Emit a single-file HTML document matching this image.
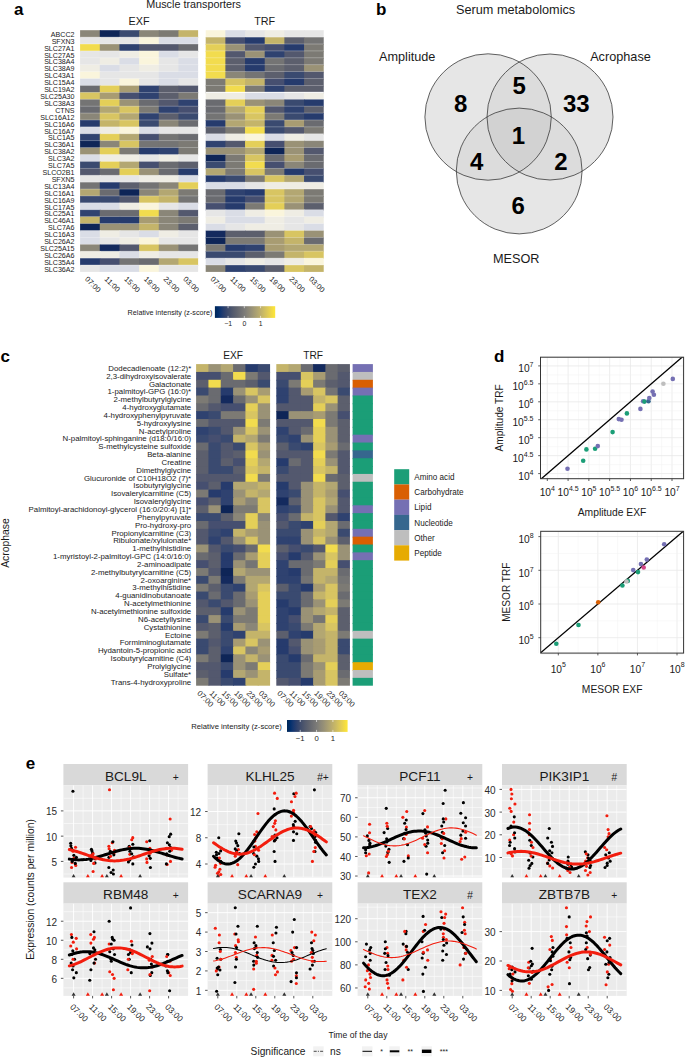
<!DOCTYPE html><html><head><meta charset="utf-8"><style>html,body{margin:0;padding:0;background:#fff;}svg{display:block;font-family:"Liberation Sans",sans-serif;}</style></head><body>
<svg width="685" height="1057" viewBox="0 0 685 1057">
<rect width="685" height="1057" fill="#fff"/>
<text x="14" y="15.4" font-size="17" font-weight="bold" fill="#000">a</text>
<text x="146.2" y="8" font-size="10.8" fill="#1a1a1a">Muscle transporters</text>
<text x="139.1" y="24.7" font-size="10.8" text-anchor="middle" fill="#1a1a1a">EXF</text>
<text x="264.7" y="24.7" font-size="10.8" text-anchor="middle" fill="#1a1a1a">TRF</text>
<rect x="80.1" y="30.2" width="20.57" height="7.81" fill="#8a8678"/>
<rect x="99.77" y="30.2" width="20.57" height="7.81" fill="#0e2557"/>
<rect x="119.44" y="30.2" width="20.57" height="7.81" fill="#3a4a70"/>
<rect x="139.11" y="30.2" width="20.57" height="7.81" fill="#8a8678"/>
<rect x="158.78" y="30.2" width="20.57" height="7.81" fill="#7c7a74"/>
<rect x="178.45" y="30.2" width="19.67" height="7.81" fill="#c4b46a"/>
<rect x="80.1" y="37.11" width="20.57" height="7.81" fill="#e6e6e6"/>
<rect x="99.77" y="37.11" width="20.57" height="7.81" fill="#e6e6e6"/>
<rect x="119.44" y="37.11" width="20.57" height="7.81" fill="#e6e6e6"/>
<rect x="139.11" y="37.11" width="20.57" height="7.81" fill="#faf5dc"/>
<rect x="158.78" y="37.11" width="20.57" height="7.81" fill="#dadde6"/>
<rect x="178.45" y="37.11" width="19.67" height="7.81" fill="#dadde6"/>
<rect x="80.1" y="44.01" width="20.57" height="7.81" fill="#f2dc4e"/>
<rect x="99.77" y="44.01" width="20.57" height="7.81" fill="#9a9276"/>
<rect x="119.44" y="44.01" width="20.57" height="7.81" fill="#2f4270"/>
<rect x="139.11" y="44.01" width="20.57" height="7.81" fill="#53586e"/>
<rect x="158.78" y="44.01" width="20.57" height="7.81" fill="#53586e"/>
<rect x="178.45" y="44.01" width="19.67" height="7.81" fill="#6a6b70"/>
<rect x="80.1" y="50.92" width="20.57" height="7.81" fill="#e6e6e6"/>
<rect x="99.77" y="50.92" width="20.57" height="7.81" fill="#e6e6e6"/>
<rect x="119.44" y="50.92" width="20.57" height="7.81" fill="#efede4"/>
<rect x="139.11" y="50.92" width="20.57" height="7.81" fill="#faf5dc"/>
<rect x="158.78" y="50.92" width="20.57" height="7.81" fill="#dadde6"/>
<rect x="178.45" y="50.92" width="19.67" height="7.81" fill="#e6e6e6"/>
<rect x="80.1" y="57.82" width="20.57" height="7.81" fill="#e6e6e6"/>
<rect x="99.77" y="57.82" width="20.57" height="7.81" fill="#efede4"/>
<rect x="119.44" y="57.82" width="20.57" height="7.81" fill="#dadde6"/>
<rect x="139.11" y="57.82" width="20.57" height="7.81" fill="#faf5dc"/>
<rect x="158.78" y="57.82" width="20.57" height="7.81" fill="#e6e6e6"/>
<rect x="178.45" y="57.82" width="19.67" height="7.81" fill="#dadde6"/>
<rect x="80.1" y="64.73" width="20.57" height="7.81" fill="#efede4"/>
<rect x="99.77" y="64.73" width="20.57" height="7.81" fill="#dadde6"/>
<rect x="119.44" y="64.73" width="20.57" height="7.81" fill="#e6e6e6"/>
<rect x="139.11" y="64.73" width="20.57" height="7.81" fill="#efede4"/>
<rect x="158.78" y="64.73" width="20.57" height="7.81" fill="#e6e6e6"/>
<rect x="178.45" y="64.73" width="19.67" height="7.81" fill="#dadde6"/>
<rect x="80.1" y="71.64" width="20.57" height="7.81" fill="#faf5dc"/>
<rect x="99.77" y="71.64" width="20.57" height="7.81" fill="#e6e6e6"/>
<rect x="119.44" y="71.64" width="20.57" height="7.81" fill="#e6e6e6"/>
<rect x="139.11" y="71.64" width="20.57" height="7.81" fill="#e6e6e6"/>
<rect x="158.78" y="71.64" width="20.57" height="7.81" fill="#dadde6"/>
<rect x="178.45" y="71.64" width="19.67" height="7.81" fill="#dadde6"/>
<rect x="80.1" y="78.54" width="20.57" height="7.81" fill="#dadde6"/>
<rect x="99.77" y="78.54" width="20.57" height="7.81" fill="#e6e6e6"/>
<rect x="119.44" y="78.54" width="20.57" height="7.81" fill="#faf5dc"/>
<rect x="139.11" y="78.54" width="20.57" height="7.81" fill="#e6e6e6"/>
<rect x="158.78" y="78.54" width="20.57" height="7.81" fill="#dadde6"/>
<rect x="178.45" y="78.54" width="19.67" height="7.81" fill="#e6e6e6"/>
<rect x="80.1" y="85.45" width="20.57" height="7.81" fill="#6a6b70"/>
<rect x="99.77" y="85.45" width="20.57" height="7.81" fill="#e4cf58"/>
<rect x="119.44" y="85.45" width="20.57" height="7.81" fill="#a89c72"/>
<rect x="139.11" y="85.45" width="20.57" height="7.81" fill="#2f4270"/>
<rect x="158.78" y="85.45" width="20.57" height="7.81" fill="#5c5f6d"/>
<rect x="178.45" y="85.45" width="19.67" height="7.81" fill="#53586e"/>
<rect x="80.1" y="92.35" width="20.57" height="7.81" fill="#d8c562"/>
<rect x="99.77" y="92.35" width="20.57" height="7.81" fill="#a89c72"/>
<rect x="119.44" y="92.35" width="20.57" height="7.81" fill="#464f70"/>
<rect x="139.11" y="92.35" width="20.57" height="7.81" fill="#2f4270"/>
<rect x="158.78" y="92.35" width="20.57" height="7.81" fill="#5c5f6d"/>
<rect x="178.45" y="92.35" width="19.67" height="7.81" fill="#7c7a74"/>
<rect x="80.1" y="99.26" width="20.57" height="7.81" fill="#747474"/>
<rect x="99.77" y="99.26" width="20.57" height="7.81" fill="#e4cf58"/>
<rect x="119.44" y="99.26" width="20.57" height="7.81" fill="#9a9276"/>
<rect x="139.11" y="99.26" width="20.57" height="7.81" fill="#6a6b70"/>
<rect x="158.78" y="99.26" width="20.57" height="7.81" fill="#53586e"/>
<rect x="178.45" y="99.26" width="19.67" height="7.81" fill="#2f4270"/>
<rect x="80.1" y="106.17" width="20.57" height="7.81" fill="#6a6b70"/>
<rect x="99.77" y="106.17" width="20.57" height="7.81" fill="#b3a772"/>
<rect x="119.44" y="106.17" width="20.57" height="7.81" fill="#d8c562"/>
<rect x="139.11" y="106.17" width="20.57" height="7.81" fill="#7c7a74"/>
<rect x="158.78" y="106.17" width="20.57" height="7.81" fill="#2f4270"/>
<rect x="178.45" y="106.17" width="19.67" height="7.81" fill="#464f70"/>
<rect x="80.1" y="113.07" width="20.57" height="7.81" fill="#8a8678"/>
<rect x="99.77" y="113.07" width="20.57" height="7.81" fill="#d8c562"/>
<rect x="119.44" y="113.07" width="20.57" height="7.81" fill="#b3a772"/>
<rect x="139.11" y="113.07" width="20.57" height="7.81" fill="#2f4270"/>
<rect x="158.78" y="113.07" width="20.57" height="7.81" fill="#5c5f6d"/>
<rect x="178.45" y="113.07" width="19.67" height="7.81" fill="#3a4a70"/>
<rect x="80.1" y="119.98" width="20.57" height="7.81" fill="#263b6d"/>
<rect x="99.77" y="119.98" width="20.57" height="7.81" fill="#c4b46a"/>
<rect x="119.44" y="119.98" width="20.57" height="7.81" fill="#d8c562"/>
<rect x="139.11" y="119.98" width="20.57" height="7.81" fill="#3a4a70"/>
<rect x="158.78" y="119.98" width="20.57" height="7.81" fill="#8a8678"/>
<rect x="178.45" y="119.98" width="19.67" height="7.81" fill="#6a6b70"/>
<rect x="80.1" y="126.88" width="20.57" height="7.81" fill="#dadde6"/>
<rect x="99.77" y="126.88" width="20.57" height="7.81" fill="#efede4"/>
<rect x="119.44" y="126.88" width="20.57" height="7.81" fill="#faf5dc"/>
<rect x="139.11" y="126.88" width="20.57" height="7.81" fill="#dadde6"/>
<rect x="158.78" y="126.88" width="20.57" height="7.81" fill="#e6e6e6"/>
<rect x="178.45" y="126.88" width="19.67" height="7.81" fill="#e6e6e6"/>
<rect x="80.1" y="133.79" width="20.57" height="7.81" fill="#2f4270"/>
<rect x="99.77" y="133.79" width="20.57" height="7.81" fill="#e4cf58"/>
<rect x="119.44" y="133.79" width="20.57" height="7.81" fill="#b3a772"/>
<rect x="139.11" y="133.79" width="20.57" height="7.81" fill="#464f70"/>
<rect x="158.78" y="133.79" width="20.57" height="7.81" fill="#747474"/>
<rect x="178.45" y="133.79" width="19.67" height="7.81" fill="#6a6b70"/>
<rect x="80.1" y="140.7" width="20.57" height="7.81" fill="#0e2557"/>
<rect x="99.77" y="140.7" width="20.57" height="7.81" fill="#8a8678"/>
<rect x="119.44" y="140.7" width="20.57" height="7.81" fill="#d8c562"/>
<rect x="139.11" y="140.7" width="20.57" height="7.81" fill="#747474"/>
<rect x="158.78" y="140.7" width="20.57" height="7.81" fill="#747474"/>
<rect x="178.45" y="140.7" width="19.67" height="7.81" fill="#7c7a74"/>
<rect x="80.1" y="147.6" width="20.57" height="7.81" fill="#9a9276"/>
<rect x="99.77" y="147.6" width="20.57" height="7.81" fill="#e4cf58"/>
<rect x="119.44" y="147.6" width="20.57" height="7.81" fill="#7c7a74"/>
<rect x="139.11" y="147.6" width="20.57" height="7.81" fill="#263b6d"/>
<rect x="158.78" y="147.6" width="20.57" height="7.81" fill="#2f4270"/>
<rect x="178.45" y="147.6" width="19.67" height="7.81" fill="#7c7a74"/>
<rect x="80.1" y="154.51" width="20.57" height="7.81" fill="#dadde6"/>
<rect x="99.77" y="154.51" width="20.57" height="7.81" fill="#efede4"/>
<rect x="119.44" y="154.51" width="20.57" height="7.81" fill="#efede4"/>
<rect x="139.11" y="154.51" width="20.57" height="7.81" fill="#e6e6e6"/>
<rect x="158.78" y="154.51" width="20.57" height="7.81" fill="#efede4"/>
<rect x="178.45" y="154.51" width="19.67" height="7.81" fill="#e6e6e6"/>
<rect x="80.1" y="161.41" width="20.57" height="7.81" fill="#3a4a70"/>
<rect x="99.77" y="161.41" width="20.57" height="7.81" fill="#e4cf58"/>
<rect x="119.44" y="161.41" width="20.57" height="7.81" fill="#b3a772"/>
<rect x="139.11" y="161.41" width="20.57" height="7.81" fill="#464f70"/>
<rect x="158.78" y="161.41" width="20.57" height="7.81" fill="#6a6b70"/>
<rect x="178.45" y="161.41" width="19.67" height="7.81" fill="#5c5f6d"/>
<rect x="80.1" y="168.32" width="20.57" height="7.81" fill="#53586e"/>
<rect x="99.77" y="168.32" width="20.57" height="7.81" fill="#6a6b70"/>
<rect x="119.44" y="168.32" width="20.57" height="7.81" fill="#e4cf58"/>
<rect x="139.11" y="168.32" width="20.57" height="7.81" fill="#9a9276"/>
<rect x="158.78" y="168.32" width="20.57" height="7.81" fill="#6a6b70"/>
<rect x="178.45" y="168.32" width="19.67" height="7.81" fill="#263b6d"/>
<rect x="80.1" y="175.23" width="20.57" height="7.81" fill="#e6e6e6"/>
<rect x="99.77" y="175.23" width="20.57" height="7.81" fill="#e6e6e6"/>
<rect x="119.44" y="175.23" width="20.57" height="7.81" fill="#e6e6e6"/>
<rect x="139.11" y="175.23" width="20.57" height="7.81" fill="#efede4"/>
<rect x="158.78" y="175.23" width="20.57" height="7.81" fill="#efede4"/>
<rect x="178.45" y="175.23" width="19.67" height="7.81" fill="#dadde6"/>
<rect x="80.1" y="182.13" width="20.57" height="7.81" fill="#747474"/>
<rect x="99.77" y="182.13" width="20.57" height="7.81" fill="#263b6d"/>
<rect x="119.44" y="182.13" width="20.57" height="7.81" fill="#5c5f6d"/>
<rect x="139.11" y="182.13" width="20.57" height="7.81" fill="#747474"/>
<rect x="158.78" y="182.13" width="20.57" height="7.81" fill="#8a8678"/>
<rect x="178.45" y="182.13" width="19.67" height="7.81" fill="#e4cf58"/>
<rect x="80.1" y="189.04" width="20.57" height="7.81" fill="#b3a772"/>
<rect x="99.77" y="189.04" width="20.57" height="7.81" fill="#6a6b70"/>
<rect x="119.44" y="189.04" width="20.57" height="7.81" fill="#0e2557"/>
<rect x="139.11" y="189.04" width="20.57" height="7.81" fill="#8a8678"/>
<rect x="158.78" y="189.04" width="20.57" height="7.81" fill="#b3a772"/>
<rect x="178.45" y="189.04" width="19.67" height="7.81" fill="#7c7a74"/>
<rect x="80.1" y="195.94" width="20.57" height="7.81" fill="#3a4a70"/>
<rect x="99.77" y="195.94" width="20.57" height="7.81" fill="#3a4a70"/>
<rect x="119.44" y="195.94" width="20.57" height="7.81" fill="#53586e"/>
<rect x="139.11" y="195.94" width="20.57" height="7.81" fill="#d8c562"/>
<rect x="158.78" y="195.94" width="20.57" height="7.81" fill="#c4b46a"/>
<rect x="178.45" y="195.94" width="19.67" height="7.81" fill="#747474"/>
<rect x="80.1" y="202.85" width="20.57" height="7.81" fill="#dadde6"/>
<rect x="99.77" y="202.85" width="20.57" height="7.81" fill="#dadde6"/>
<rect x="119.44" y="202.85" width="20.57" height="7.81" fill="#efede4"/>
<rect x="139.11" y="202.85" width="20.57" height="7.81" fill="#faf5dc"/>
<rect x="158.78" y="202.85" width="20.57" height="7.81" fill="#e6e6e6"/>
<rect x="178.45" y="202.85" width="19.67" height="7.81" fill="#dadde6"/>
<rect x="80.1" y="209.76" width="20.57" height="7.81" fill="#2f4270"/>
<rect x="99.77" y="209.76" width="20.57" height="7.81" fill="#6a6b70"/>
<rect x="119.44" y="209.76" width="20.57" height="7.81" fill="#6a6b70"/>
<rect x="139.11" y="209.76" width="20.57" height="7.81" fill="#f2dc4e"/>
<rect x="158.78" y="209.76" width="20.57" height="7.81" fill="#8a8678"/>
<rect x="178.45" y="209.76" width="19.67" height="7.81" fill="#53586e"/>
<rect x="80.1" y="216.66" width="20.57" height="7.81" fill="#c4b46a"/>
<rect x="99.77" y="216.66" width="20.57" height="7.81" fill="#263b6d"/>
<rect x="119.44" y="216.66" width="20.57" height="7.81" fill="#263b6d"/>
<rect x="139.11" y="216.66" width="20.57" height="7.81" fill="#a89c72"/>
<rect x="158.78" y="216.66" width="20.57" height="7.81" fill="#8a8678"/>
<rect x="178.45" y="216.66" width="19.67" height="7.81" fill="#7c7a74"/>
<rect x="80.1" y="223.57" width="20.57" height="7.81" fill="#0e2557"/>
<rect x="99.77" y="223.57" width="20.57" height="7.81" fill="#9a9276"/>
<rect x="119.44" y="223.57" width="20.57" height="7.81" fill="#9a9276"/>
<rect x="139.11" y="223.57" width="20.57" height="7.81" fill="#c4b46a"/>
<rect x="158.78" y="223.57" width="20.57" height="7.81" fill="#8a8678"/>
<rect x="178.45" y="223.57" width="19.67" height="7.81" fill="#5c5f6d"/>
<rect x="80.1" y="230.47" width="20.57" height="7.81" fill="#dadde6"/>
<rect x="99.77" y="230.47" width="20.57" height="7.81" fill="#efede4"/>
<rect x="119.44" y="230.47" width="20.57" height="7.81" fill="#e6e6e6"/>
<rect x="139.11" y="230.47" width="20.57" height="7.81" fill="#dadde6"/>
<rect x="158.78" y="230.47" width="20.57" height="7.81" fill="#efede4"/>
<rect x="178.45" y="230.47" width="19.67" height="7.81" fill="#e6e6e6"/>
<rect x="80.1" y="237.38" width="20.57" height="7.81" fill="#dadde6"/>
<rect x="99.77" y="237.38" width="20.57" height="7.81" fill="#e6e6e6"/>
<rect x="119.44" y="237.38" width="20.57" height="7.81" fill="#efede4"/>
<rect x="139.11" y="237.38" width="20.57" height="7.81" fill="#faf5dc"/>
<rect x="158.78" y="237.38" width="20.57" height="7.81" fill="#e6e6e6"/>
<rect x="178.45" y="237.38" width="19.67" height="7.81" fill="#e6e6e6"/>
<rect x="80.1" y="244.29" width="20.57" height="7.81" fill="#8a8678"/>
<rect x="99.77" y="244.29" width="20.57" height="7.81" fill="#142a5e"/>
<rect x="119.44" y="244.29" width="20.57" height="7.81" fill="#53586e"/>
<rect x="139.11" y="244.29" width="20.57" height="7.81" fill="#d8c562"/>
<rect x="158.78" y="244.29" width="20.57" height="7.81" fill="#9a9276"/>
<rect x="178.45" y="244.29" width="19.67" height="7.81" fill="#747474"/>
<rect x="80.1" y="251.19" width="20.57" height="7.81" fill="#efede4"/>
<rect x="99.77" y="251.19" width="20.57" height="7.81" fill="#efede4"/>
<rect x="119.44" y="251.19" width="20.57" height="7.81" fill="#dadde6"/>
<rect x="139.11" y="251.19" width="20.57" height="7.81" fill="#efede4"/>
<rect x="158.78" y="251.19" width="20.57" height="7.81" fill="#e6e6e6"/>
<rect x="178.45" y="251.19" width="19.67" height="7.81" fill="#e6e6e6"/>
<rect x="80.1" y="258.1" width="20.57" height="7.81" fill="#263b6d"/>
<rect x="99.77" y="258.1" width="20.57" height="7.81" fill="#464f70"/>
<rect x="119.44" y="258.1" width="20.57" height="7.81" fill="#747474"/>
<rect x="139.11" y="258.1" width="20.57" height="7.81" fill="#6a6b70"/>
<rect x="158.78" y="258.1" width="20.57" height="7.81" fill="#b3a772"/>
<rect x="178.45" y="258.1" width="19.67" height="7.81" fill="#d8c562"/>
<rect x="80.1" y="265" width="20.57" height="6.91" fill="#e6e6e6"/>
<rect x="99.77" y="265" width="20.57" height="6.91" fill="#dadde6"/>
<rect x="119.44" y="265" width="20.57" height="6.91" fill="#dadde6"/>
<rect x="139.11" y="265" width="20.57" height="6.91" fill="#faf5dc"/>
<rect x="158.78" y="265" width="20.57" height="6.91" fill="#e6e6e6"/>
<rect x="178.45" y="265" width="19.67" height="6.91" fill="#e6e6e6"/>
<rect x="80.1" y="36.76" width="118.02" height="0.7" fill="#fff" fill-opacity="0.4"/>
<rect x="80.1" y="43.66" width="118.02" height="0.7" fill="#fff" fill-opacity="0.4"/>
<rect x="80.1" y="50.57" width="118.02" height="0.7" fill="#fff" fill-opacity="0.4"/>
<rect x="80.1" y="57.47" width="118.02" height="0.7" fill="#fff" fill-opacity="0.4"/>
<rect x="80.1" y="64.38" width="118.02" height="0.7" fill="#fff" fill-opacity="0.4"/>
<rect x="80.1" y="71.29" width="118.02" height="0.7" fill="#fff" fill-opacity="0.4"/>
<rect x="80.1" y="78.19" width="118.02" height="0.7" fill="#fff" fill-opacity="0.4"/>
<rect x="80.1" y="85.1" width="118.02" height="0.7" fill="#fff" fill-opacity="0.4"/>
<rect x="80.1" y="92" width="118.02" height="0.7" fill="#fff" fill-opacity="0.4"/>
<rect x="80.1" y="98.91" width="118.02" height="0.7" fill="#fff" fill-opacity="0.4"/>
<rect x="80.1" y="105.82" width="118.02" height="0.7" fill="#fff" fill-opacity="0.4"/>
<rect x="80.1" y="112.72" width="118.02" height="0.7" fill="#fff" fill-opacity="0.4"/>
<rect x="80.1" y="119.63" width="118.02" height="0.7" fill="#fff" fill-opacity="0.4"/>
<rect x="80.1" y="126.53" width="118.02" height="0.7" fill="#fff" fill-opacity="0.4"/>
<rect x="80.1" y="133.44" width="118.02" height="0.7" fill="#fff" fill-opacity="0.4"/>
<rect x="80.1" y="140.35" width="118.02" height="0.7" fill="#fff" fill-opacity="0.4"/>
<rect x="80.1" y="147.25" width="118.02" height="0.7" fill="#fff" fill-opacity="0.4"/>
<rect x="80.1" y="154.16" width="118.02" height="0.7" fill="#fff" fill-opacity="0.4"/>
<rect x="80.1" y="161.06" width="118.02" height="0.7" fill="#fff" fill-opacity="0.4"/>
<rect x="80.1" y="167.97" width="118.02" height="0.7" fill="#fff" fill-opacity="0.4"/>
<rect x="80.1" y="174.88" width="118.02" height="0.7" fill="#fff" fill-opacity="0.4"/>
<rect x="80.1" y="181.78" width="118.02" height="0.7" fill="#fff" fill-opacity="0.4"/>
<rect x="80.1" y="188.69" width="118.02" height="0.7" fill="#fff" fill-opacity="0.4"/>
<rect x="80.1" y="195.59" width="118.02" height="0.7" fill="#fff" fill-opacity="0.4"/>
<rect x="80.1" y="202.5" width="118.02" height="0.7" fill="#fff" fill-opacity="0.4"/>
<rect x="80.1" y="209.41" width="118.02" height="0.7" fill="#fff" fill-opacity="0.4"/>
<rect x="80.1" y="216.31" width="118.02" height="0.7" fill="#fff" fill-opacity="0.4"/>
<rect x="80.1" y="223.22" width="118.02" height="0.7" fill="#fff" fill-opacity="0.4"/>
<rect x="80.1" y="230.12" width="118.02" height="0.7" fill="#fff" fill-opacity="0.4"/>
<rect x="80.1" y="237.03" width="118.02" height="0.7" fill="#fff" fill-opacity="0.4"/>
<rect x="80.1" y="243.94" width="118.02" height="0.7" fill="#fff" fill-opacity="0.4"/>
<rect x="80.1" y="250.84" width="118.02" height="0.7" fill="#fff" fill-opacity="0.4"/>
<rect x="80.1" y="257.75" width="118.02" height="0.7" fill="#fff" fill-opacity="0.4"/>
<rect x="80.1" y="264.65" width="118.02" height="0.7" fill="#fff" fill-opacity="0.4"/>
<rect x="205.7" y="30.2" width="20.57" height="7.81" fill="#faf5dc"/>
<rect x="225.37" y="30.2" width="20.57" height="7.81" fill="#dadde6"/>
<rect x="245.04" y="30.2" width="20.57" height="7.81" fill="#e6e6e6"/>
<rect x="264.71" y="30.2" width="20.57" height="7.81" fill="#efede4"/>
<rect x="284.38" y="30.2" width="20.57" height="7.81" fill="#e6e6e6"/>
<rect x="304.05" y="30.2" width="19.67" height="7.81" fill="#e6e6e6"/>
<rect x="205.7" y="37.11" width="20.57" height="7.81" fill="#c4b46a"/>
<rect x="225.37" y="37.11" width="20.57" height="7.81" fill="#464f70"/>
<rect x="245.04" y="37.11" width="20.57" height="7.81" fill="#263b6d"/>
<rect x="264.71" y="37.11" width="20.57" height="7.81" fill="#c4b46a"/>
<rect x="284.38" y="37.11" width="20.57" height="7.81" fill="#5c5f6d"/>
<rect x="304.05" y="37.11" width="19.67" height="7.81" fill="#747474"/>
<rect x="205.7" y="44.01" width="20.57" height="7.81" fill="#e4cf58"/>
<rect x="225.37" y="44.01" width="20.57" height="7.81" fill="#9a9276"/>
<rect x="245.04" y="44.01" width="20.57" height="7.81" fill="#53586e"/>
<rect x="264.71" y="44.01" width="20.57" height="7.81" fill="#464f70"/>
<rect x="284.38" y="44.01" width="20.57" height="7.81" fill="#263b6d"/>
<rect x="304.05" y="44.01" width="19.67" height="7.81" fill="#7c7a74"/>
<rect x="205.7" y="50.92" width="20.57" height="7.81" fill="#f2dc4e"/>
<rect x="225.37" y="50.92" width="20.57" height="7.81" fill="#53586e"/>
<rect x="245.04" y="50.92" width="20.57" height="7.81" fill="#9a9276"/>
<rect x="264.71" y="50.92" width="20.57" height="7.81" fill="#2f4270"/>
<rect x="284.38" y="50.92" width="20.57" height="7.81" fill="#53586e"/>
<rect x="304.05" y="50.92" width="19.67" height="7.81" fill="#7c7a74"/>
<rect x="205.7" y="57.82" width="20.57" height="7.81" fill="#f2dc4e"/>
<rect x="225.37" y="57.82" width="20.57" height="7.81" fill="#5c5f6d"/>
<rect x="245.04" y="57.82" width="20.57" height="7.81" fill="#263b6d"/>
<rect x="264.71" y="57.82" width="20.57" height="7.81" fill="#747474"/>
<rect x="284.38" y="57.82" width="20.57" height="7.81" fill="#5c5f6d"/>
<rect x="304.05" y="57.82" width="19.67" height="7.81" fill="#7c7a74"/>
<rect x="205.7" y="64.73" width="20.57" height="7.81" fill="#f2dc4e"/>
<rect x="225.37" y="64.73" width="20.57" height="7.81" fill="#5c5f6d"/>
<rect x="245.04" y="64.73" width="20.57" height="7.81" fill="#263b6d"/>
<rect x="264.71" y="64.73" width="20.57" height="7.81" fill="#6a6b70"/>
<rect x="284.38" y="64.73" width="20.57" height="7.81" fill="#5c5f6d"/>
<rect x="304.05" y="64.73" width="19.67" height="7.81" fill="#9a9276"/>
<rect x="205.7" y="71.64" width="20.57" height="7.81" fill="#f2dc4e"/>
<rect x="225.37" y="71.64" width="20.57" height="7.81" fill="#8a8678"/>
<rect x="245.04" y="71.64" width="20.57" height="7.81" fill="#747474"/>
<rect x="264.71" y="71.64" width="20.57" height="7.81" fill="#5c5f6d"/>
<rect x="284.38" y="71.64" width="20.57" height="7.81" fill="#3a4a70"/>
<rect x="304.05" y="71.64" width="19.67" height="7.81" fill="#53586e"/>
<rect x="205.7" y="78.54" width="20.57" height="7.81" fill="#7c7a74"/>
<rect x="225.37" y="78.54" width="20.57" height="7.81" fill="#d8c562"/>
<rect x="245.04" y="78.54" width="20.57" height="7.81" fill="#c4b46a"/>
<rect x="264.71" y="78.54" width="20.57" height="7.81" fill="#464f70"/>
<rect x="284.38" y="78.54" width="20.57" height="7.81" fill="#263b6d"/>
<rect x="304.05" y="78.54" width="19.67" height="7.81" fill="#5c5f6d"/>
<rect x="205.7" y="85.45" width="20.57" height="7.81" fill="#7c7a74"/>
<rect x="225.37" y="85.45" width="20.57" height="7.81" fill="#f2dc4e"/>
<rect x="245.04" y="85.45" width="20.57" height="7.81" fill="#7c7a74"/>
<rect x="264.71" y="85.45" width="20.57" height="7.81" fill="#2f4270"/>
<rect x="284.38" y="85.45" width="20.57" height="7.81" fill="#5c5f6d"/>
<rect x="304.05" y="85.45" width="19.67" height="7.81" fill="#5c5f6d"/>
<rect x="205.7" y="92.35" width="20.57" height="7.81" fill="#efede4"/>
<rect x="225.37" y="92.35" width="20.57" height="7.81" fill="#efede4"/>
<rect x="245.04" y="92.35" width="20.57" height="7.81" fill="#dadde6"/>
<rect x="264.71" y="92.35" width="20.57" height="7.81" fill="#dadde6"/>
<rect x="284.38" y="92.35" width="20.57" height="7.81" fill="#e6e6e6"/>
<rect x="304.05" y="92.35" width="19.67" height="7.81" fill="#efede4"/>
<rect x="205.7" y="99.26" width="20.57" height="7.81" fill="#6a6b70"/>
<rect x="225.37" y="99.26" width="20.57" height="7.81" fill="#e4cf58"/>
<rect x="245.04" y="99.26" width="20.57" height="7.81" fill="#9a9276"/>
<rect x="264.71" y="99.26" width="20.57" height="7.81" fill="#8a8678"/>
<rect x="284.38" y="99.26" width="20.57" height="7.81" fill="#3a4a70"/>
<rect x="304.05" y="99.26" width="19.67" height="7.81" fill="#263b6d"/>
<rect x="205.7" y="106.17" width="20.57" height="7.81" fill="#6a6b70"/>
<rect x="225.37" y="106.17" width="20.57" height="7.81" fill="#b3a772"/>
<rect x="245.04" y="106.17" width="20.57" height="7.81" fill="#e4cf58"/>
<rect x="264.71" y="106.17" width="20.57" height="7.81" fill="#53586e"/>
<rect x="284.38" y="106.17" width="20.57" height="7.81" fill="#2f4270"/>
<rect x="304.05" y="106.17" width="19.67" height="7.81" fill="#5c5f6d"/>
<rect x="205.7" y="113.07" width="20.57" height="7.81" fill="#747474"/>
<rect x="225.37" y="113.07" width="20.57" height="7.81" fill="#9a9276"/>
<rect x="245.04" y="113.07" width="20.57" height="7.81" fill="#d8c562"/>
<rect x="264.71" y="113.07" width="20.57" height="7.81" fill="#7c7a74"/>
<rect x="284.38" y="113.07" width="20.57" height="7.81" fill="#3a4a70"/>
<rect x="304.05" y="113.07" width="19.67" height="7.81" fill="#263b6d"/>
<rect x="205.7" y="119.98" width="20.57" height="7.81" fill="#263b6d"/>
<rect x="225.37" y="119.98" width="20.57" height="7.81" fill="#b3a772"/>
<rect x="245.04" y="119.98" width="20.57" height="7.81" fill="#c4b46a"/>
<rect x="264.71" y="119.98" width="20.57" height="7.81" fill="#3a4a70"/>
<rect x="284.38" y="119.98" width="20.57" height="7.81" fill="#a89c72"/>
<rect x="304.05" y="119.98" width="19.67" height="7.81" fill="#6a6b70"/>
<rect x="205.7" y="126.88" width="20.57" height="7.81" fill="#5c5f6d"/>
<rect x="225.37" y="126.88" width="20.57" height="7.81" fill="#7c7a74"/>
<rect x="245.04" y="126.88" width="20.57" height="7.81" fill="#f2dc4e"/>
<rect x="264.71" y="126.88" width="20.57" height="7.81" fill="#3a4a70"/>
<rect x="284.38" y="126.88" width="20.57" height="7.81" fill="#53586e"/>
<rect x="304.05" y="126.88" width="19.67" height="7.81" fill="#7c7a74"/>
<rect x="205.7" y="133.79" width="20.57" height="7.81" fill="#dadde6"/>
<rect x="225.37" y="133.79" width="20.57" height="7.81" fill="#efede4"/>
<rect x="245.04" y="133.79" width="20.57" height="7.81" fill="#faf5dc"/>
<rect x="264.71" y="133.79" width="20.57" height="7.81" fill="#dadde6"/>
<rect x="284.38" y="133.79" width="20.57" height="7.81" fill="#efede4"/>
<rect x="304.05" y="133.79" width="19.67" height="7.81" fill="#e6e6e6"/>
<rect x="205.7" y="140.7" width="20.57" height="7.81" fill="#2f4270"/>
<rect x="225.37" y="140.7" width="20.57" height="7.81" fill="#53586e"/>
<rect x="245.04" y="140.7" width="20.57" height="7.81" fill="#e4cf58"/>
<rect x="264.71" y="140.7" width="20.57" height="7.81" fill="#464f70"/>
<rect x="284.38" y="140.7" width="20.57" height="7.81" fill="#9a9276"/>
<rect x="304.05" y="140.7" width="19.67" height="7.81" fill="#8a8678"/>
<rect x="205.7" y="147.6" width="20.57" height="7.81" fill="#9a9276"/>
<rect x="225.37" y="147.6" width="20.57" height="7.81" fill="#9a9276"/>
<rect x="245.04" y="147.6" width="20.57" height="7.81" fill="#b3a772"/>
<rect x="264.71" y="147.6" width="20.57" height="7.81" fill="#0e2557"/>
<rect x="284.38" y="147.6" width="20.57" height="7.81" fill="#9a9276"/>
<rect x="304.05" y="147.6" width="19.67" height="7.81" fill="#53586e"/>
<rect x="205.7" y="154.51" width="20.57" height="7.81" fill="#0e2557"/>
<rect x="225.37" y="154.51" width="20.57" height="7.81" fill="#7c7a74"/>
<rect x="245.04" y="154.51" width="20.57" height="7.81" fill="#d8c562"/>
<rect x="264.71" y="154.51" width="20.57" height="7.81" fill="#6a6b70"/>
<rect x="284.38" y="154.51" width="20.57" height="7.81" fill="#a89c72"/>
<rect x="304.05" y="154.51" width="19.67" height="7.81" fill="#6a6b70"/>
<rect x="205.7" y="161.41" width="20.57" height="7.81" fill="#3a4a70"/>
<rect x="225.37" y="161.41" width="20.57" height="7.81" fill="#7c7a74"/>
<rect x="245.04" y="161.41" width="20.57" height="7.81" fill="#f2dc4e"/>
<rect x="264.71" y="161.41" width="20.57" height="7.81" fill="#464f70"/>
<rect x="284.38" y="161.41" width="20.57" height="7.81" fill="#8a8678"/>
<rect x="304.05" y="161.41" width="19.67" height="7.81" fill="#6a6b70"/>
<rect x="205.7" y="168.32" width="20.57" height="7.81" fill="#b3a772"/>
<rect x="225.37" y="168.32" width="20.57" height="7.81" fill="#7c7a74"/>
<rect x="245.04" y="168.32" width="20.57" height="7.81" fill="#d8c562"/>
<rect x="264.71" y="168.32" width="20.57" height="7.81" fill="#7c7a74"/>
<rect x="284.38" y="168.32" width="20.57" height="7.81" fill="#263b6d"/>
<rect x="304.05" y="168.32" width="19.67" height="7.81" fill="#464f70"/>
<rect x="205.7" y="175.23" width="20.57" height="7.81" fill="#263b6d"/>
<rect x="225.37" y="175.23" width="20.57" height="7.81" fill="#3a4a70"/>
<rect x="245.04" y="175.23" width="20.57" height="7.81" fill="#7c7a74"/>
<rect x="264.71" y="175.23" width="20.57" height="7.81" fill="#d8c562"/>
<rect x="284.38" y="175.23" width="20.57" height="7.81" fill="#b3a772"/>
<rect x="304.05" y="175.23" width="19.67" height="7.81" fill="#3a4a70"/>
<rect x="205.7" y="182.13" width="20.57" height="7.81" fill="#dadde6"/>
<rect x="225.37" y="182.13" width="20.57" height="7.81" fill="#dadde6"/>
<rect x="245.04" y="182.13" width="20.57" height="7.81" fill="#e6e6e6"/>
<rect x="264.71" y="182.13" width="20.57" height="7.81" fill="#efede4"/>
<rect x="284.38" y="182.13" width="20.57" height="7.81" fill="#efede4"/>
<rect x="304.05" y="182.13" width="19.67" height="7.81" fill="#efede4"/>
<rect x="205.7" y="189.04" width="20.57" height="7.81" fill="#6a6b70"/>
<rect x="225.37" y="189.04" width="20.57" height="7.81" fill="#2f4270"/>
<rect x="245.04" y="189.04" width="20.57" height="7.81" fill="#263b6d"/>
<rect x="264.71" y="189.04" width="20.57" height="7.81" fill="#d8c562"/>
<rect x="284.38" y="189.04" width="20.57" height="7.81" fill="#b3a772"/>
<rect x="304.05" y="189.04" width="19.67" height="7.81" fill="#7c7a74"/>
<rect x="205.7" y="195.94" width="20.57" height="7.81" fill="#6a6b70"/>
<rect x="225.37" y="195.94" width="20.57" height="7.81" fill="#263b6d"/>
<rect x="245.04" y="195.94" width="20.57" height="7.81" fill="#464f70"/>
<rect x="264.71" y="195.94" width="20.57" height="7.81" fill="#d8c562"/>
<rect x="284.38" y="195.94" width="20.57" height="7.81" fill="#b3a772"/>
<rect x="304.05" y="195.94" width="19.67" height="7.81" fill="#7c7a74"/>
<rect x="205.7" y="202.85" width="20.57" height="7.81" fill="#464f70"/>
<rect x="225.37" y="202.85" width="20.57" height="7.81" fill="#263b6d"/>
<rect x="245.04" y="202.85" width="20.57" height="7.81" fill="#7c7a74"/>
<rect x="264.71" y="202.85" width="20.57" height="7.81" fill="#e4cf58"/>
<rect x="284.38" y="202.85" width="20.57" height="7.81" fill="#9a9276"/>
<rect x="304.05" y="202.85" width="19.67" height="7.81" fill="#5c5f6d"/>
<rect x="205.7" y="209.76" width="20.57" height="7.81" fill="#e6e6e6"/>
<rect x="225.37" y="209.76" width="20.57" height="7.81" fill="#dadde6"/>
<rect x="245.04" y="209.76" width="20.57" height="7.81" fill="#efede4"/>
<rect x="264.71" y="209.76" width="20.57" height="7.81" fill="#faf5dc"/>
<rect x="284.38" y="209.76" width="20.57" height="7.81" fill="#efede4"/>
<rect x="304.05" y="209.76" width="19.67" height="7.81" fill="#dadde6"/>
<rect x="205.7" y="216.66" width="20.57" height="7.81" fill="#efede4"/>
<rect x="225.37" y="216.66" width="20.57" height="7.81" fill="#dadde6"/>
<rect x="245.04" y="216.66" width="20.57" height="7.81" fill="#dadde6"/>
<rect x="264.71" y="216.66" width="20.57" height="7.81" fill="#efede4"/>
<rect x="284.38" y="216.66" width="20.57" height="7.81" fill="#e6e6e6"/>
<rect x="304.05" y="216.66" width="19.67" height="7.81" fill="#efede4"/>
<rect x="205.7" y="223.57" width="20.57" height="7.81" fill="#dadde6"/>
<rect x="225.37" y="223.57" width="20.57" height="7.81" fill="#e6e6e6"/>
<rect x="245.04" y="223.57" width="20.57" height="7.81" fill="#efede4"/>
<rect x="264.71" y="223.57" width="20.57" height="7.81" fill="#efede4"/>
<rect x="284.38" y="223.57" width="20.57" height="7.81" fill="#e6e6e6"/>
<rect x="304.05" y="223.57" width="19.67" height="7.81" fill="#dadde6"/>
<rect x="205.7" y="230.47" width="20.57" height="7.81" fill="#142a5e"/>
<rect x="225.37" y="230.47" width="20.57" height="7.81" fill="#5c5f6d"/>
<rect x="245.04" y="230.47" width="20.57" height="7.81" fill="#5c5f6d"/>
<rect x="264.71" y="230.47" width="20.57" height="7.81" fill="#9a9276"/>
<rect x="284.38" y="230.47" width="20.57" height="7.81" fill="#d8c562"/>
<rect x="304.05" y="230.47" width="19.67" height="7.81" fill="#9a9276"/>
<rect x="205.7" y="237.38" width="20.57" height="7.81" fill="#0e2557"/>
<rect x="225.37" y="237.38" width="20.57" height="7.81" fill="#7c7a74"/>
<rect x="245.04" y="237.38" width="20.57" height="7.81" fill="#7c7a74"/>
<rect x="264.71" y="237.38" width="20.57" height="7.81" fill="#a89c72"/>
<rect x="284.38" y="237.38" width="20.57" height="7.81" fill="#c4b46a"/>
<rect x="304.05" y="237.38" width="19.67" height="7.81" fill="#6a6b70"/>
<rect x="205.7" y="244.29" width="20.57" height="7.81" fill="#7c7a74"/>
<rect x="225.37" y="244.29" width="20.57" height="7.81" fill="#263b6d"/>
<rect x="245.04" y="244.29" width="20.57" height="7.81" fill="#2f4270"/>
<rect x="264.71" y="244.29" width="20.57" height="7.81" fill="#a89c72"/>
<rect x="284.38" y="244.29" width="20.57" height="7.81" fill="#b3a772"/>
<rect x="304.05" y="244.29" width="19.67" height="7.81" fill="#b3a772"/>
<rect x="205.7" y="251.19" width="20.57" height="7.81" fill="#3a4a70"/>
<rect x="225.37" y="251.19" width="20.57" height="7.81" fill="#3a4a70"/>
<rect x="245.04" y="251.19" width="20.57" height="7.81" fill="#5c5f6d"/>
<rect x="264.71" y="251.19" width="20.57" height="7.81" fill="#7c7a74"/>
<rect x="284.38" y="251.19" width="20.57" height="7.81" fill="#c4b46a"/>
<rect x="304.05" y="251.19" width="19.67" height="7.81" fill="#d8c562"/>
<rect x="205.7" y="258.1" width="20.57" height="7.81" fill="#dadde6"/>
<rect x="225.37" y="258.1" width="20.57" height="7.81" fill="#e6e6e6"/>
<rect x="245.04" y="258.1" width="20.57" height="7.81" fill="#efede4"/>
<rect x="264.71" y="258.1" width="20.57" height="7.81" fill="#e6e6e6"/>
<rect x="284.38" y="258.1" width="20.57" height="7.81" fill="#efede4"/>
<rect x="304.05" y="258.1" width="19.67" height="7.81" fill="#faf5dc"/>
<rect x="205.7" y="265" width="20.57" height="6.91" fill="#8a8678"/>
<rect x="225.37" y="265" width="20.57" height="6.91" fill="#2f4270"/>
<rect x="245.04" y="265" width="20.57" height="6.91" fill="#3a4a70"/>
<rect x="264.71" y="265" width="20.57" height="6.91" fill="#5c5f6d"/>
<rect x="284.38" y="265" width="20.57" height="6.91" fill="#d8c562"/>
<rect x="304.05" y="265" width="19.67" height="6.91" fill="#c4b46a"/>
<rect x="205.7" y="36.76" width="118.02" height="0.7" fill="#fff" fill-opacity="0.4"/>
<rect x="205.7" y="43.66" width="118.02" height="0.7" fill="#fff" fill-opacity="0.4"/>
<rect x="205.7" y="50.57" width="118.02" height="0.7" fill="#fff" fill-opacity="0.4"/>
<rect x="205.7" y="57.47" width="118.02" height="0.7" fill="#fff" fill-opacity="0.4"/>
<rect x="205.7" y="64.38" width="118.02" height="0.7" fill="#fff" fill-opacity="0.4"/>
<rect x="205.7" y="71.29" width="118.02" height="0.7" fill="#fff" fill-opacity="0.4"/>
<rect x="205.7" y="78.19" width="118.02" height="0.7" fill="#fff" fill-opacity="0.4"/>
<rect x="205.7" y="85.1" width="118.02" height="0.7" fill="#fff" fill-opacity="0.4"/>
<rect x="205.7" y="92" width="118.02" height="0.7" fill="#fff" fill-opacity="0.4"/>
<rect x="205.7" y="98.91" width="118.02" height="0.7" fill="#fff" fill-opacity="0.4"/>
<rect x="205.7" y="105.82" width="118.02" height="0.7" fill="#fff" fill-opacity="0.4"/>
<rect x="205.7" y="112.72" width="118.02" height="0.7" fill="#fff" fill-opacity="0.4"/>
<rect x="205.7" y="119.63" width="118.02" height="0.7" fill="#fff" fill-opacity="0.4"/>
<rect x="205.7" y="126.53" width="118.02" height="0.7" fill="#fff" fill-opacity="0.4"/>
<rect x="205.7" y="133.44" width="118.02" height="0.7" fill="#fff" fill-opacity="0.4"/>
<rect x="205.7" y="140.35" width="118.02" height="0.7" fill="#fff" fill-opacity="0.4"/>
<rect x="205.7" y="147.25" width="118.02" height="0.7" fill="#fff" fill-opacity="0.4"/>
<rect x="205.7" y="154.16" width="118.02" height="0.7" fill="#fff" fill-opacity="0.4"/>
<rect x="205.7" y="161.06" width="118.02" height="0.7" fill="#fff" fill-opacity="0.4"/>
<rect x="205.7" y="167.97" width="118.02" height="0.7" fill="#fff" fill-opacity="0.4"/>
<rect x="205.7" y="174.88" width="118.02" height="0.7" fill="#fff" fill-opacity="0.4"/>
<rect x="205.7" y="181.78" width="118.02" height="0.7" fill="#fff" fill-opacity="0.4"/>
<rect x="205.7" y="188.69" width="118.02" height="0.7" fill="#fff" fill-opacity="0.4"/>
<rect x="205.7" y="195.59" width="118.02" height="0.7" fill="#fff" fill-opacity="0.4"/>
<rect x="205.7" y="202.5" width="118.02" height="0.7" fill="#fff" fill-opacity="0.4"/>
<rect x="205.7" y="209.41" width="118.02" height="0.7" fill="#fff" fill-opacity="0.4"/>
<rect x="205.7" y="216.31" width="118.02" height="0.7" fill="#fff" fill-opacity="0.4"/>
<rect x="205.7" y="223.22" width="118.02" height="0.7" fill="#fff" fill-opacity="0.4"/>
<rect x="205.7" y="230.12" width="118.02" height="0.7" fill="#fff" fill-opacity="0.4"/>
<rect x="205.7" y="237.03" width="118.02" height="0.7" fill="#fff" fill-opacity="0.4"/>
<rect x="205.7" y="243.94" width="118.02" height="0.7" fill="#fff" fill-opacity="0.4"/>
<rect x="205.7" y="250.84" width="118.02" height="0.7" fill="#fff" fill-opacity="0.4"/>
<rect x="205.7" y="257.75" width="118.02" height="0.7" fill="#fff" fill-opacity="0.4"/>
<rect x="205.7" y="264.65" width="118.02" height="0.7" fill="#fff" fill-opacity="0.4"/>
<rect x="205.7" y="91.85" width="118.02" height="1" fill="#fff"/>
<text x="74.5" y="36.85" font-size="7.1" text-anchor="end" fill="#1a1a1a">ABCC2</text>
<text x="74.5" y="43.76" font-size="7.1" text-anchor="end" fill="#1a1a1a">SFXN3</text>
<text x="74.5" y="50.67" font-size="7.1" text-anchor="end" fill="#1a1a1a">SLC27A1</text>
<text x="74.5" y="57.57" font-size="7.1" text-anchor="end" fill="#1a1a1a">SLC27A5</text>
<text x="74.5" y="64.48" font-size="7.1" text-anchor="end" fill="#1a1a1a">SLC38A4</text>
<text x="74.5" y="71.38" font-size="7.1" text-anchor="end" fill="#1a1a1a">SLC38A9</text>
<text x="74.5" y="78.29" font-size="7.1" text-anchor="end" fill="#1a1a1a">SLC43A1</text>
<text x="74.5" y="85.2" font-size="7.1" text-anchor="end" fill="#1a1a1a">SLC15A4</text>
<text x="74.5" y="92.1" font-size="7.1" text-anchor="end" fill="#1a1a1a">SLC19A2</text>
<text x="74.5" y="99.01" font-size="7.1" text-anchor="end" fill="#1a1a1a">SLC25A30</text>
<text x="74.5" y="105.91" font-size="7.1" text-anchor="end" fill="#1a1a1a">SLC38A3</text>
<text x="74.5" y="112.82" font-size="7.1" text-anchor="end" fill="#1a1a1a">CTNS</text>
<text x="74.5" y="119.73" font-size="7.1" text-anchor="end" fill="#1a1a1a">SLC16A12</text>
<text x="74.5" y="126.63" font-size="7.1" text-anchor="end" fill="#1a1a1a">SLC16A6</text>
<text x="74.5" y="133.54" font-size="7.1" text-anchor="end" fill="#1a1a1a">SLC16A7</text>
<text x="74.5" y="140.44" font-size="7.1" text-anchor="end" fill="#1a1a1a">SLC1A5</text>
<text x="74.5" y="147.35" font-size="7.1" text-anchor="end" fill="#1a1a1a">SLC36A1</text>
<text x="74.5" y="154.25" font-size="7.1" text-anchor="end" fill="#1a1a1a">SLC38A2</text>
<text x="74.5" y="161.16" font-size="7.1" text-anchor="end" fill="#1a1a1a">SLC3A2</text>
<text x="74.5" y="168.07" font-size="7.1" text-anchor="end" fill="#1a1a1a">SLC7A5</text>
<text x="74.5" y="174.97" font-size="7.1" text-anchor="end" fill="#1a1a1a">SLCO2B1</text>
<text x="74.5" y="181.88" font-size="7.1" text-anchor="end" fill="#1a1a1a">SFXN5</text>
<text x="74.5" y="188.78" font-size="7.1" text-anchor="end" fill="#1a1a1a">SLC13A4</text>
<text x="74.5" y="195.69" font-size="7.1" text-anchor="end" fill="#1a1a1a">SLC16A1</text>
<text x="74.5" y="202.6" font-size="7.1" text-anchor="end" fill="#1a1a1a">SLC16A9</text>
<text x="74.5" y="209.5" font-size="7.1" text-anchor="end" fill="#1a1a1a">SLC17A5</text>
<text x="74.5" y="216.41" font-size="7.1" text-anchor="end" fill="#1a1a1a">SLC25A1</text>
<text x="74.5" y="223.31" font-size="7.1" text-anchor="end" fill="#1a1a1a">SLC46A1</text>
<text x="74.5" y="230.22" font-size="7.1" text-anchor="end" fill="#1a1a1a">SLC7A6</text>
<text x="74.5" y="237.13" font-size="7.1" text-anchor="end" fill="#1a1a1a">SLC16A3</text>
<text x="74.5" y="244.03" font-size="7.1" text-anchor="end" fill="#1a1a1a">SLC26A2</text>
<text x="74.5" y="250.94" font-size="7.1" text-anchor="end" fill="#1a1a1a">SLC25A15</text>
<text x="74.5" y="257.84" font-size="7.1" text-anchor="end" fill="#1a1a1a">SLC26A6</text>
<text x="74.5" y="264.75" font-size="7.1" text-anchor="end" fill="#1a1a1a">SLC35A4</text>
<text x="74.5" y="271.66" font-size="7.1" text-anchor="end" fill="#1a1a1a">SLC36A2</text>
<text transform="translate(84.44,279.6) rotate(45)" font-size="7.5" fill="#1a1a1a">07:00</text>
<text transform="translate(104.1,279.6) rotate(45)" font-size="7.5" fill="#1a1a1a">11:00</text>
<text transform="translate(123.78,279.6) rotate(45)" font-size="7.5" fill="#1a1a1a">15:00</text>
<text transform="translate(143.45,279.6) rotate(45)" font-size="7.5" fill="#1a1a1a">19:00</text>
<text transform="translate(163.12,279.6) rotate(45)" font-size="7.5" fill="#1a1a1a">23:00</text>
<text transform="translate(182.78,279.6) rotate(45)" font-size="7.5" fill="#1a1a1a">03:00</text>
<text transform="translate(210.03,279.6) rotate(45)" font-size="7.5" fill="#1a1a1a">07:00</text>
<text transform="translate(229.71,279.6) rotate(45)" font-size="7.5" fill="#1a1a1a">11:00</text>
<text transform="translate(249.38,279.6) rotate(45)" font-size="7.5" fill="#1a1a1a">15:00</text>
<text transform="translate(269.04,279.6) rotate(45)" font-size="7.5" fill="#1a1a1a">19:00</text>
<text transform="translate(288.71,279.6) rotate(45)" font-size="7.5" fill="#1a1a1a">23:00</text>
<text transform="translate(308.38,279.6) rotate(45)" font-size="7.5" fill="#1a1a1a">03:00</text>
<text x="127.6" y="314.6" font-size="7.2" fill="#1a1a1a">Relative intensity (z-score)</text>
<defs><linearGradient id="cba" x1="0" x2="1" y1="0" y2="0">
<stop offset="0" stop-color="#002656"/>
<stop offset="0.05" stop-color="#002e6c"/>
<stop offset="0.1" stop-color="#163770"/>
<stop offset="0.15" stop-color="#2a3f6d"/>
<stop offset="0.2" stop-color="#3a486c"/>
<stop offset="0.25" stop-color="#46516c"/>
<stop offset="0.3" stop-color="#535a6d"/>
<stop offset="0.35" stop-color="#5e626e"/>
<stop offset="0.4" stop-color="#696b71"/>
<stop offset="0.45" stop-color="#747475"/>
<stop offset="0.5" stop-color="#7e7d78"/>
<stop offset="0.55" stop-color="#8b8778"/>
<stop offset="0.6" stop-color="#969077"/>
<stop offset="0.65" stop-color="#a39a74"/>
<stop offset="0.7" stop-color="#afa471"/>
<stop offset="0.75" stop-color="#bdae6c"/>
<stop offset="0.8" stop-color="#c9b965"/>
<stop offset="0.85" stop-color="#d7c45c"/>
<stop offset="0.9" stop-color="#e5cf52"/>
<stop offset="0.95" stop-color="#f3db42"/>
<stop offset="1" stop-color="#fee838"/>
</linearGradient></defs>
<rect x="214.9" y="306.2" width="60.3" height="11.7" fill="url(#cba)"/>
<line x1="228.07" x2="228.07" y1="306.2" y2="308.2" stroke="#fff" stroke-width="0.6"/>
<line x1="228.07" x2="228.07" y1="315.9" y2="317.9" stroke="#fff" stroke-width="0.6"/>
<text x="228.07" y="326" font-size="6.9" text-anchor="middle" fill="#1a1a1a">−1</text>
<line x1="244.32" x2="244.32" y1="306.2" y2="308.2" stroke="#fff" stroke-width="0.6"/>
<line x1="244.32" x2="244.32" y1="315.9" y2="317.9" stroke="#fff" stroke-width="0.6"/>
<text x="244.32" y="326" font-size="6.9" text-anchor="middle" fill="#1a1a1a">0</text>
<line x1="260.57" x2="260.57" y1="306.2" y2="308.2" stroke="#fff" stroke-width="0.6"/>
<line x1="260.57" x2="260.57" y1="315.9" y2="317.9" stroke="#fff" stroke-width="0.6"/>
<text x="260.57" y="326" font-size="6.9" text-anchor="middle" fill="#1a1a1a">1</text>
<text x="375.9" y="15.2" font-size="17" font-weight="bold" fill="#000">b</text>
<text x="456" y="13.5" font-size="12.7" fill="#1a1a1a">Serum metabolomics</text>
<text x="379" y="61.2" font-size="12.7" fill="#1a1a1a">Amplitude</text>
<text x="650.8" y="60.8" font-size="12.7" text-anchor="end" fill="#1a1a1a">Acrophase</text>
<text x="516.2" y="262.5" font-size="12.7" text-anchor="middle" fill="#1a1a1a">MESOR</text>
<defs><clipPath id="cA"><circle cx="488.1" cy="117" r="63.2"/></clipPath>
<clipPath id="cB"><circle cx="550" cy="117" r="63"/></clipPath>
<clipPath id="cC"><circle cx="519.2" cy="171" r="62.9"/></clipPath></defs>
<circle cx="488.1" cy="117" r="63.2" fill="#e6e6e6"/>
<circle cx="550" cy="117" r="63" fill="#e6e6e6"/>
<circle cx="519.2" cy="171" r="62.9" fill="#e6e6e6"/>
<g clip-path="url(#cA)"><circle cx="550" cy="117" r="63" fill="#dcdcdc"/><circle cx="519.2" cy="171" r="62.9" fill="#dcdcdc"/></g>
<g clip-path="url(#cB)"><circle cx="519.2" cy="171" r="62.9" fill="#dcdcdc"/></g>
<g clip-path="url(#cA)"><g clip-path="url(#cB)"><circle cx="519.2" cy="171" r="62.9" fill="#d2d2d2"/></g></g>
<circle cx="488.1" cy="117" r="63.2" fill="none" stroke="#3a3a3a" stroke-width="0.8"/>
<circle cx="550" cy="117" r="63" fill="none" stroke="#3a3a3a" stroke-width="0.8"/>
<circle cx="519.2" cy="171" r="62.9" fill="none" stroke="#3a3a3a" stroke-width="0.8"/>
<text x="460.7" y="112" font-size="24" text-anchor="middle" font-weight="bold" fill="#000">8</text>
<text x="519.1" y="94" font-size="24" text-anchor="middle" font-weight="bold" fill="#000">5</text>
<text x="576.3" y="111.7" font-size="24" text-anchor="middle" font-weight="bold" fill="#000">33</text>
<text x="518.5" y="144" font-size="24" text-anchor="middle" font-weight="bold" fill="#000">1</text>
<text x="476.8" y="169.9" font-size="24" text-anchor="middle" font-weight="bold" fill="#000">4</text>
<text x="560.9" y="169.9" font-size="24" text-anchor="middle" font-weight="bold" fill="#000">2</text>
<text x="518.2" y="213.8" font-size="24" text-anchor="middle" font-weight="bold" fill="#000">6</text>
<text x="0.4" y="361.9" font-size="17" font-weight="bold" fill="#000">c</text>
<text x="233.1" y="359" font-size="10.2" text-anchor="middle" fill="#1a1a1a">EXF</text>
<text x="313.1" y="359" font-size="10.2" text-anchor="middle" fill="#1a1a1a">TRF</text>
<rect x="196.1" y="364.1" width="13.23" height="8.74" fill="#c4b46a"/>
<rect x="208.43" y="364.1" width="13.23" height="8.74" fill="#9a9276"/>
<rect x="220.76" y="364.1" width="13.23" height="8.74" fill="#b3a772"/>
<rect x="233.09" y="364.1" width="13.23" height="8.74" fill="#6a6b70"/>
<rect x="245.42" y="364.1" width="13.23" height="8.74" fill="#263b6d"/>
<rect x="257.75" y="364.1" width="12.33" height="8.74" fill="#3a4a70"/>
<rect x="196.1" y="371.94" width="13.23" height="8.74" fill="#464f70"/>
<rect x="208.43" y="371.94" width="13.23" height="8.74" fill="#464f70"/>
<rect x="220.76" y="371.94" width="13.23" height="8.74" fill="#6a6b70"/>
<rect x="233.09" y="371.94" width="13.23" height="8.74" fill="#f2dc4e"/>
<rect x="245.42" y="371.94" width="13.23" height="8.74" fill="#7c7a74"/>
<rect x="257.75" y="371.94" width="12.33" height="8.74" fill="#53586e"/>
<rect x="196.1" y="379.79" width="13.23" height="8.74" fill="#5c5f6d"/>
<rect x="208.43" y="379.79" width="13.23" height="8.74" fill="#f2dc4e"/>
<rect x="220.76" y="379.79" width="13.23" height="8.74" fill="#6a6b70"/>
<rect x="233.09" y="379.79" width="13.23" height="8.74" fill="#6a6b70"/>
<rect x="245.42" y="379.79" width="13.23" height="8.74" fill="#5c5f6d"/>
<rect x="257.75" y="379.79" width="12.33" height="8.74" fill="#3a4a70"/>
<rect x="196.1" y="387.63" width="13.23" height="8.74" fill="#3a4a70"/>
<rect x="208.43" y="387.63" width="13.23" height="8.74" fill="#6a6b70"/>
<rect x="220.76" y="387.63" width="13.23" height="8.74" fill="#263b6d"/>
<rect x="233.09" y="387.63" width="13.23" height="8.74" fill="#9a9276"/>
<rect x="245.42" y="387.63" width="13.23" height="8.74" fill="#d8c562"/>
<rect x="257.75" y="387.63" width="12.33" height="8.74" fill="#a89c72"/>
<rect x="196.1" y="395.48" width="13.23" height="8.74" fill="#7c7a74"/>
<rect x="208.43" y="395.48" width="13.23" height="8.74" fill="#6a6b70"/>
<rect x="220.76" y="395.48" width="13.23" height="8.74" fill="#142a5e"/>
<rect x="233.09" y="395.48" width="13.23" height="8.74" fill="#6a6b70"/>
<rect x="245.42" y="395.48" width="13.23" height="8.74" fill="#9a9276"/>
<rect x="257.75" y="395.48" width="12.33" height="8.74" fill="#d8c562"/>
<rect x="196.1" y="403.32" width="13.23" height="8.74" fill="#6a6b70"/>
<rect x="208.43" y="403.32" width="13.23" height="8.74" fill="#53586e"/>
<rect x="220.76" y="403.32" width="13.23" height="8.74" fill="#464f70"/>
<rect x="233.09" y="403.32" width="13.23" height="8.74" fill="#464f70"/>
<rect x="245.42" y="403.32" width="13.23" height="8.74" fill="#e4cf58"/>
<rect x="257.75" y="403.32" width="12.33" height="8.74" fill="#9a9276"/>
<rect x="196.1" y="411.16" width="13.23" height="8.74" fill="#2f4270"/>
<rect x="208.43" y="411.16" width="13.23" height="8.74" fill="#3a4a70"/>
<rect x="220.76" y="411.16" width="13.23" height="8.74" fill="#7c7a74"/>
<rect x="233.09" y="411.16" width="13.23" height="8.74" fill="#7c7a74"/>
<rect x="245.42" y="411.16" width="13.23" height="8.74" fill="#d8c562"/>
<rect x="257.75" y="411.16" width="12.33" height="8.74" fill="#9a9276"/>
<rect x="196.1" y="419.01" width="13.23" height="8.74" fill="#6a6b70"/>
<rect x="208.43" y="419.01" width="13.23" height="8.74" fill="#53586e"/>
<rect x="220.76" y="419.01" width="13.23" height="8.74" fill="#53586e"/>
<rect x="233.09" y="419.01" width="13.23" height="8.74" fill="#53586e"/>
<rect x="245.42" y="419.01" width="13.23" height="8.74" fill="#f2dc4e"/>
<rect x="257.75" y="419.01" width="12.33" height="8.74" fill="#7c7a74"/>
<rect x="196.1" y="426.85" width="13.23" height="8.74" fill="#2f4270"/>
<rect x="208.43" y="426.85" width="13.23" height="8.74" fill="#3a4a70"/>
<rect x="220.76" y="426.85" width="13.23" height="8.74" fill="#53586e"/>
<rect x="233.09" y="426.85" width="13.23" height="8.74" fill="#9a9276"/>
<rect x="245.42" y="426.85" width="13.23" height="8.74" fill="#d8c562"/>
<rect x="257.75" y="426.85" width="12.33" height="8.74" fill="#9a9276"/>
<rect x="196.1" y="434.7" width="13.23" height="8.74" fill="#3a4a70"/>
<rect x="208.43" y="434.7" width="13.23" height="8.74" fill="#464f70"/>
<rect x="220.76" y="434.7" width="13.23" height="8.74" fill="#3a4a70"/>
<rect x="233.09" y="434.7" width="13.23" height="8.74" fill="#c4b46a"/>
<rect x="245.42" y="434.7" width="13.23" height="8.74" fill="#b3a772"/>
<rect x="257.75" y="434.7" width="12.33" height="8.74" fill="#7c7a74"/>
<rect x="196.1" y="442.54" width="13.23" height="8.74" fill="#6a6b70"/>
<rect x="208.43" y="442.54" width="13.23" height="8.74" fill="#3a4a70"/>
<rect x="220.76" y="442.54" width="13.23" height="8.74" fill="#53586e"/>
<rect x="233.09" y="442.54" width="13.23" height="8.74" fill="#3a4a70"/>
<rect x="245.42" y="442.54" width="13.23" height="8.74" fill="#d8c562"/>
<rect x="257.75" y="442.54" width="12.33" height="8.74" fill="#a89c72"/>
<rect x="196.1" y="450.38" width="13.23" height="8.74" fill="#5c5f6d"/>
<rect x="208.43" y="450.38" width="13.23" height="8.74" fill="#3a4a70"/>
<rect x="220.76" y="450.38" width="13.23" height="8.74" fill="#53586e"/>
<rect x="233.09" y="450.38" width="13.23" height="8.74" fill="#5c5f6d"/>
<rect x="245.42" y="450.38" width="13.23" height="8.74" fill="#f2dc4e"/>
<rect x="257.75" y="450.38" width="12.33" height="8.74" fill="#9a9276"/>
<rect x="196.1" y="458.23" width="13.23" height="8.74" fill="#5c5f6d"/>
<rect x="208.43" y="458.23" width="13.23" height="8.74" fill="#3a4a70"/>
<rect x="220.76" y="458.23" width="13.23" height="8.74" fill="#5c5f6d"/>
<rect x="233.09" y="458.23" width="13.23" height="8.74" fill="#464f70"/>
<rect x="245.42" y="458.23" width="13.23" height="8.74" fill="#e4cf58"/>
<rect x="257.75" y="458.23" width="12.33" height="8.74" fill="#b3a772"/>
<rect x="196.1" y="466.07" width="13.23" height="8.74" fill="#5c5f6d"/>
<rect x="208.43" y="466.07" width="13.23" height="8.74" fill="#3a4a70"/>
<rect x="220.76" y="466.07" width="13.23" height="8.74" fill="#3a4a70"/>
<rect x="233.09" y="466.07" width="13.23" height="8.74" fill="#5c5f6d"/>
<rect x="245.42" y="466.07" width="13.23" height="8.74" fill="#d8c562"/>
<rect x="257.75" y="466.07" width="12.33" height="8.74" fill="#c4b46a"/>
<rect x="196.1" y="473.92" width="13.23" height="8.74" fill="#53586e"/>
<rect x="208.43" y="473.92" width="13.23" height="8.74" fill="#53586e"/>
<rect x="220.76" y="473.92" width="13.23" height="8.74" fill="#53586e"/>
<rect x="233.09" y="473.92" width="13.23" height="8.74" fill="#53586e"/>
<rect x="245.42" y="473.92" width="13.23" height="8.74" fill="#f2dc4e"/>
<rect x="257.75" y="473.92" width="12.33" height="8.74" fill="#7c7a74"/>
<rect x="196.1" y="481.76" width="13.23" height="8.74" fill="#464f70"/>
<rect x="208.43" y="481.76" width="13.23" height="8.74" fill="#5c5f6d"/>
<rect x="220.76" y="481.76" width="13.23" height="8.74" fill="#263b6d"/>
<rect x="233.09" y="481.76" width="13.23" height="8.74" fill="#b3a772"/>
<rect x="245.42" y="481.76" width="13.23" height="8.74" fill="#b3a772"/>
<rect x="257.75" y="481.76" width="12.33" height="8.74" fill="#c4b46a"/>
<rect x="196.1" y="489.6" width="13.23" height="8.74" fill="#7c7a74"/>
<rect x="208.43" y="489.6" width="13.23" height="8.74" fill="#263b6d"/>
<rect x="220.76" y="489.6" width="13.23" height="8.74" fill="#2f4270"/>
<rect x="233.09" y="489.6" width="13.23" height="8.74" fill="#9a9276"/>
<rect x="245.42" y="489.6" width="13.23" height="8.74" fill="#c4b46a"/>
<rect x="257.75" y="489.6" width="12.33" height="8.74" fill="#b3a772"/>
<rect x="196.1" y="497.45" width="13.23" height="8.74" fill="#464f70"/>
<rect x="208.43" y="497.45" width="13.23" height="8.74" fill="#5c5f6d"/>
<rect x="220.76" y="497.45" width="13.23" height="8.74" fill="#2f4270"/>
<rect x="233.09" y="497.45" width="13.23" height="8.74" fill="#a89c72"/>
<rect x="245.42" y="497.45" width="13.23" height="8.74" fill="#8a8678"/>
<rect x="257.75" y="497.45" width="12.33" height="8.74" fill="#d8c562"/>
<rect x="196.1" y="505.29" width="13.23" height="8.74" fill="#5c5f6d"/>
<rect x="208.43" y="505.29" width="13.23" height="8.74" fill="#9a9276"/>
<rect x="220.76" y="505.29" width="13.23" height="8.74" fill="#0e2557"/>
<rect x="233.09" y="505.29" width="13.23" height="8.74" fill="#7c7a74"/>
<rect x="245.42" y="505.29" width="13.23" height="8.74" fill="#7c7a74"/>
<rect x="257.75" y="505.29" width="12.33" height="8.74" fill="#d8c562"/>
<rect x="196.1" y="513.14" width="13.23" height="8.74" fill="#3a4a70"/>
<rect x="208.43" y="513.14" width="13.23" height="8.74" fill="#3a4a70"/>
<rect x="220.76" y="513.14" width="13.23" height="8.74" fill="#5c5f6d"/>
<rect x="233.09" y="513.14" width="13.23" height="8.74" fill="#8a8678"/>
<rect x="245.42" y="513.14" width="13.23" height="8.74" fill="#e4cf58"/>
<rect x="257.75" y="513.14" width="12.33" height="8.74" fill="#8a8678"/>
<rect x="196.1" y="520.98" width="13.23" height="8.74" fill="#6a6b70"/>
<rect x="208.43" y="520.98" width="13.23" height="8.74" fill="#464f70"/>
<rect x="220.76" y="520.98" width="13.23" height="8.74" fill="#464f70"/>
<rect x="233.09" y="520.98" width="13.23" height="8.74" fill="#464f70"/>
<rect x="245.42" y="520.98" width="13.23" height="8.74" fill="#e4cf58"/>
<rect x="257.75" y="520.98" width="12.33" height="8.74" fill="#9a9276"/>
<rect x="196.1" y="528.82" width="13.23" height="8.74" fill="#53586e"/>
<rect x="208.43" y="528.82" width="13.23" height="8.74" fill="#3a4a70"/>
<rect x="220.76" y="528.82" width="13.23" height="8.74" fill="#2f4270"/>
<rect x="233.09" y="528.82" width="13.23" height="8.74" fill="#c4b46a"/>
<rect x="245.42" y="528.82" width="13.23" height="8.74" fill="#a89c72"/>
<rect x="257.75" y="528.82" width="12.33" height="8.74" fill="#9a9276"/>
<rect x="196.1" y="536.67" width="13.23" height="8.74" fill="#53586e"/>
<rect x="208.43" y="536.67" width="13.23" height="8.74" fill="#2f4270"/>
<rect x="220.76" y="536.67" width="13.23" height="8.74" fill="#53586e"/>
<rect x="233.09" y="536.67" width="13.23" height="8.74" fill="#9a9276"/>
<rect x="245.42" y="536.67" width="13.23" height="8.74" fill="#d8c562"/>
<rect x="257.75" y="536.67" width="12.33" height="8.74" fill="#9a9276"/>
<rect x="196.1" y="544.51" width="13.23" height="8.74" fill="#9a9276"/>
<rect x="208.43" y="544.51" width="13.23" height="8.74" fill="#53586e"/>
<rect x="220.76" y="544.51" width="13.23" height="8.74" fill="#3a4a70"/>
<rect x="233.09" y="544.51" width="13.23" height="8.74" fill="#464f70"/>
<rect x="245.42" y="544.51" width="13.23" height="8.74" fill="#6a6b70"/>
<rect x="257.75" y="544.51" width="12.33" height="8.74" fill="#f2dc4e"/>
<rect x="196.1" y="552.36" width="13.23" height="8.74" fill="#6a6b70"/>
<rect x="208.43" y="552.36" width="13.23" height="8.74" fill="#5c5f6d"/>
<rect x="220.76" y="552.36" width="13.23" height="8.74" fill="#263b6d"/>
<rect x="233.09" y="552.36" width="13.23" height="8.74" fill="#6a6b70"/>
<rect x="245.42" y="552.36" width="13.23" height="8.74" fill="#a89c72"/>
<rect x="257.75" y="552.36" width="12.33" height="8.74" fill="#e4cf58"/>
<rect x="196.1" y="560.2" width="13.23" height="8.74" fill="#464f70"/>
<rect x="208.43" y="560.2" width="13.23" height="8.74" fill="#5c5f6d"/>
<rect x="220.76" y="560.2" width="13.23" height="8.74" fill="#263b6d"/>
<rect x="233.09" y="560.2" width="13.23" height="8.74" fill="#9a9276"/>
<rect x="245.42" y="560.2" width="13.23" height="8.74" fill="#747474"/>
<rect x="257.75" y="560.2" width="12.33" height="8.74" fill="#e4cf58"/>
<rect x="196.1" y="568.04" width="13.23" height="8.74" fill="#7c7a74"/>
<rect x="208.43" y="568.04" width="13.23" height="8.74" fill="#53586e"/>
<rect x="220.76" y="568.04" width="13.23" height="8.74" fill="#0e2557"/>
<rect x="233.09" y="568.04" width="13.23" height="8.74" fill="#b3a772"/>
<rect x="245.42" y="568.04" width="13.23" height="8.74" fill="#9a9276"/>
<rect x="257.75" y="568.04" width="12.33" height="8.74" fill="#9a9276"/>
<rect x="196.1" y="575.89" width="13.23" height="8.74" fill="#3a4a70"/>
<rect x="208.43" y="575.89" width="13.23" height="8.74" fill="#7c7a74"/>
<rect x="220.76" y="575.89" width="13.23" height="8.74" fill="#142a5e"/>
<rect x="233.09" y="575.89" width="13.23" height="8.74" fill="#7c7a74"/>
<rect x="245.42" y="575.89" width="13.23" height="8.74" fill="#b3a772"/>
<rect x="257.75" y="575.89" width="12.33" height="8.74" fill="#b3a772"/>
<rect x="196.1" y="583.73" width="13.23" height="8.74" fill="#7c7a74"/>
<rect x="208.43" y="583.73" width="13.23" height="8.74" fill="#5c5f6d"/>
<rect x="220.76" y="583.73" width="13.23" height="8.74" fill="#3a4a70"/>
<rect x="233.09" y="583.73" width="13.23" height="8.74" fill="#2f4270"/>
<rect x="245.42" y="583.73" width="13.23" height="8.74" fill="#b3a772"/>
<rect x="257.75" y="583.73" width="12.33" height="8.74" fill="#d8c562"/>
<rect x="196.1" y="591.58" width="13.23" height="8.74" fill="#3a4a70"/>
<rect x="208.43" y="591.58" width="13.23" height="8.74" fill="#6a6b70"/>
<rect x="220.76" y="591.58" width="13.23" height="8.74" fill="#3a4a70"/>
<rect x="233.09" y="591.58" width="13.23" height="8.74" fill="#6a6b70"/>
<rect x="245.42" y="591.58" width="13.23" height="8.74" fill="#a89c72"/>
<rect x="257.75" y="591.58" width="12.33" height="8.74" fill="#e4cf58"/>
<rect x="196.1" y="599.42" width="13.23" height="8.74" fill="#53586e"/>
<rect x="208.43" y="599.42" width="13.23" height="8.74" fill="#3a4a70"/>
<rect x="220.76" y="599.42" width="13.23" height="8.74" fill="#53586e"/>
<rect x="233.09" y="599.42" width="13.23" height="8.74" fill="#6a6b70"/>
<rect x="245.42" y="599.42" width="13.23" height="8.74" fill="#9a9276"/>
<rect x="257.75" y="599.42" width="12.33" height="8.74" fill="#e4cf58"/>
<rect x="196.1" y="607.26" width="13.23" height="8.74" fill="#5c5f6d"/>
<rect x="208.43" y="607.26" width="13.23" height="8.74" fill="#5c5f6d"/>
<rect x="220.76" y="607.26" width="13.23" height="8.74" fill="#263b6d"/>
<rect x="233.09" y="607.26" width="13.23" height="8.74" fill="#9a9276"/>
<rect x="245.42" y="607.26" width="13.23" height="8.74" fill="#7c7a74"/>
<rect x="257.75" y="607.26" width="12.33" height="8.74" fill="#e4cf58"/>
<rect x="196.1" y="615.11" width="13.23" height="8.74" fill="#3a4a70"/>
<rect x="208.43" y="615.11" width="13.23" height="8.74" fill="#9a9276"/>
<rect x="220.76" y="615.11" width="13.23" height="8.74" fill="#3a4a70"/>
<rect x="233.09" y="615.11" width="13.23" height="8.74" fill="#7c7a74"/>
<rect x="245.42" y="615.11" width="13.23" height="8.74" fill="#7c7a74"/>
<rect x="257.75" y="615.11" width="12.33" height="8.74" fill="#e4cf58"/>
<rect x="196.1" y="622.95" width="13.23" height="8.74" fill="#53586e"/>
<rect x="208.43" y="622.95" width="13.23" height="8.74" fill="#5c5f6d"/>
<rect x="220.76" y="622.95" width="13.23" height="8.74" fill="#263b6d"/>
<rect x="233.09" y="622.95" width="13.23" height="8.74" fill="#a89c72"/>
<rect x="245.42" y="622.95" width="13.23" height="8.74" fill="#8a8678"/>
<rect x="257.75" y="622.95" width="12.33" height="8.74" fill="#d8c562"/>
<rect x="196.1" y="630.8" width="13.23" height="8.74" fill="#7c7a74"/>
<rect x="208.43" y="630.8" width="13.23" height="8.74" fill="#5c5f6d"/>
<rect x="220.76" y="630.8" width="13.23" height="8.74" fill="#3a4a70"/>
<rect x="233.09" y="630.8" width="13.23" height="8.74" fill="#2f4270"/>
<rect x="245.42" y="630.8" width="13.23" height="8.74" fill="#c4b46a"/>
<rect x="257.75" y="630.8" width="12.33" height="8.74" fill="#c4b46a"/>
<rect x="196.1" y="638.64" width="13.23" height="8.74" fill="#3a4a70"/>
<rect x="208.43" y="638.64" width="13.23" height="8.74" fill="#53586e"/>
<rect x="220.76" y="638.64" width="13.23" height="8.74" fill="#3a4a70"/>
<rect x="233.09" y="638.64" width="13.23" height="8.74" fill="#a89c72"/>
<rect x="245.42" y="638.64" width="13.23" height="8.74" fill="#d8c562"/>
<rect x="257.75" y="638.64" width="12.33" height="8.74" fill="#9a9276"/>
<rect x="196.1" y="646.48" width="13.23" height="8.74" fill="#3a4a70"/>
<rect x="208.43" y="646.48" width="13.23" height="8.74" fill="#5c5f6d"/>
<rect x="220.76" y="646.48" width="13.23" height="8.74" fill="#2f4270"/>
<rect x="233.09" y="646.48" width="13.23" height="8.74" fill="#d8c562"/>
<rect x="245.42" y="646.48" width="13.23" height="8.74" fill="#8a8678"/>
<rect x="257.75" y="646.48" width="12.33" height="8.74" fill="#a89c72"/>
<rect x="196.1" y="654.33" width="13.23" height="8.74" fill="#7c7a74"/>
<rect x="208.43" y="654.33" width="13.23" height="8.74" fill="#5c5f6d"/>
<rect x="220.76" y="654.33" width="13.23" height="8.74" fill="#0e2557"/>
<rect x="233.09" y="654.33" width="13.23" height="8.74" fill="#9a9276"/>
<rect x="245.42" y="654.33" width="13.23" height="8.74" fill="#c4b46a"/>
<rect x="257.75" y="654.33" width="12.33" height="8.74" fill="#9a9276"/>
<rect x="196.1" y="662.17" width="13.23" height="8.74" fill="#53586e"/>
<rect x="208.43" y="662.17" width="13.23" height="8.74" fill="#53586e"/>
<rect x="220.76" y="662.17" width="13.23" height="8.74" fill="#3a4a70"/>
<rect x="233.09" y="662.17" width="13.23" height="8.74" fill="#9a9276"/>
<rect x="245.42" y="662.17" width="13.23" height="8.74" fill="#7c7a74"/>
<rect x="257.75" y="662.17" width="12.33" height="8.74" fill="#e4cf58"/>
<rect x="196.1" y="670.02" width="13.23" height="8.74" fill="#5c5f6d"/>
<rect x="208.43" y="670.02" width="13.23" height="8.74" fill="#53586e"/>
<rect x="220.76" y="670.02" width="13.23" height="8.74" fill="#263b6d"/>
<rect x="233.09" y="670.02" width="13.23" height="8.74" fill="#b3a772"/>
<rect x="245.42" y="670.02" width="13.23" height="8.74" fill="#9a9276"/>
<rect x="257.75" y="670.02" width="12.33" height="8.74" fill="#c4b46a"/>
<rect x="196.1" y="677.86" width="13.23" height="7.84" fill="#7c7a74"/>
<rect x="208.43" y="677.86" width="13.23" height="7.84" fill="#53586e"/>
<rect x="220.76" y="677.86" width="13.23" height="7.84" fill="#3a4a70"/>
<rect x="233.09" y="677.86" width="13.23" height="7.84" fill="#2f4270"/>
<rect x="245.42" y="677.86" width="13.23" height="7.84" fill="#c4b46a"/>
<rect x="257.75" y="677.86" width="12.33" height="7.84" fill="#c4b46a"/>
<rect x="276.3" y="364.1" width="13.17" height="8.74" fill="#c4b46a"/>
<rect x="288.57" y="364.1" width="13.17" height="8.74" fill="#b3a772"/>
<rect x="300.84" y="364.1" width="13.17" height="8.74" fill="#6a6b70"/>
<rect x="313.11" y="364.1" width="13.17" height="8.74" fill="#142a5e"/>
<rect x="325.38" y="364.1" width="13.17" height="8.74" fill="#6a6b70"/>
<rect x="337.65" y="364.1" width="12.27" height="8.74" fill="#5c5f6d"/>
<rect x="276.3" y="371.94" width="13.17" height="8.74" fill="#464f70"/>
<rect x="288.57" y="371.94" width="13.17" height="8.74" fill="#464f70"/>
<rect x="300.84" y="371.94" width="13.17" height="8.74" fill="#d8c562"/>
<rect x="313.11" y="371.94" width="13.17" height="8.74" fill="#a89c72"/>
<rect x="325.38" y="371.94" width="13.17" height="8.74" fill="#6a6b70"/>
<rect x="337.65" y="371.94" width="12.27" height="8.74" fill="#53586e"/>
<rect x="276.3" y="379.79" width="13.17" height="8.74" fill="#3a4a70"/>
<rect x="288.57" y="379.79" width="13.17" height="8.74" fill="#7c7a74"/>
<rect x="300.84" y="379.79" width="13.17" height="8.74" fill="#e4cf58"/>
<rect x="313.11" y="379.79" width="13.17" height="8.74" fill="#7c7a74"/>
<rect x="325.38" y="379.79" width="13.17" height="8.74" fill="#5c5f6d"/>
<rect x="337.65" y="379.79" width="12.27" height="8.74" fill="#53586e"/>
<rect x="276.3" y="387.63" width="13.17" height="8.74" fill="#2f4270"/>
<rect x="288.57" y="387.63" width="13.17" height="8.74" fill="#53586e"/>
<rect x="300.84" y="387.63" width="13.17" height="8.74" fill="#a89c72"/>
<rect x="313.11" y="387.63" width="13.17" height="8.74" fill="#d8c562"/>
<rect x="325.38" y="387.63" width="13.17" height="8.74" fill="#747474"/>
<rect x="337.65" y="387.63" width="12.27" height="8.74" fill="#3a4a70"/>
<rect x="276.3" y="395.48" width="13.17" height="8.74" fill="#2f4270"/>
<rect x="288.57" y="395.48" width="13.17" height="8.74" fill="#53586e"/>
<rect x="300.84" y="395.48" width="13.17" height="8.74" fill="#53586e"/>
<rect x="313.11" y="395.48" width="13.17" height="8.74" fill="#c4b46a"/>
<rect x="325.38" y="395.48" width="13.17" height="8.74" fill="#d8c562"/>
<rect x="337.65" y="395.48" width="12.27" height="8.74" fill="#5c5f6d"/>
<rect x="276.3" y="403.32" width="13.17" height="8.74" fill="#53586e"/>
<rect x="288.57" y="403.32" width="13.17" height="8.74" fill="#53586e"/>
<rect x="300.84" y="403.32" width="13.17" height="8.74" fill="#53586e"/>
<rect x="313.11" y="403.32" width="13.17" height="8.74" fill="#e4cf58"/>
<rect x="325.38" y="403.32" width="13.17" height="8.74" fill="#9a9276"/>
<rect x="337.65" y="403.32" width="12.27" height="8.74" fill="#5c5f6d"/>
<rect x="276.3" y="411.16" width="13.17" height="8.74" fill="#0e2557"/>
<rect x="288.57" y="411.16" width="13.17" height="8.74" fill="#9a9276"/>
<rect x="300.84" y="411.16" width="13.17" height="8.74" fill="#9a9276"/>
<rect x="313.11" y="411.16" width="13.17" height="8.74" fill="#a89c72"/>
<rect x="325.38" y="411.16" width="13.17" height="8.74" fill="#7c7a74"/>
<rect x="337.65" y="411.16" width="12.27" height="8.74" fill="#464f70"/>
<rect x="276.3" y="419.01" width="13.17" height="8.74" fill="#53586e"/>
<rect x="288.57" y="419.01" width="13.17" height="8.74" fill="#53586e"/>
<rect x="300.84" y="419.01" width="13.17" height="8.74" fill="#53586e"/>
<rect x="313.11" y="419.01" width="13.17" height="8.74" fill="#f2dc4e"/>
<rect x="325.38" y="419.01" width="13.17" height="8.74" fill="#7c7a74"/>
<rect x="337.65" y="419.01" width="12.27" height="8.74" fill="#5c5f6d"/>
<rect x="276.3" y="426.85" width="13.17" height="8.74" fill="#2f4270"/>
<rect x="288.57" y="426.85" width="13.17" height="8.74" fill="#53586e"/>
<rect x="300.84" y="426.85" width="13.17" height="8.74" fill="#6a6b70"/>
<rect x="313.11" y="426.85" width="13.17" height="8.74" fill="#e4cf58"/>
<rect x="325.38" y="426.85" width="13.17" height="8.74" fill="#9a9276"/>
<rect x="337.65" y="426.85" width="12.27" height="8.74" fill="#5c5f6d"/>
<rect x="276.3" y="434.7" width="13.17" height="8.74" fill="#3a4a70"/>
<rect x="288.57" y="434.7" width="13.17" height="8.74" fill="#2f4270"/>
<rect x="300.84" y="434.7" width="13.17" height="8.74" fill="#9a9276"/>
<rect x="313.11" y="434.7" width="13.17" height="8.74" fill="#e4cf58"/>
<rect x="325.38" y="434.7" width="13.17" height="8.74" fill="#9a9276"/>
<rect x="337.65" y="434.7" width="12.27" height="8.74" fill="#5c5f6d"/>
<rect x="276.3" y="442.54" width="13.17" height="8.74" fill="#5c5f6d"/>
<rect x="288.57" y="442.54" width="13.17" height="8.74" fill="#3a4a70"/>
<rect x="300.84" y="442.54" width="13.17" height="8.74" fill="#2f4270"/>
<rect x="313.11" y="442.54" width="13.17" height="8.74" fill="#d8c562"/>
<rect x="325.38" y="442.54" width="13.17" height="8.74" fill="#a89c72"/>
<rect x="337.65" y="442.54" width="12.27" height="8.74" fill="#6a6b70"/>
<rect x="276.3" y="450.38" width="13.17" height="8.74" fill="#53586e"/>
<rect x="288.57" y="450.38" width="13.17" height="8.74" fill="#53586e"/>
<rect x="300.84" y="450.38" width="13.17" height="8.74" fill="#53586e"/>
<rect x="313.11" y="450.38" width="13.17" height="8.74" fill="#f2dc4e"/>
<rect x="325.38" y="450.38" width="13.17" height="8.74" fill="#7c7a74"/>
<rect x="337.65" y="450.38" width="12.27" height="8.74" fill="#53586e"/>
<rect x="276.3" y="458.23" width="13.17" height="8.74" fill="#263b6d"/>
<rect x="288.57" y="458.23" width="13.17" height="8.74" fill="#6a6b70"/>
<rect x="300.84" y="458.23" width="13.17" height="8.74" fill="#53586e"/>
<rect x="313.11" y="458.23" width="13.17" height="8.74" fill="#e4cf58"/>
<rect x="325.38" y="458.23" width="13.17" height="8.74" fill="#9a9276"/>
<rect x="337.65" y="458.23" width="12.27" height="8.74" fill="#53586e"/>
<rect x="276.3" y="466.07" width="13.17" height="8.74" fill="#3a4a70"/>
<rect x="288.57" y="466.07" width="13.17" height="8.74" fill="#53586e"/>
<rect x="300.84" y="466.07" width="13.17" height="8.74" fill="#53586e"/>
<rect x="313.11" y="466.07" width="13.17" height="8.74" fill="#d8c562"/>
<rect x="325.38" y="466.07" width="13.17" height="8.74" fill="#c4b46a"/>
<rect x="337.65" y="466.07" width="12.27" height="8.74" fill="#53586e"/>
<rect x="276.3" y="473.92" width="13.17" height="8.74" fill="#53586e"/>
<rect x="288.57" y="473.92" width="13.17" height="8.74" fill="#53586e"/>
<rect x="300.84" y="473.92" width="13.17" height="8.74" fill="#53586e"/>
<rect x="313.11" y="473.92" width="13.17" height="8.74" fill="#f2dc4e"/>
<rect x="325.38" y="473.92" width="13.17" height="8.74" fill="#6a6b70"/>
<rect x="337.65" y="473.92" width="12.27" height="8.74" fill="#5c5f6d"/>
<rect x="276.3" y="481.76" width="13.17" height="8.74" fill="#263b6d"/>
<rect x="288.57" y="481.76" width="13.17" height="8.74" fill="#53586e"/>
<rect x="300.84" y="481.76" width="13.17" height="8.74" fill="#9a9276"/>
<rect x="313.11" y="481.76" width="13.17" height="8.74" fill="#c4b46a"/>
<rect x="325.38" y="481.76" width="13.17" height="8.74" fill="#b3a772"/>
<rect x="337.65" y="481.76" width="12.27" height="8.74" fill="#5c5f6d"/>
<rect x="276.3" y="489.6" width="13.17" height="8.74" fill="#2f4270"/>
<rect x="288.57" y="489.6" width="13.17" height="8.74" fill="#3a4a70"/>
<rect x="300.84" y="489.6" width="13.17" height="8.74" fill="#9a9276"/>
<rect x="313.11" y="489.6" width="13.17" height="8.74" fill="#c4b46a"/>
<rect x="325.38" y="489.6" width="13.17" height="8.74" fill="#a89c72"/>
<rect x="337.65" y="489.6" width="12.27" height="8.74" fill="#464f70"/>
<rect x="276.3" y="497.45" width="13.17" height="8.74" fill="#142a5e"/>
<rect x="288.57" y="497.45" width="13.17" height="8.74" fill="#5c5f6d"/>
<rect x="300.84" y="497.45" width="13.17" height="8.74" fill="#9a9276"/>
<rect x="313.11" y="497.45" width="13.17" height="8.74" fill="#d8c562"/>
<rect x="325.38" y="497.45" width="13.17" height="8.74" fill="#b3a772"/>
<rect x="337.65" y="497.45" width="12.27" height="8.74" fill="#53586e"/>
<rect x="276.3" y="505.29" width="13.17" height="8.74" fill="#2f4270"/>
<rect x="288.57" y="505.29" width="13.17" height="8.74" fill="#3a4a70"/>
<rect x="300.84" y="505.29" width="13.17" height="8.74" fill="#9a9276"/>
<rect x="313.11" y="505.29" width="13.17" height="8.74" fill="#d8c562"/>
<rect x="325.38" y="505.29" width="13.17" height="8.74" fill="#9a9276"/>
<rect x="337.65" y="505.29" width="12.27" height="8.74" fill="#53586e"/>
<rect x="276.3" y="513.14" width="13.17" height="8.74" fill="#464f70"/>
<rect x="288.57" y="513.14" width="13.17" height="8.74" fill="#6a6b70"/>
<rect x="300.84" y="513.14" width="13.17" height="8.74" fill="#c4b46a"/>
<rect x="313.11" y="513.14" width="13.17" height="8.74" fill="#d8c562"/>
<rect x="325.38" y="513.14" width="13.17" height="8.74" fill="#53586e"/>
<rect x="337.65" y="513.14" width="12.27" height="8.74" fill="#2f4270"/>
<rect x="276.3" y="520.98" width="13.17" height="8.74" fill="#53586e"/>
<rect x="288.57" y="520.98" width="13.17" height="8.74" fill="#3a4a70"/>
<rect x="300.84" y="520.98" width="13.17" height="8.74" fill="#2f4270"/>
<rect x="313.11" y="520.98" width="13.17" height="8.74" fill="#e4cf58"/>
<rect x="325.38" y="520.98" width="13.17" height="8.74" fill="#b3a772"/>
<rect x="337.65" y="520.98" width="12.27" height="8.74" fill="#6a6b70"/>
<rect x="276.3" y="528.82" width="13.17" height="8.74" fill="#3a4a70"/>
<rect x="288.57" y="528.82" width="13.17" height="8.74" fill="#3a4a70"/>
<rect x="300.84" y="528.82" width="13.17" height="8.74" fill="#9a9276"/>
<rect x="313.11" y="528.82" width="13.17" height="8.74" fill="#c4b46a"/>
<rect x="325.38" y="528.82" width="13.17" height="8.74" fill="#b3a772"/>
<rect x="337.65" y="528.82" width="12.27" height="8.74" fill="#3a4a70"/>
<rect x="276.3" y="536.67" width="13.17" height="8.74" fill="#2f4270"/>
<rect x="288.57" y="536.67" width="13.17" height="8.74" fill="#2f4270"/>
<rect x="300.84" y="536.67" width="13.17" height="8.74" fill="#9a9276"/>
<rect x="313.11" y="536.67" width="13.17" height="8.74" fill="#d8c562"/>
<rect x="325.38" y="536.67" width="13.17" height="8.74" fill="#9a9276"/>
<rect x="337.65" y="536.67" width="12.27" height="8.74" fill="#5c5f6d"/>
<rect x="276.3" y="544.51" width="13.17" height="8.74" fill="#5c5f6d"/>
<rect x="288.57" y="544.51" width="13.17" height="8.74" fill="#464f70"/>
<rect x="300.84" y="544.51" width="13.17" height="8.74" fill="#3a4a70"/>
<rect x="313.11" y="544.51" width="13.17" height="8.74" fill="#53586e"/>
<rect x="325.38" y="544.51" width="13.17" height="8.74" fill="#f2dc4e"/>
<rect x="337.65" y="544.51" width="12.27" height="8.74" fill="#9a9276"/>
<rect x="276.3" y="552.36" width="13.17" height="8.74" fill="#464f70"/>
<rect x="288.57" y="552.36" width="13.17" height="8.74" fill="#263b6d"/>
<rect x="300.84" y="552.36" width="13.17" height="8.74" fill="#53586e"/>
<rect x="313.11" y="552.36" width="13.17" height="8.74" fill="#9a9276"/>
<rect x="325.38" y="552.36" width="13.17" height="8.74" fill="#d8c562"/>
<rect x="337.65" y="552.36" width="12.27" height="8.74" fill="#9a9276"/>
<rect x="276.3" y="560.2" width="13.17" height="8.74" fill="#2f4270"/>
<rect x="288.57" y="560.2" width="13.17" height="8.74" fill="#6a6b70"/>
<rect x="300.84" y="560.2" width="13.17" height="8.74" fill="#6a6b70"/>
<rect x="313.11" y="560.2" width="13.17" height="8.74" fill="#7c7a74"/>
<rect x="325.38" y="560.2" width="13.17" height="8.74" fill="#e4cf58"/>
<rect x="337.65" y="560.2" width="12.27" height="8.74" fill="#464f70"/>
<rect x="276.3" y="568.04" width="13.17" height="8.74" fill="#2f4270"/>
<rect x="288.57" y="568.04" width="13.17" height="8.74" fill="#263b6d"/>
<rect x="300.84" y="568.04" width="13.17" height="8.74" fill="#6a6b70"/>
<rect x="313.11" y="568.04" width="13.17" height="8.74" fill="#c4b46a"/>
<rect x="325.38" y="568.04" width="13.17" height="8.74" fill="#c4b46a"/>
<rect x="337.65" y="568.04" width="12.27" height="8.74" fill="#6a6b70"/>
<rect x="276.3" y="575.89" width="13.17" height="8.74" fill="#2f4270"/>
<rect x="288.57" y="575.89" width="13.17" height="8.74" fill="#2f4270"/>
<rect x="300.84" y="575.89" width="13.17" height="8.74" fill="#747474"/>
<rect x="313.11" y="575.89" width="13.17" height="8.74" fill="#c4b46a"/>
<rect x="325.38" y="575.89" width="13.17" height="8.74" fill="#b3a772"/>
<rect x="337.65" y="575.89" width="12.27" height="8.74" fill="#747474"/>
<rect x="276.3" y="583.73" width="13.17" height="8.74" fill="#5c5f6d"/>
<rect x="288.57" y="583.73" width="13.17" height="8.74" fill="#3a4a70"/>
<rect x="300.84" y="583.73" width="13.17" height="8.74" fill="#263b6d"/>
<rect x="313.11" y="583.73" width="13.17" height="8.74" fill="#a89c72"/>
<rect x="325.38" y="583.73" width="13.17" height="8.74" fill="#d8c562"/>
<rect x="337.65" y="583.73" width="12.27" height="8.74" fill="#7c7a74"/>
<rect x="276.3" y="591.58" width="13.17" height="8.74" fill="#3a4a70"/>
<rect x="288.57" y="591.58" width="13.17" height="8.74" fill="#3a4a70"/>
<rect x="300.84" y="591.58" width="13.17" height="8.74" fill="#6a6b70"/>
<rect x="313.11" y="591.58" width="13.17" height="8.74" fill="#c4b46a"/>
<rect x="325.38" y="591.58" width="13.17" height="8.74" fill="#d8c562"/>
<rect x="337.65" y="591.58" width="12.27" height="8.74" fill="#6a6b70"/>
<rect x="276.3" y="599.42" width="13.17" height="8.74" fill="#263b6d"/>
<rect x="288.57" y="599.42" width="13.17" height="8.74" fill="#3a4a70"/>
<rect x="300.84" y="599.42" width="13.17" height="8.74" fill="#6a6b70"/>
<rect x="313.11" y="599.42" width="13.17" height="8.74" fill="#9a9276"/>
<rect x="325.38" y="599.42" width="13.17" height="8.74" fill="#e4cf58"/>
<rect x="337.65" y="599.42" width="12.27" height="8.74" fill="#7c7a74"/>
<rect x="276.3" y="607.26" width="13.17" height="8.74" fill="#2f4270"/>
<rect x="288.57" y="607.26" width="13.17" height="8.74" fill="#263b6d"/>
<rect x="300.84" y="607.26" width="13.17" height="8.74" fill="#9a9276"/>
<rect x="313.11" y="607.26" width="13.17" height="8.74" fill="#b3a772"/>
<rect x="325.38" y="607.26" width="13.17" height="8.74" fill="#c4b46a"/>
<rect x="337.65" y="607.26" width="12.27" height="8.74" fill="#5c5f6d"/>
<rect x="276.3" y="615.11" width="13.17" height="8.74" fill="#2f4270"/>
<rect x="288.57" y="615.11" width="13.17" height="8.74" fill="#464f70"/>
<rect x="300.84" y="615.11" width="13.17" height="8.74" fill="#9a9276"/>
<rect x="313.11" y="615.11" width="13.17" height="8.74" fill="#747474"/>
<rect x="325.38" y="615.11" width="13.17" height="8.74" fill="#e4cf58"/>
<rect x="337.65" y="615.11" width="12.27" height="8.74" fill="#5c5f6d"/>
<rect x="276.3" y="622.95" width="13.17" height="8.74" fill="#2f4270"/>
<rect x="288.57" y="622.95" width="13.17" height="8.74" fill="#3a4a70"/>
<rect x="300.84" y="622.95" width="13.17" height="8.74" fill="#7c7a74"/>
<rect x="313.11" y="622.95" width="13.17" height="8.74" fill="#b3a772"/>
<rect x="325.38" y="622.95" width="13.17" height="8.74" fill="#d8c562"/>
<rect x="337.65" y="622.95" width="12.27" height="8.74" fill="#5c5f6d"/>
<rect x="276.3" y="630.8" width="13.17" height="8.74" fill="#5c5f6d"/>
<rect x="288.57" y="630.8" width="13.17" height="8.74" fill="#2f4270"/>
<rect x="300.84" y="630.8" width="13.17" height="8.74" fill="#263b6d"/>
<rect x="313.11" y="630.8" width="13.17" height="8.74" fill="#b3a772"/>
<rect x="325.38" y="630.8" width="13.17" height="8.74" fill="#c4b46a"/>
<rect x="337.65" y="630.8" width="12.27" height="8.74" fill="#7c7a74"/>
<rect x="276.3" y="638.64" width="13.17" height="8.74" fill="#263b6d"/>
<rect x="288.57" y="638.64" width="13.17" height="8.74" fill="#53586e"/>
<rect x="300.84" y="638.64" width="13.17" height="8.74" fill="#9a9276"/>
<rect x="313.11" y="638.64" width="13.17" height="8.74" fill="#a89c72"/>
<rect x="325.38" y="638.64" width="13.17" height="8.74" fill="#c4b46a"/>
<rect x="337.65" y="638.64" width="12.27" height="8.74" fill="#3a4a70"/>
<rect x="276.3" y="646.48" width="13.17" height="8.74" fill="#263b6d"/>
<rect x="288.57" y="646.48" width="13.17" height="8.74" fill="#464f70"/>
<rect x="300.84" y="646.48" width="13.17" height="8.74" fill="#9a9276"/>
<rect x="313.11" y="646.48" width="13.17" height="8.74" fill="#a89c72"/>
<rect x="325.38" y="646.48" width="13.17" height="8.74" fill="#c4b46a"/>
<rect x="337.65" y="646.48" width="12.27" height="8.74" fill="#3a4a70"/>
<rect x="276.3" y="654.33" width="13.17" height="8.74" fill="#3a4a70"/>
<rect x="288.57" y="654.33" width="13.17" height="8.74" fill="#263b6d"/>
<rect x="300.84" y="654.33" width="13.17" height="8.74" fill="#6a6b70"/>
<rect x="313.11" y="654.33" width="13.17" height="8.74" fill="#c4b46a"/>
<rect x="325.38" y="654.33" width="13.17" height="8.74" fill="#c4b46a"/>
<rect x="337.65" y="654.33" width="12.27" height="8.74" fill="#5c5f6d"/>
<rect x="276.3" y="662.17" width="13.17" height="8.74" fill="#3a4a70"/>
<rect x="288.57" y="662.17" width="13.17" height="8.74" fill="#3a4a70"/>
<rect x="300.84" y="662.17" width="13.17" height="8.74" fill="#7c7a74"/>
<rect x="313.11" y="662.17" width="13.17" height="8.74" fill="#9a9276"/>
<rect x="325.38" y="662.17" width="13.17" height="8.74" fill="#e4cf58"/>
<rect x="337.65" y="662.17" width="12.27" height="8.74" fill="#5c5f6d"/>
<rect x="276.3" y="670.02" width="13.17" height="8.74" fill="#3a4a70"/>
<rect x="288.57" y="670.02" width="13.17" height="8.74" fill="#3a4a70"/>
<rect x="300.84" y="670.02" width="13.17" height="8.74" fill="#7c7a74"/>
<rect x="313.11" y="670.02" width="13.17" height="8.74" fill="#a89c72"/>
<rect x="325.38" y="670.02" width="13.17" height="8.74" fill="#d8c562"/>
<rect x="337.65" y="670.02" width="12.27" height="8.74" fill="#6a6b70"/>
<rect x="276.3" y="677.86" width="13.17" height="7.84" fill="#53586e"/>
<rect x="288.57" y="677.86" width="13.17" height="7.84" fill="#464f70"/>
<rect x="300.84" y="677.86" width="13.17" height="7.84" fill="#263b6d"/>
<rect x="313.11" y="677.86" width="13.17" height="7.84" fill="#a89c72"/>
<rect x="325.38" y="677.86" width="13.17" height="7.84" fill="#d8c562"/>
<rect x="337.65" y="677.86" width="12.27" height="7.84" fill="#7c7a74"/>
<rect x="352.6" y="364.1" width="20.3" height="8.74" fill="#7570b3"/>
<rect x="352.6" y="371.94" width="20.3" height="8.74" fill="#bebebe"/>
<rect x="352.6" y="379.79" width="20.3" height="8.74" fill="#d95f02"/>
<rect x="352.6" y="387.63" width="20.3" height="8.74" fill="#7570b3"/>
<rect x="352.6" y="395.48" width="20.3" height="8.74" fill="#1b9e77"/>
<rect x="352.6" y="403.32" width="20.3" height="8.74" fill="#1b9e77"/>
<rect x="352.6" y="411.16" width="20.3" height="8.74" fill="#1b9e77"/>
<rect x="352.6" y="419.01" width="20.3" height="8.74" fill="#1b9e77"/>
<rect x="352.6" y="426.85" width="20.3" height="8.74" fill="#1b9e77"/>
<rect x="352.6" y="434.7" width="20.3" height="8.74" fill="#7570b3"/>
<rect x="352.6" y="442.54" width="20.3" height="8.74" fill="#1b9e77"/>
<rect x="352.6" y="450.38" width="20.3" height="8.74" fill="#36678e"/>
<rect x="352.6" y="458.23" width="20.3" height="8.74" fill="#1b9e77"/>
<rect x="352.6" y="466.07" width="20.3" height="8.74" fill="#1b9e77"/>
<rect x="352.6" y="473.92" width="20.3" height="8.74" fill="#bebebe"/>
<rect x="352.6" y="481.76" width="20.3" height="8.74" fill="#1b9e77"/>
<rect x="352.6" y="489.6" width="20.3" height="8.74" fill="#1b9e77"/>
<rect x="352.6" y="497.45" width="20.3" height="8.74" fill="#1b9e77"/>
<rect x="352.6" y="505.29" width="20.3" height="8.74" fill="#7570b3"/>
<rect x="352.6" y="513.14" width="20.3" height="8.74" fill="#1b9e77"/>
<rect x="352.6" y="520.98" width="20.3" height="8.74" fill="#1b9e77"/>
<rect x="352.6" y="528.82" width="20.3" height="8.74" fill="#7570b3"/>
<rect x="352.6" y="536.67" width="20.3" height="8.74" fill="#d95f02"/>
<rect x="352.6" y="544.51" width="20.3" height="8.74" fill="#1b9e77"/>
<rect x="352.6" y="552.36" width="20.3" height="8.74" fill="#7570b3"/>
<rect x="352.6" y="560.2" width="20.3" height="8.74" fill="#1b9e77"/>
<rect x="352.6" y="568.04" width="20.3" height="8.74" fill="#1b9e77"/>
<rect x="352.6" y="575.89" width="20.3" height="8.74" fill="#1b9e77"/>
<rect x="352.6" y="583.73" width="20.3" height="8.74" fill="#1b9e77"/>
<rect x="352.6" y="591.58" width="20.3" height="8.74" fill="#1b9e77"/>
<rect x="352.6" y="599.42" width="20.3" height="8.74" fill="#1b9e77"/>
<rect x="352.6" y="607.26" width="20.3" height="8.74" fill="#1b9e77"/>
<rect x="352.6" y="615.11" width="20.3" height="8.74" fill="#1b9e77"/>
<rect x="352.6" y="622.95" width="20.3" height="8.74" fill="#1b9e77"/>
<rect x="352.6" y="630.8" width="20.3" height="8.74" fill="#bebebe"/>
<rect x="352.6" y="638.64" width="20.3" height="8.74" fill="#1b9e77"/>
<rect x="352.6" y="646.48" width="20.3" height="8.74" fill="#1b9e77"/>
<rect x="352.6" y="654.33" width="20.3" height="8.74" fill="#1b9e77"/>
<rect x="352.6" y="662.17" width="20.3" height="8.74" fill="#e6ab02"/>
<rect x="352.6" y="670.02" width="20.3" height="8.74" fill="#bebebe"/>
<rect x="352.6" y="677.86" width="20.3" height="7.84" fill="#1b9e77"/>
<text x="191.2" y="370.82" font-size="7.85" text-anchor="end" fill="#1a1a1a">Dodecadienoate (12:2)*</text>
<text x="191.2" y="378.67" font-size="7.85" text-anchor="end" fill="#1a1a1a">2,3-dihydroxyisovalerate</text>
<text x="191.2" y="386.51" font-size="7.85" text-anchor="end" fill="#1a1a1a">Galactonate</text>
<text x="191.2" y="394.35" font-size="7.85" text-anchor="end" fill="#1a1a1a">1-palmitoyl-GPG (16:0)*</text>
<text x="191.2" y="402.2" font-size="7.85" text-anchor="end" fill="#1a1a1a">2-methylbutyrylglycine</text>
<text x="191.2" y="410.04" font-size="7.85" text-anchor="end" fill="#1a1a1a">4-hydroxyglutamate</text>
<text x="191.2" y="417.89" font-size="7.85" text-anchor="end" fill="#1a1a1a">4-hydroxyphenylpyruvate</text>
<text x="191.2" y="425.73" font-size="7.85" text-anchor="end" fill="#1a1a1a">5-hydroxylysine</text>
<text x="191.2" y="433.57" font-size="7.85" text-anchor="end" fill="#1a1a1a">N-acetylproline</text>
<text x="191.2" y="441.42" font-size="7.85" text-anchor="end" fill="#1a1a1a">N-palmitoyl-sphinganine (d18:0/16:0)</text>
<text x="191.2" y="449.26" font-size="7.85" text-anchor="end" fill="#1a1a1a">S-methylcysteine sulfoxide</text>
<text x="191.2" y="457.11" font-size="7.85" text-anchor="end" fill="#1a1a1a">Beta-alanine</text>
<text x="191.2" y="464.95" font-size="7.85" text-anchor="end" fill="#1a1a1a">Creatine</text>
<text x="191.2" y="472.79" font-size="7.85" text-anchor="end" fill="#1a1a1a">Dimethylglycine</text>
<text x="191.2" y="480.64" font-size="7.85" text-anchor="end" fill="#1a1a1a">Glucuronide of C10H18O2 (7)*</text>
<text x="191.2" y="488.48" font-size="7.85" text-anchor="end" fill="#1a1a1a">Isobutyrylglycine</text>
<text x="191.2" y="496.33" font-size="7.85" text-anchor="end" fill="#1a1a1a">Isovalerylcarnitine (C5)</text>
<text x="191.2" y="504.17" font-size="7.85" text-anchor="end" fill="#1a1a1a">Isovalerylglycine</text>
<text x="191.2" y="512.01" font-size="7.85" text-anchor="end" fill="#1a1a1a">Palmitoyl-arachidonoyl-glycerol (16:0/20:4) [1]*</text>
<text x="191.2" y="519.86" font-size="7.85" text-anchor="end" fill="#1a1a1a">Phenylpyruvate</text>
<text x="191.2" y="527.7" font-size="7.85" text-anchor="end" fill="#1a1a1a">Pro-hydroxy-pro</text>
<text x="191.2" y="535.55" font-size="7.85" text-anchor="end" fill="#1a1a1a">Propionylcarnitine (C3)</text>
<text x="191.2" y="543.39" font-size="7.85" text-anchor="end" fill="#1a1a1a">Ribulonate/xylulonate*</text>
<text x="191.2" y="551.23" font-size="7.85" text-anchor="end" fill="#1a1a1a">1-methylhistidine</text>
<text x="191.2" y="559.08" font-size="7.85" text-anchor="end" fill="#1a1a1a">1-myristoyl-2-palmitoyl-GPC (14:0/16:0)</text>
<text x="191.2" y="566.92" font-size="7.85" text-anchor="end" fill="#1a1a1a">2-aminoadipate</text>
<text x="191.2" y="574.77" font-size="7.85" text-anchor="end" fill="#1a1a1a">2-methylbutyrylcarnitine (C5)</text>
<text x="191.2" y="582.61" font-size="7.85" text-anchor="end" fill="#1a1a1a">2-oxoarginine*</text>
<text x="191.2" y="590.45" font-size="7.85" text-anchor="end" fill="#1a1a1a">3-methylhistidine</text>
<text x="191.2" y="598.3" font-size="7.85" text-anchor="end" fill="#1a1a1a">4-guanidinobutanoate</text>
<text x="191.2" y="606.14" font-size="7.85" text-anchor="end" fill="#1a1a1a">N-acetylmethionine</text>
<text x="191.2" y="613.99" font-size="7.85" text-anchor="end" fill="#1a1a1a">N-acetylmethionine sulfoxide</text>
<text x="191.2" y="621.83" font-size="7.85" text-anchor="end" fill="#1a1a1a">N6-acetyllysine</text>
<text x="191.2" y="629.67" font-size="7.85" text-anchor="end" fill="#1a1a1a">Cystathionine</text>
<text x="191.2" y="637.52" font-size="7.85" text-anchor="end" fill="#1a1a1a">Ectoine</text>
<text x="191.2" y="645.36" font-size="7.85" text-anchor="end" fill="#1a1a1a">Formiminoglutamate</text>
<text x="191.2" y="653.21" font-size="7.85" text-anchor="end" fill="#1a1a1a">Hydantoin-5-propionic acid</text>
<text x="191.2" y="661.05" font-size="7.85" text-anchor="end" fill="#1a1a1a">Isobutyrylcarnitine (C4)</text>
<text x="191.2" y="668.89" font-size="7.85" text-anchor="end" fill="#1a1a1a">Prolylglycine</text>
<text x="191.2" y="676.74" font-size="7.85" text-anchor="end" fill="#1a1a1a">Sulfate*</text>
<text x="191.2" y="684.58" font-size="7.85" text-anchor="end" fill="#1a1a1a">Trans-4-hydroxyproline</text>
<text transform="translate(8.7,543) rotate(-90)" font-size="10.4" text-anchor="middle" fill="#1a1a1a">Acrophase</text>
<text transform="translate(196.66,693.8) rotate(45)" font-size="7.7" fill="#1a1a1a">07:00</text>
<text transform="translate(209,693.8) rotate(45)" font-size="7.7" fill="#1a1a1a">11:00</text>
<text transform="translate(221.32,693.8) rotate(45)" font-size="7.7" fill="#1a1a1a">15:00</text>
<text transform="translate(233.66,693.8) rotate(45)" font-size="7.7" fill="#1a1a1a">19:00</text>
<text transform="translate(245.98,693.8) rotate(45)" font-size="7.7" fill="#1a1a1a">23:00</text>
<text transform="translate(258.31,693.8) rotate(45)" font-size="7.7" fill="#1a1a1a">03:00</text>
<text transform="translate(276.83,693.8) rotate(45)" font-size="7.7" fill="#1a1a1a">07:00</text>
<text transform="translate(289.1,693.8) rotate(45)" font-size="7.7" fill="#1a1a1a">11:00</text>
<text transform="translate(301.38,693.8) rotate(45)" font-size="7.7" fill="#1a1a1a">15:00</text>
<text transform="translate(313.64,693.8) rotate(45)" font-size="7.7" fill="#1a1a1a">19:00</text>
<text transform="translate(325.91,693.8) rotate(45)" font-size="7.7" fill="#1a1a1a">23:00</text>
<text transform="translate(338.18,693.8) rotate(45)" font-size="7.7" fill="#1a1a1a">03:00</text>
<text x="191.2" y="729" font-size="7.7" fill="#1a1a1a">Relative intensity (z-score)</text>
<defs><linearGradient id="cbc" x1="0" x2="1" y1="0" y2="0">
<stop offset="0" stop-color="#002656"/>
<stop offset="0.05" stop-color="#002e6c"/>
<stop offset="0.1" stop-color="#163770"/>
<stop offset="0.15" stop-color="#2a3f6d"/>
<stop offset="0.2" stop-color="#3a486c"/>
<stop offset="0.25" stop-color="#46516c"/>
<stop offset="0.3" stop-color="#535a6d"/>
<stop offset="0.35" stop-color="#5e626e"/>
<stop offset="0.4" stop-color="#696b71"/>
<stop offset="0.45" stop-color="#747475"/>
<stop offset="0.5" stop-color="#7e7d78"/>
<stop offset="0.55" stop-color="#8b8778"/>
<stop offset="0.6" stop-color="#969077"/>
<stop offset="0.65" stop-color="#a39a74"/>
<stop offset="0.7" stop-color="#afa471"/>
<stop offset="0.75" stop-color="#bdae6c"/>
<stop offset="0.8" stop-color="#c9b965"/>
<stop offset="0.85" stop-color="#d7c45c"/>
<stop offset="0.9" stop-color="#e5cf52"/>
<stop offset="0.95" stop-color="#f3db42"/>
<stop offset="1" stop-color="#fee838"/>
</linearGradient></defs>
<rect x="287" y="720" width="60.6" height="11.9" fill="url(#cbc)"/>
<line x1="300.23" x2="300.23" y1="720" y2="722" stroke="#fff" stroke-width="0.6"/>
<line x1="300.23" x2="300.23" y1="729.9" y2="731.9" stroke="#fff" stroke-width="0.6"/>
<text x="300.23" y="741" font-size="7.7" text-anchor="middle" fill="#1a1a1a">−1</text>
<line x1="316.56" x2="316.56" y1="720" y2="722" stroke="#fff" stroke-width="0.6"/>
<line x1="316.56" x2="316.56" y1="729.9" y2="731.9" stroke="#fff" stroke-width="0.6"/>
<text x="316.56" y="741" font-size="7.7" text-anchor="middle" fill="#1a1a1a">0</text>
<line x1="332.9" x2="332.9" y1="720" y2="722" stroke="#fff" stroke-width="0.6"/>
<line x1="332.9" x2="332.9" y1="729.9" y2="731.9" stroke="#fff" stroke-width="0.6"/>
<text x="332.9" y="741" font-size="7.7" text-anchor="middle" fill="#1a1a1a">1</text>
<rect x="394.2" y="469.2" width="15" height="15.3" fill="#1b9e77"/>
<text x="414.3" y="480" font-size="8.15" fill="#1a1a1a">Amino acid</text>
<rect x="394.2" y="484.42" width="15" height="15.3" fill="#d95f02"/>
<text x="414.3" y="495.22" font-size="8.15" fill="#1a1a1a">Carbohydrate</text>
<rect x="394.2" y="499.64" width="15" height="15.3" fill="#7570b3"/>
<text x="414.3" y="510.44" font-size="8.15" fill="#1a1a1a">Lipid</text>
<rect x="394.2" y="514.86" width="15" height="15.3" fill="#36678e"/>
<text x="414.3" y="525.66" font-size="8.15" fill="#1a1a1a">Nucleotide</text>
<rect x="394.2" y="530.08" width="15" height="15.3" fill="#bebebe"/>
<text x="414.3" y="540.88" font-size="8.15" fill="#1a1a1a">Other</text>
<rect x="394.2" y="545.3" width="15" height="15.3" fill="#e6ab02"/>
<text x="414.3" y="556.1" font-size="8.15" fill="#1a1a1a">Peptide</text>
<text x="494.1" y="362" font-size="17" font-weight="bold" fill="#000">d</text>
<rect x="540.5" y="357.2" width="143.1" height="121.5" fill="#fff"/>
<line x1="547.3" x2="547.3" y1="357.2" y2="478.7" stroke="#e8e8e8" stroke-width="0.8"/>
<line x1="568.08" x2="568.08" y1="357.2" y2="478.7" stroke="#e8e8e8" stroke-width="0.8"/>
<line x1="588.87" x2="588.87" y1="357.2" y2="478.7" stroke="#e8e8e8" stroke-width="0.8"/>
<line x1="609.65" x2="609.65" y1="357.2" y2="478.7" stroke="#e8e8e8" stroke-width="0.8"/>
<line x1="630.44" x2="630.44" y1="357.2" y2="478.7" stroke="#e8e8e8" stroke-width="0.8"/>
<line x1="651.22" x2="651.22" y1="357.2" y2="478.7" stroke="#e8e8e8" stroke-width="0.8"/>
<line x1="672.01" x2="672.01" y1="357.2" y2="478.7" stroke="#e8e8e8" stroke-width="0.8"/>
<line x1="557.69" x2="557.69" y1="357.2" y2="478.7" stroke="#f2f2f2" stroke-width="0.5"/>
<line x1="578.48" x2="578.48" y1="357.2" y2="478.7" stroke="#f2f2f2" stroke-width="0.5"/>
<line x1="599.26" x2="599.26" y1="357.2" y2="478.7" stroke="#f2f2f2" stroke-width="0.5"/>
<line x1="620.05" x2="620.05" y1="357.2" y2="478.7" stroke="#f2f2f2" stroke-width="0.5"/>
<line x1="640.83" x2="640.83" y1="357.2" y2="478.7" stroke="#f2f2f2" stroke-width="0.5"/>
<line x1="661.62" x2="661.62" y1="357.2" y2="478.7" stroke="#f2f2f2" stroke-width="0.5"/>
<line x1="682.4" x2="682.4" y1="357.2" y2="478.7" stroke="#f2f2f2" stroke-width="0.5"/>
<line x1="540.5" x2="683.6" y1="473.6" y2="473.6" stroke="#e8e8e8" stroke-width="0.8"/>
<line x1="540.5" x2="683.6" y1="455.65" y2="455.65" stroke="#e8e8e8" stroke-width="0.8"/>
<line x1="540.5" x2="683.6" y1="437.7" y2="437.7" stroke="#e8e8e8" stroke-width="0.8"/>
<line x1="540.5" x2="683.6" y1="419.75" y2="419.75" stroke="#e8e8e8" stroke-width="0.8"/>
<line x1="540.5" x2="683.6" y1="401.8" y2="401.8" stroke="#e8e8e8" stroke-width="0.8"/>
<line x1="540.5" x2="683.6" y1="383.85" y2="383.85" stroke="#e8e8e8" stroke-width="0.8"/>
<line x1="540.5" x2="683.6" y1="365.9" y2="365.9" stroke="#e8e8e8" stroke-width="0.8"/>
<line x1="540.5" x2="683.6" y1="464.62" y2="464.62" stroke="#f2f2f2" stroke-width="0.5"/>
<line x1="540.5" x2="683.6" y1="446.68" y2="446.68" stroke="#f2f2f2" stroke-width="0.5"/>
<line x1="540.5" x2="683.6" y1="428.73" y2="428.73" stroke="#f2f2f2" stroke-width="0.5"/>
<line x1="540.5" x2="683.6" y1="410.78" y2="410.78" stroke="#f2f2f2" stroke-width="0.5"/>
<line x1="540.5" x2="683.6" y1="392.83" y2="392.83" stroke="#f2f2f2" stroke-width="0.5"/>
<line x1="540.5" x2="683.6" y1="374.88" y2="374.88" stroke="#f2f2f2" stroke-width="0.5"/>
<line x1="540.5" x2="683.6" y1="356.93" y2="356.93" stroke="#f2f2f2" stroke-width="0.5"/>
<clipPath id="clip357"><rect x="540.5" y="357.2" width="143.1" height="121.5"/></clipPath>
<line clip-path="url(#clip357)" x1="498.93" y1="515.37" x2="725.17" y2="319.99" stroke="#000" stroke-width="1.3"/>
<circle cx="567.5" cy="468.8" r="2.3" fill="#7570b3"/>
<circle cx="583.2" cy="460.7" r="2.3" fill="#1b9e77"/>
<circle cx="586.4" cy="449.4" r="2.3" fill="#1b9e77"/>
<circle cx="595.1" cy="448.8" r="2.3" fill="#1b9e77"/>
<circle cx="597.8" cy="446.1" r="2.3" fill="#7570b3"/>
<circle cx="612.6" cy="432.1" r="2.3" fill="#1b9e77"/>
<circle cx="618.8" cy="419.1" r="2.3" fill="#7570b3"/>
<circle cx="621.5" cy="419.7" r="2.3" fill="#7570b3"/>
<circle cx="626.9" cy="413.4" r="2.3" fill="#1b9e77"/>
<circle cx="640.4" cy="408.9" r="2.3" fill="#7570b3"/>
<circle cx="643.1" cy="401.3" r="2.3" fill="#7570b3"/>
<circle cx="644.5" cy="401.6" r="2.3" fill="#1b9e77"/>
<circle cx="648.5" cy="401.3" r="2.3" fill="#36678e"/>
<circle cx="649.3" cy="398.1" r="2.3" fill="#7570b3"/>
<circle cx="652.6" cy="391.6" r="2.3" fill="#7570b3"/>
<circle cx="653.9" cy="394.8" r="2.3" fill="#7570b3"/>
<circle cx="663.4" cy="383.7" r="2.3" fill="#bebebe"/>
<circle cx="672.8" cy="378.9" r="2.3" fill="#7570b3"/>
<rect x="540.5" y="357.2" width="143.1" height="121.5" fill="none" stroke="#333" stroke-width="1"/>
<line x1="547.3" x2="547.3" y1="478.7" y2="481" stroke="#333" stroke-width="0.8"/>
<text x="547.3" y="495.8" font-size="10.2" fill="#1a1a1a" text-anchor="middle">10<tspan font-size="7" dy="-5.2">4</tspan></text>
<line x1="568.08" x2="568.08" y1="478.7" y2="481" stroke="#333" stroke-width="0.8"/>
<text x="568.08" y="495.8" font-size="10.2" fill="#1a1a1a" text-anchor="middle">10<tspan font-size="7" dy="-5.2">4.5</tspan></text>
<line x1="588.87" x2="588.87" y1="478.7" y2="481" stroke="#333" stroke-width="0.8"/>
<text x="588.87" y="495.8" font-size="10.2" fill="#1a1a1a" text-anchor="middle">10<tspan font-size="7" dy="-5.2">5</tspan></text>
<line x1="609.65" x2="609.65" y1="478.7" y2="481" stroke="#333" stroke-width="0.8"/>
<text x="609.65" y="495.8" font-size="10.2" fill="#1a1a1a" text-anchor="middle">10<tspan font-size="7" dy="-5.2">5.5</tspan></text>
<line x1="630.44" x2="630.44" y1="478.7" y2="481" stroke="#333" stroke-width="0.8"/>
<text x="630.44" y="495.8" font-size="10.2" fill="#1a1a1a" text-anchor="middle">10<tspan font-size="7" dy="-5.2">6</tspan></text>
<line x1="651.22" x2="651.22" y1="478.7" y2="481" stroke="#333" stroke-width="0.8"/>
<text x="651.22" y="495.8" font-size="10.2" fill="#1a1a1a" text-anchor="middle">10<tspan font-size="7" dy="-5.2">6.5</tspan></text>
<line x1="672.01" x2="672.01" y1="478.7" y2="481" stroke="#333" stroke-width="0.8"/>
<text x="672.01" y="495.8" font-size="10.2" fill="#1a1a1a" text-anchor="middle">10<tspan font-size="7" dy="-5.2">7</tspan></text>
<line x1="538.2" x2="540.5" y1="473.6" y2="473.6" stroke="#333" stroke-width="0.8"/>
<text x="533.5" y="480" font-size="10.2" fill="#1a1a1a" text-anchor="end">10<tspan font-size="7" dy="-5.2">4</tspan></text>
<line x1="538.2" x2="540.5" y1="455.65" y2="455.65" stroke="#333" stroke-width="0.8"/>
<text x="533.5" y="462.05" font-size="10.2" fill="#1a1a1a" text-anchor="end">10<tspan font-size="7" dy="-5.2">4.5</tspan></text>
<line x1="538.2" x2="540.5" y1="437.7" y2="437.7" stroke="#333" stroke-width="0.8"/>
<text x="533.5" y="444.1" font-size="10.2" fill="#1a1a1a" text-anchor="end">10<tspan font-size="7" dy="-5.2">5</tspan></text>
<line x1="538.2" x2="540.5" y1="419.75" y2="419.75" stroke="#333" stroke-width="0.8"/>
<text x="533.5" y="426.15" font-size="10.2" fill="#1a1a1a" text-anchor="end">10<tspan font-size="7" dy="-5.2">5.5</tspan></text>
<line x1="538.2" x2="540.5" y1="401.8" y2="401.8" stroke="#333" stroke-width="0.8"/>
<text x="533.5" y="408.2" font-size="10.2" fill="#1a1a1a" text-anchor="end">10<tspan font-size="7" dy="-5.2">6</tspan></text>
<line x1="538.2" x2="540.5" y1="383.85" y2="383.85" stroke="#333" stroke-width="0.8"/>
<text x="533.5" y="390.25" font-size="10.2" fill="#1a1a1a" text-anchor="end">10<tspan font-size="7" dy="-5.2">6.5</tspan></text>
<line x1="538.2" x2="540.5" y1="365.9" y2="365.9" stroke="#333" stroke-width="0.8"/>
<text x="533.5" y="372.3" font-size="10.2" fill="#1a1a1a" text-anchor="end">10<tspan font-size="7" dy="-5.2">7</tspan></text>
<text x="612.05" y="515.8" font-size="10.3" text-anchor="middle" fill="#1a1a1a">Amplitude EXF</text>
<text transform="translate(503.4,417.95) rotate(-90)" font-size="10.1" text-anchor="middle" fill="#1a1a1a">Amplitude TRF</text>
<rect x="540.7" y="531.3" width="142.9" height="121.8" fill="#fff"/>
<line x1="558.3" x2="558.3" y1="531.3" y2="653.1" stroke="#e8e8e8" stroke-width="0.8"/>
<line x1="597.87" x2="597.87" y1="531.3" y2="653.1" stroke="#e8e8e8" stroke-width="0.8"/>
<line x1="637.44" x2="637.44" y1="531.3" y2="653.1" stroke="#e8e8e8" stroke-width="0.8"/>
<line x1="677.01" x2="677.01" y1="531.3" y2="653.1" stroke="#e8e8e8" stroke-width="0.8"/>
<line x1="538.51" x2="538.51" y1="531.3" y2="653.1" stroke="#f2f2f2" stroke-width="0.5"/>
<line x1="578.08" x2="578.08" y1="531.3" y2="653.1" stroke="#f2f2f2" stroke-width="0.5"/>
<line x1="617.65" x2="617.65" y1="531.3" y2="653.1" stroke="#f2f2f2" stroke-width="0.5"/>
<line x1="657.22" x2="657.22" y1="531.3" y2="653.1" stroke="#f2f2f2" stroke-width="0.5"/>
<line x1="540.7" x2="683.6" y1="637.7" y2="637.7" stroke="#e8e8e8" stroke-width="0.8"/>
<line x1="540.7" x2="683.6" y1="604" y2="604" stroke="#e8e8e8" stroke-width="0.8"/>
<line x1="540.7" x2="683.6" y1="570.3" y2="570.3" stroke="#e8e8e8" stroke-width="0.8"/>
<line x1="540.7" x2="683.6" y1="536.6" y2="536.6" stroke="#e8e8e8" stroke-width="0.8"/>
<line x1="540.7" x2="683.6" y1="654.55" y2="654.55" stroke="#f2f2f2" stroke-width="0.5"/>
<line x1="540.7" x2="683.6" y1="620.85" y2="620.85" stroke="#f2f2f2" stroke-width="0.5"/>
<line x1="540.7" x2="683.6" y1="587.15" y2="587.15" stroke="#f2f2f2" stroke-width="0.5"/>
<line x1="540.7" x2="683.6" y1="553.45" y2="553.45" stroke="#f2f2f2" stroke-width="0.5"/>
<clipPath id="clip531"><rect x="540.7" y="531.3" width="142.9" height="121.8"/></clipPath>
<line clip-path="url(#clip531)" x1="501.13" y1="686.39" x2="723.17" y2="497.29" stroke="#000" stroke-width="1.3"/>
<circle cx="556.3" cy="643.8" r="2.3" fill="#1b9e77"/>
<circle cx="578.5" cy="625" r="2.3" fill="#1b9e77"/>
<circle cx="598.2" cy="602.3" r="2.3" fill="#d95f02"/>
<circle cx="622.4" cy="585.5" r="2.3" fill="#1b9e77"/>
<circle cx="627.8" cy="580.9" r="2.3" fill="#1b9e77"/>
<circle cx="626.5" cy="581.5" r="2.3" fill="#bebebe"/>
<circle cx="633.2" cy="570.1" r="2.3" fill="#7570b3"/>
<circle cx="638" cy="572.1" r="2.3" fill="#1b9e77"/>
<circle cx="640.9" cy="564.1" r="2.3" fill="#7570b3"/>
<circle cx="643.7" cy="567.5" r="2.3" fill="#d4458a"/>
<circle cx="646.8" cy="559.6" r="2.3" fill="#7570b3"/>
<circle cx="664.2" cy="544.2" r="2.3" fill="#7570b3"/>
<rect x="540.7" y="531.3" width="142.9" height="121.8" fill="none" stroke="#333" stroke-width="1"/>
<line x1="558.3" x2="558.3" y1="653.1" y2="655.4" stroke="#333" stroke-width="0.8"/>
<text x="558.3" y="672.6" font-size="10.2" fill="#1a1a1a" text-anchor="middle">10<tspan font-size="7" dy="-5.2">5</tspan></text>
<line x1="597.87" x2="597.87" y1="653.1" y2="655.4" stroke="#333" stroke-width="0.8"/>
<text x="597.87" y="672.6" font-size="10.2" fill="#1a1a1a" text-anchor="middle">10<tspan font-size="7" dy="-5.2">6</tspan></text>
<line x1="637.44" x2="637.44" y1="653.1" y2="655.4" stroke="#333" stroke-width="0.8"/>
<text x="637.44" y="672.6" font-size="10.2" fill="#1a1a1a" text-anchor="middle">10<tspan font-size="7" dy="-5.2">7</tspan></text>
<line x1="677.01" x2="677.01" y1="653.1" y2="655.4" stroke="#333" stroke-width="0.8"/>
<text x="677.01" y="672.6" font-size="10.2" fill="#1a1a1a" text-anchor="middle">10<tspan font-size="7" dy="-5.2">8</tspan></text>
<line x1="538.4" x2="540.7" y1="637.7" y2="637.7" stroke="#333" stroke-width="0.8"/>
<text x="533.7" y="644.1" font-size="10.2" fill="#1a1a1a" text-anchor="end">10<tspan font-size="7" dy="-5.2">5</tspan></text>
<line x1="538.4" x2="540.7" y1="604" y2="604" stroke="#333" stroke-width="0.8"/>
<text x="533.7" y="610.4" font-size="10.2" fill="#1a1a1a" text-anchor="end">10<tspan font-size="7" dy="-5.2">6</tspan></text>
<line x1="538.4" x2="540.7" y1="570.3" y2="570.3" stroke="#333" stroke-width="0.8"/>
<text x="533.7" y="576.7" font-size="10.2" fill="#1a1a1a" text-anchor="end">10<tspan font-size="7" dy="-5.2">7</tspan></text>
<line x1="538.4" x2="540.7" y1="536.6" y2="536.6" stroke="#333" stroke-width="0.8"/>
<text x="533.7" y="543" font-size="10.2" fill="#1a1a1a" text-anchor="end">10<tspan font-size="7" dy="-5.2">8</tspan></text>
<text x="612.15" y="692.8" font-size="10.3" text-anchor="middle" fill="#1a1a1a">MESOR EXF</text>
<text transform="translate(510,592.2) rotate(-90)" font-size="10.1" text-anchor="middle" fill="#1a1a1a">MESOR TRF</text>
<text x="25.7" y="769" font-size="17" font-weight="bold" fill="#000">e</text>
<rect x="63.4" y="764" width="124.7" height="21.3" fill="#d9d9d9"/>
<text x="125.75" y="781" font-size="13.6" text-anchor="middle" fill="#1a1a1a">BCL9L</text>
<text x="172.7" y="780.8" font-size="10.3" fill="#1a1a1a">+</text>
<rect x="63.4" y="785.3" width="124.7" height="92.3" fill="#ebebeb"/>
<clipPath id="fc0"><rect x="63.4" y="785.3" width="124.7" height="92.3"/></clipPath>
<g clip-path="url(#fc0)">
<line x1="83.1" x2="83.1" y1="785.3" y2="877.6" stroke="#fff" stroke-width="0.55"/>
<line x1="102.1" x2="102.1" y1="785.3" y2="877.6" stroke="#fff" stroke-width="0.55"/>
<line x1="121.1" x2="121.1" y1="785.3" y2="877.6" stroke="#fff" stroke-width="0.55"/>
<line x1="140.1" x2="140.1" y1="785.3" y2="877.6" stroke="#fff" stroke-width="0.55"/>
<line x1="159.1" x2="159.1" y1="785.3" y2="877.6" stroke="#fff" stroke-width="0.55"/>
<line x1="178.1" x2="178.1" y1="785.3" y2="877.6" stroke="#fff" stroke-width="0.55"/>
<line x1="63.4" x2="188.1" y1="874.02" y2="874.02" stroke="#fff" stroke-width="0.55"/>
<line x1="63.4" x2="188.1" y1="848.77" y2="848.77" stroke="#fff" stroke-width="0.55"/>
<line x1="63.4" x2="188.1" y1="823.52" y2="823.52" stroke="#fff" stroke-width="0.55"/>
<line x1="63.4" x2="188.1" y1="798.27" y2="798.27" stroke="#fff" stroke-width="0.55"/>
<line x1="73.6" x2="73.6" y1="785.3" y2="877.6" stroke="#fff" stroke-width="0.95"/>
<line x1="92.6" x2="92.6" y1="785.3" y2="877.6" stroke="#fff" stroke-width="0.95"/>
<line x1="111.6" x2="111.6" y1="785.3" y2="877.6" stroke="#fff" stroke-width="0.95"/>
<line x1="130.6" x2="130.6" y1="785.3" y2="877.6" stroke="#fff" stroke-width="0.95"/>
<line x1="149.6" x2="149.6" y1="785.3" y2="877.6" stroke="#fff" stroke-width="0.95"/>
<line x1="168.6" x2="168.6" y1="785.3" y2="877.6" stroke="#fff" stroke-width="0.95"/>
<line x1="63.4" x2="188.1" y1="861.4" y2="861.4" stroke="#fff" stroke-width="0.95"/>
<line x1="63.4" x2="188.1" y1="836.15" y2="836.15" stroke="#fff" stroke-width="0.95"/>
<line x1="63.4" x2="188.1" y1="810.9" y2="810.9" stroke="#fff" stroke-width="0.95"/>
<circle cx="73.85" cy="855.34" r="1.55" fill="#000"/>
<circle cx="73.9" cy="858.37" r="1.55" fill="#f21d0e"/>
<circle cx="72.98" cy="851.3" r="1.55" fill="#f21d0e"/>
<circle cx="75.77" cy="865.44" r="1.55" fill="#f21d0e"/>
<circle cx="71.99" cy="862.41" r="1.55" fill="#f21d0e"/>
<circle cx="71.51" cy="848.27" r="1.55" fill="#000"/>
<circle cx="76.16" cy="859.38" r="1.55" fill="#000"/>
<circle cx="72.94" cy="791.2" r="1.55" fill="#000"/>
<circle cx="70.69" cy="843.22" r="1.55" fill="#000"/>
<circle cx="75.26" cy="863.92" r="1.55" fill="#f21d0e"/>
<circle cx="71.56" cy="867.46" r="1.55" fill="#f21d0e"/>
<circle cx="76.34" cy="857.36" r="1.55" fill="#000"/>
<circle cx="70.86" cy="845.75" r="1.55" fill="#000"/>
<circle cx="75.28" cy="863.42" r="1.55" fill="#000"/>
<circle cx="75.54" cy="847.26" r="1.55" fill="#f21d0e"/>
<circle cx="72.22" cy="861.4" r="1.55" fill="#000"/>
<circle cx="90.9" cy="860.39" r="1.55" fill="#000"/>
<circle cx="95.39" cy="858.88" r="1.55" fill="#f21d0e"/>
<circle cx="92.22" cy="854.83" r="1.55" fill="#000"/>
<circle cx="93.36" cy="857.36" r="1.55" fill="#000"/>
<circle cx="91.41" cy="849.28" r="1.55" fill="#000"/>
<circle cx="92.64" cy="852.81" r="1.55" fill="#000"/>
<circle cx="91.92" cy="850.79" r="1.55" fill="#000"/>
<circle cx="91.71" cy="855.34" r="1.55" fill="#f21d0e"/>
<circle cx="93.11" cy="853.82" r="1.55" fill="#f21d0e"/>
<circle cx="93.11" cy="871.5" r="1.55" fill="#f21d0e"/>
<circle cx="95.03" cy="862.91" r="1.55" fill="#000"/>
<circle cx="93.69" cy="863.42" r="1.55" fill="#f21d0e"/>
<circle cx="108.98" cy="857.36" r="1.55" fill="#000"/>
<circle cx="113.72" cy="853.32" r="1.55" fill="#f21d0e"/>
<circle cx="114.54" cy="850.29" r="1.55" fill="#f21d0e"/>
<circle cx="109.13" cy="848.77" r="1.55" fill="#f21d0e"/>
<circle cx="113.4" cy="874.02" r="1.55" fill="#000"/>
<circle cx="111.06" cy="872.51" r="1.55" fill="#000"/>
<circle cx="109.5" cy="789.69" r="1.55" fill="#f21d0e"/>
<circle cx="110.36" cy="851.3" r="1.55" fill="#000"/>
<circle cx="113.21" cy="869.99" r="1.55" fill="#000"/>
<circle cx="113.84" cy="854.83" r="1.55" fill="#000"/>
<circle cx="108.87" cy="846.25" r="1.55" fill="#f21d0e"/>
<circle cx="112.29" cy="842.72" r="1.55" fill="#f21d0e"/>
<circle cx="108.87" cy="867.46" r="1.55" fill="#000"/>
<circle cx="112.91" cy="841.7" r="1.55" fill="#000"/>
<circle cx="110.59" cy="856.35" r="1.55" fill="#f21d0e"/>
<circle cx="129.35" cy="848.27" r="1.55" fill="#000"/>
<circle cx="129.18" cy="846.25" r="1.55" fill="#000"/>
<circle cx="131.74" cy="839.68" r="1.55" fill="#f21d0e"/>
<circle cx="133.48" cy="856.86" r="1.55" fill="#000"/>
<circle cx="129.64" cy="847.26" r="1.55" fill="#f21d0e"/>
<circle cx="129.76" cy="859.88" r="1.55" fill="#000"/>
<circle cx="128.43" cy="861.9" r="1.55" fill="#000"/>
<circle cx="132.77" cy="837.66" r="1.55" fill="#f21d0e"/>
<circle cx="129.86" cy="854.33" r="1.55" fill="#f21d0e"/>
<circle cx="132.82" cy="844.23" r="1.55" fill="#000"/>
<circle cx="129.92" cy="851.3" r="1.55" fill="#000"/>
<circle cx="132.8" cy="863.92" r="1.55" fill="#000"/>
<circle cx="131.69" cy="853.82" r="1.55" fill="#000"/>
<circle cx="149.73" cy="840.69" r="1.55" fill="#000"/>
<circle cx="149.89" cy="848.27" r="1.55" fill="#f21d0e"/>
<circle cx="146.67" cy="858.88" r="1.55" fill="#f21d0e"/>
<circle cx="149.09" cy="855.85" r="1.55" fill="#000"/>
<circle cx="150.08" cy="853.32" r="1.55" fill="#f21d0e"/>
<circle cx="146.72" cy="841.7" r="1.55" fill="#f21d0e"/>
<circle cx="150.29" cy="858.37" r="1.55" fill="#000"/>
<circle cx="150.39" cy="867.46" r="1.55" fill="#000"/>
<circle cx="146.96" cy="862.41" r="1.55" fill="#f21d0e"/>
<circle cx="150.36" cy="851.3" r="1.55" fill="#000"/>
<circle cx="169.37" cy="844.74" r="1.55" fill="#000"/>
<circle cx="167.39" cy="842.72" r="1.55" fill="#000"/>
<circle cx="169.21" cy="836.65" r="1.55" fill="#000"/>
<circle cx="166.66" cy="854.83" r="1.55" fill="#f21d0e"/>
<circle cx="166.71" cy="853.82" r="1.55" fill="#000"/>
<circle cx="170.15" cy="818.98" r="1.55" fill="#f21d0e"/>
<circle cx="170.66" cy="834.13" r="1.55" fill="#000"/>
<circle cx="167.18" cy="864.43" r="1.55" fill="#f21d0e"/>
<circle cx="170.32" cy="847.26" r="1.55" fill="#000"/>
<circle cx="166.23" cy="848.27" r="1.55" fill="#f21d0e"/>
<circle cx="170.48" cy="861.4" r="1.55" fill="#f21d0e"/>
<circle cx="171.43" cy="850.29" r="1.55" fill="#f21d0e"/>
<circle cx="169.7" cy="851.3" r="1.55" fill="#000"/>
<circle cx="166.39" cy="863.92" r="1.55" fill="#000"/>
<polyline points="69.32,859.11 71.21,859.38 73.09,859.6 74.97,859.75 76.85,859.85 78.73,859.88 80.61,859.86 82.49,859.77 84.37,859.62 86.25,859.41 88.13,859.14 90.01,858.82 91.89,858.44 93.77,858.02 95.65,857.56 97.53,857.06 99.41,856.53 101.29,855.97 103.17,855.4 105.05,854.8 106.93,854.2 108.81,853.6 110.69,853.01 112.57,852.42 114.45,851.86 116.33,851.31 118.21,850.8 120.09,850.32 121.97,849.88 123.85,849.49 125.73,849.15 127.61,848.85 129.49,848.62 131.37,848.44 133.25,848.33 135.13,848.27 137.01,848.28 138.89,848.35 140.77,848.48 142.65,848.68 144.53,848.93 146.41,849.23 148.29,849.59 150.17,849.99 152.05,850.44 153.93,850.93 155.81,851.45 157.69,852 159.57,852.57 161.46,853.16 163.34,853.76 165.22,854.36 167.1,854.96 168.98,855.55 170.86,856.12 172.74,856.67 174.62,857.2 176.5,857.69 178.38,858.14 180.26,858.55 182.14,858.91" fill="none" stroke="#000" stroke-width="3" stroke-linejoin="round" stroke-linecap="round"/>
<polyline points="69.32,849.57 71.21,850 73.09,850.47 74.97,850.99 76.85,851.55 78.73,852.14 80.61,852.75 82.49,853.38 84.37,854.03 86.25,854.69 88.13,855.34 90.01,855.98 91.89,856.61 93.77,857.22 95.65,857.8 97.53,858.34 99.41,858.85 101.29,859.31 103.17,859.71 105.05,860.07 106.93,860.36 108.81,860.59 110.69,860.76 112.57,860.86 114.45,860.89 116.33,860.86 118.21,860.76 120.09,860.59 121.97,860.36 123.85,860.07 125.73,859.71 127.61,859.31 129.49,858.85 131.37,858.34 133.25,857.8 135.13,857.22 137.01,856.61 138.89,855.98 140.77,855.34 142.65,854.69 144.53,854.03 146.41,853.38 148.29,852.75 150.17,852.14 152.05,851.55 153.93,850.99 155.81,850.47 157.69,850 159.57,849.57 161.46,849.2 163.34,848.89 165.22,848.64 167.1,848.45 168.98,848.33 170.86,848.27 172.74,848.29 174.62,848.37 176.5,848.51 178.38,848.72 180.26,849 182.14,849.33" fill="none" stroke="#f21d0e" stroke-width="3" stroke-linejoin="round" stroke-linecap="round"/>
<path d="M71.6 877.4L75.6 877.4L73.6 874Z" fill="#333"/>
<path d="M85.85 877.4L89.85 877.4L87.85 874Z" fill="#f21d0e"/>
<path d="M100.1 877.4L104.1 877.4L102.1 874Z" fill="#f21d0e"/>
<path d="M104.85 877.4L108.85 877.4L106.85 874Z" fill="#333"/>
<path d="M119.1 877.4L123.1 877.4L121.1 874Z" fill="#f21d0e"/>
<path d="M138.1 877.4L142.1 877.4L140.1 874Z" fill="#333"/>
</g>
<line x1="60.9" x2="63.4" y1="861.4" y2="861.4" stroke="#444" stroke-width="0.9"/>
<text x="57" y="865.8" font-size="10" text-anchor="end" fill="#2b2b2b">5</text>
<line x1="60.9" x2="63.4" y1="836.15" y2="836.15" stroke="#444" stroke-width="0.9"/>
<text x="57" y="840.55" font-size="10" text-anchor="end" fill="#2b2b2b">10</text>
<line x1="60.9" x2="63.4" y1="810.9" y2="810.9" stroke="#444" stroke-width="0.9"/>
<text x="57" y="815.3" font-size="10" text-anchor="end" fill="#2b2b2b">15</text>
<rect x="207.6" y="764" width="124.7" height="21.3" fill="#d9d9d9"/>
<text x="269.95" y="781" font-size="13.6" text-anchor="middle" fill="#1a1a1a">KLHL25</text>
<text x="316.9" y="780.8" font-size="10.3" fill="#1a1a1a"><tspan font-style="italic">#</tspan>+</text>
<rect x="207.6" y="785.3" width="124.7" height="92.3" fill="#ebebeb"/>
<clipPath id="fc1"><rect x="207.6" y="785.3" width="124.7" height="92.3"/></clipPath>
<g clip-path="url(#fc1)">
<line x1="227.3" x2="227.3" y1="785.3" y2="877.6" stroke="#fff" stroke-width="0.55"/>
<line x1="246.3" x2="246.3" y1="785.3" y2="877.6" stroke="#fff" stroke-width="0.55"/>
<line x1="265.3" x2="265.3" y1="785.3" y2="877.6" stroke="#fff" stroke-width="0.55"/>
<line x1="284.3" x2="284.3" y1="785.3" y2="877.6" stroke="#fff" stroke-width="0.55"/>
<line x1="303.3" x2="303.3" y1="785.3" y2="877.6" stroke="#fff" stroke-width="0.55"/>
<line x1="322.3" x2="322.3" y1="785.3" y2="877.6" stroke="#fff" stroke-width="0.55"/>
<line x1="207.6" x2="332.3" y1="877.12" y2="877.12" stroke="#fff" stroke-width="0.55"/>
<line x1="207.6" x2="332.3" y1="850.88" y2="850.88" stroke="#fff" stroke-width="0.55"/>
<line x1="207.6" x2="332.3" y1="824.64" y2="824.64" stroke="#fff" stroke-width="0.55"/>
<line x1="207.6" x2="332.3" y1="798.4" y2="798.4" stroke="#fff" stroke-width="0.55"/>
<line x1="217.8" x2="217.8" y1="785.3" y2="877.6" stroke="#fff" stroke-width="0.95"/>
<line x1="236.8" x2="236.8" y1="785.3" y2="877.6" stroke="#fff" stroke-width="0.95"/>
<line x1="255.8" x2="255.8" y1="785.3" y2="877.6" stroke="#fff" stroke-width="0.95"/>
<line x1="274.8" x2="274.8" y1="785.3" y2="877.6" stroke="#fff" stroke-width="0.95"/>
<line x1="293.8" x2="293.8" y1="785.3" y2="877.6" stroke="#fff" stroke-width="0.95"/>
<line x1="312.8" x2="312.8" y1="785.3" y2="877.6" stroke="#fff" stroke-width="0.95"/>
<line x1="207.6" x2="332.3" y1="864" y2="864" stroke="#fff" stroke-width="0.95"/>
<line x1="207.6" x2="332.3" y1="837.76" y2="837.76" stroke="#fff" stroke-width="0.95"/>
<line x1="207.6" x2="332.3" y1="811.52" y2="811.52" stroke="#fff" stroke-width="0.95"/>
<circle cx="216.3" cy="852.19" r="1.55" fill="#000"/>
<circle cx="220.52" cy="863.34" r="1.55" fill="#f21d0e"/>
<circle cx="220.78" cy="874.5" r="1.55" fill="#f21d0e"/>
<circle cx="215.07" cy="867.28" r="1.55" fill="#f21d0e"/>
<circle cx="219.96" cy="869.25" r="1.55" fill="#f21d0e"/>
<circle cx="218.42" cy="875.81" r="1.55" fill="#f21d0e"/>
<circle cx="217.09" cy="858.1" r="1.55" fill="#000"/>
<circle cx="216.5" cy="854.82" r="1.55" fill="#000"/>
<circle cx="218.85" cy="871.87" r="1.55" fill="#f21d0e"/>
<circle cx="217.54" cy="873.18" r="1.55" fill="#f21d0e"/>
<circle cx="218.92" cy="853.5" r="1.55" fill="#000"/>
<circle cx="218.77" cy="837.76" r="1.55" fill="#000"/>
<circle cx="215.6" cy="865.31" r="1.55" fill="#f21d0e"/>
<circle cx="219.41" cy="858.1" r="1.55" fill="#f21d0e"/>
<circle cx="220.69" cy="861.38" r="1.55" fill="#000"/>
<circle cx="220.62" cy="850.88" r="1.55" fill="#000"/>
<circle cx="238.43" cy="849.57" r="1.55" fill="#f21d0e"/>
<circle cx="235.24" cy="848.91" r="1.55" fill="#000"/>
<circle cx="237.8" cy="845.63" r="1.55" fill="#000"/>
<circle cx="236.5" cy="843.01" r="1.55" fill="#000"/>
<circle cx="236.62" cy="850.88" r="1.55" fill="#000"/>
<circle cx="237.72" cy="864.66" r="1.55" fill="#f21d0e"/>
<circle cx="235.75" cy="841.04" r="1.55" fill="#000"/>
<circle cx="236.81" cy="852.19" r="1.55" fill="#f21d0e"/>
<circle cx="238.85" cy="833.82" r="1.55" fill="#000"/>
<circle cx="239.62" cy="853.5" r="1.55" fill="#000"/>
<circle cx="235.23" cy="856.13" r="1.55" fill="#f21d0e"/>
<circle cx="255.45" cy="864" r="1.55" fill="#000"/>
<circle cx="258.69" cy="861.38" r="1.55" fill="#000"/>
<circle cx="253.95" cy="841.04" r="1.55" fill="#000"/>
<circle cx="254.89" cy="841.04" r="1.55" fill="#f21d0e"/>
<circle cx="258.62" cy="850.22" r="1.55" fill="#f21d0e"/>
<circle cx="255.47" cy="846.29" r="1.55" fill="#f21d0e"/>
<circle cx="256.88" cy="856.13" r="1.55" fill="#000"/>
<circle cx="253.66" cy="853.5" r="1.55" fill="#000"/>
<circle cx="255.93" cy="837.76" r="1.55" fill="#f21d0e"/>
<circle cx="257.99" cy="813.49" r="1.55" fill="#f21d0e"/>
<circle cx="254.4" cy="854.82" r="1.55" fill="#f21d0e"/>
<circle cx="254.62" cy="834.48" r="1.55" fill="#f21d0e"/>
<circle cx="256.76" cy="831.86" r="1.55" fill="#f21d0e"/>
<circle cx="258.46" cy="858.75" r="1.55" fill="#000"/>
<circle cx="253.85" cy="867.28" r="1.55" fill="#000"/>
<circle cx="253.86" cy="846.94" r="1.55" fill="#000"/>
<circle cx="274.14" cy="851.54" r="1.55" fill="#000"/>
<circle cx="277.02" cy="837.76" r="1.55" fill="#000"/>
<circle cx="275.84" cy="829.89" r="1.55" fill="#f21d0e"/>
<circle cx="273.25" cy="826.61" r="1.55" fill="#f21d0e"/>
<circle cx="274.95" cy="835.14" r="1.55" fill="#000"/>
<circle cx="277.26" cy="798.4" r="1.55" fill="#f21d0e"/>
<circle cx="274.92" cy="814.8" r="1.55" fill="#000"/>
<circle cx="275.41" cy="820.7" r="1.55" fill="#f21d0e"/>
<circle cx="272.18" cy="836.45" r="1.55" fill="#f21d0e"/>
<circle cx="274.74" cy="840.38" r="1.55" fill="#f21d0e"/>
<circle cx="274.57" cy="793.15" r="1.55" fill="#f21d0e"/>
<circle cx="274.21" cy="808.9" r="1.55" fill="#000"/>
<circle cx="274.32" cy="841.04" r="1.55" fill="#000"/>
<circle cx="275.31" cy="839.73" r="1.55" fill="#000"/>
<circle cx="275.03" cy="861.38" r="1.55" fill="#000"/>
<circle cx="274.74" cy="823.33" r="1.55" fill="#f21d0e"/>
<circle cx="291.36" cy="816.11" r="1.55" fill="#f21d0e"/>
<circle cx="291.45" cy="801.68" r="1.55" fill="#f21d0e"/>
<circle cx="293.52" cy="831.86" r="1.55" fill="#000"/>
<circle cx="296.76" cy="833.82" r="1.55" fill="#000"/>
<circle cx="293.71" cy="826.61" r="1.55" fill="#000"/>
<circle cx="293.55" cy="810.21" r="1.55" fill="#f21d0e"/>
<circle cx="293.42" cy="812.18" r="1.55" fill="#f21d0e"/>
<circle cx="293.81" cy="793.81" r="1.55" fill="#000"/>
<circle cx="293.48" cy="840.38" r="1.55" fill="#000"/>
<circle cx="295.16" cy="821.36" r="1.55" fill="#000"/>
<circle cx="296.19" cy="793.15" r="1.55" fill="#f21d0e"/>
<circle cx="294.99" cy="796.43" r="1.55" fill="#f21d0e"/>
<circle cx="293.34" cy="824.64" r="1.55" fill="#000"/>
<circle cx="315.57" cy="842.35" r="1.55" fill="#000"/>
<circle cx="312.41" cy="861.38" r="1.55" fill="#f21d0e"/>
<circle cx="314.95" cy="851.54" r="1.55" fill="#000"/>
<circle cx="314.11" cy="830.54" r="1.55" fill="#f21d0e"/>
<circle cx="315.13" cy="836.45" r="1.55" fill="#000"/>
<circle cx="310.08" cy="826.61" r="1.55" fill="#000"/>
<circle cx="315.28" cy="847.6" r="1.55" fill="#f21d0e"/>
<circle cx="314.4" cy="789.87" r="1.55" fill="#000"/>
<circle cx="315.57" cy="840.38" r="1.55" fill="#000"/>
<circle cx="315.69" cy="832.51" r="1.55" fill="#000"/>
<circle cx="311.51" cy="828.58" r="1.55" fill="#000"/>
<circle cx="313.82" cy="851.54" r="1.55" fill="#f21d0e"/>
<circle cx="310.65" cy="826.61" r="1.55" fill="#f21d0e"/>
<circle cx="313.37" cy="836.45" r="1.55" fill="#f21d0e"/>
<polyline points="213.52,856.22 215.41,858.06 217.29,859.68 219.17,861.06 221.05,862.19 222.93,863.06 224.81,863.65 226.69,863.95 228.57,863.97 230.45,863.71 232.33,863.17 234.21,862.35 236.09,861.26 237.97,859.92 239.85,858.33 241.73,856.52 243.61,854.51 245.49,852.31 247.37,849.96 249.25,847.47 251.13,844.87 253.01,842.19 254.89,839.46 256.77,836.71 258.65,833.96 260.53,831.26 262.41,828.62 264.29,826.07 266.17,823.65 268.05,821.37 269.93,819.27 271.81,817.36 273.69,815.67 275.57,814.21 277.45,813 279.33,812.05 281.21,811.37 283.09,810.98 284.97,810.87 286.85,811.04 288.73,811.49 290.61,812.23 292.49,813.23 294.37,814.5 296.25,816.01 298.13,817.75 300.01,819.7 301.89,821.84 303.77,824.15 305.66,826.6 307.54,829.17 309.42,831.82 311.3,834.54 313.18,837.29 315.06,840.04 316.94,842.76 318.82,845.42 320.7,848 322.58,850.46 324.46,852.79 326.34,854.95" fill="none" stroke="#000" stroke-width="3" stroke-linejoin="round" stroke-linecap="round"/>
<polyline points="213.52,842.75 215.41,844.09 217.29,845.39 219.17,846.65 221.05,847.85 222.93,848.97 224.81,850.01 226.69,850.95 228.57,851.79 230.45,852.51 232.33,853.11 234.21,853.57 236.09,853.91 237.97,854.1 239.85,854.16 241.73,854.07 243.61,853.85 245.49,853.49 247.37,852.99 249.25,852.37 251.13,851.62 253.01,850.76 254.89,849.8 256.77,848.74 258.65,847.6 260.53,846.39 262.41,845.12 264.29,843.81 266.17,842.47 268.05,841.11 269.93,839.75 271.81,838.41 273.69,837.09 275.57,835.82 277.45,834.6 279.33,833.46 281.21,832.39 283.09,831.42 284.97,830.54 286.85,829.79 288.73,829.15 290.61,828.64 292.49,828.26 294.37,828.02 296.25,827.92 298.13,827.96 300.01,828.14 301.89,828.46 303.77,828.92 305.66,829.5 307.54,830.21 309.42,831.04 311.3,831.97 313.18,833 315.06,834.11 316.94,835.3 318.82,836.55 320.7,837.85 322.58,839.19 324.46,840.54 326.34,841.9" fill="none" stroke="#f21d0e" stroke-width="3" stroke-linejoin="round" stroke-linecap="round"/>
<path d="M215.8 877.4L219.8 877.4L217.8 874Z" fill="#333"/>
<path d="M230.05 877.4L234.05 877.4L232.05 874Z" fill="#f21d0e"/>
<path d="M244.3 877.4L248.3 877.4L246.3 874Z" fill="#f21d0e"/>
<path d="M249.05 877.4L253.05 877.4L251.05 874Z" fill="#333"/>
<path d="M263.3 877.4L267.3 877.4L265.3 874Z" fill="#f21d0e"/>
<path d="M282.3 877.4L286.3 877.4L284.3 874Z" fill="#333"/>
</g>
<line x1="205.1" x2="207.6" y1="864" y2="864" stroke="#444" stroke-width="0.9"/>
<text x="201.2" y="868.4" font-size="10" text-anchor="end" fill="#2b2b2b">4</text>
<line x1="205.1" x2="207.6" y1="837.76" y2="837.76" stroke="#444" stroke-width="0.9"/>
<text x="201.2" y="842.16" font-size="10" text-anchor="end" fill="#2b2b2b">8</text>
<line x1="205.1" x2="207.6" y1="811.52" y2="811.52" stroke="#444" stroke-width="0.9"/>
<text x="201.2" y="815.92" font-size="10" text-anchor="end" fill="#2b2b2b">12</text>
<rect x="357.6" y="764" width="124.7" height="21.3" fill="#d9d9d9"/>
<text x="419.95" y="781" font-size="13.6" text-anchor="middle" fill="#1a1a1a">PCF11</text>
<text x="466.9" y="780.8" font-size="10.3" fill="#1a1a1a">+</text>
<rect x="357.6" y="785.3" width="124.7" height="92.3" fill="#ebebeb"/>
<clipPath id="fc2"><rect x="357.6" y="785.3" width="124.7" height="92.3"/></clipPath>
<g clip-path="url(#fc2)">
<line x1="377.3" x2="377.3" y1="785.3" y2="877.6" stroke="#fff" stroke-width="0.55"/>
<line x1="396.3" x2="396.3" y1="785.3" y2="877.6" stroke="#fff" stroke-width="0.55"/>
<line x1="415.3" x2="415.3" y1="785.3" y2="877.6" stroke="#fff" stroke-width="0.55"/>
<line x1="434.3" x2="434.3" y1="785.3" y2="877.6" stroke="#fff" stroke-width="0.55"/>
<line x1="453.3" x2="453.3" y1="785.3" y2="877.6" stroke="#fff" stroke-width="0.55"/>
<line x1="472.3" x2="472.3" y1="785.3" y2="877.6" stroke="#fff" stroke-width="0.55"/>
<line x1="357.6" x2="482.3" y1="866.25" y2="866.25" stroke="#fff" stroke-width="0.55"/>
<line x1="357.6" x2="482.3" y1="846.68" y2="846.68" stroke="#fff" stroke-width="0.55"/>
<line x1="357.6" x2="482.3" y1="827.12" y2="827.12" stroke="#fff" stroke-width="0.55"/>
<line x1="357.6" x2="482.3" y1="807.54" y2="807.54" stroke="#fff" stroke-width="0.55"/>
<line x1="357.6" x2="482.3" y1="787.98" y2="787.98" stroke="#fff" stroke-width="0.55"/>
<line x1="367.8" x2="367.8" y1="785.3" y2="877.6" stroke="#fff" stroke-width="0.95"/>
<line x1="386.8" x2="386.8" y1="785.3" y2="877.6" stroke="#fff" stroke-width="0.95"/>
<line x1="405.8" x2="405.8" y1="785.3" y2="877.6" stroke="#fff" stroke-width="0.95"/>
<line x1="424.8" x2="424.8" y1="785.3" y2="877.6" stroke="#fff" stroke-width="0.95"/>
<line x1="443.8" x2="443.8" y1="785.3" y2="877.6" stroke="#fff" stroke-width="0.95"/>
<line x1="462.8" x2="462.8" y1="785.3" y2="877.6" stroke="#fff" stroke-width="0.95"/>
<line x1="357.6" x2="482.3" y1="876.04" y2="876.04" stroke="#fff" stroke-width="0.95"/>
<line x1="357.6" x2="482.3" y1="856.47" y2="856.47" stroke="#fff" stroke-width="0.95"/>
<line x1="357.6" x2="482.3" y1="836.9" y2="836.9" stroke="#fff" stroke-width="0.95"/>
<line x1="357.6" x2="482.3" y1="817.33" y2="817.33" stroke="#fff" stroke-width="0.95"/>
<line x1="357.6" x2="482.3" y1="797.76" y2="797.76" stroke="#fff" stroke-width="0.95"/>
<circle cx="366.29" cy="855.69" r="1.55" fill="#f21d0e"/>
<circle cx="369.69" cy="845.12" r="1.55" fill="#000"/>
<circle cx="367.32" cy="835.92" r="1.55" fill="#000"/>
<circle cx="369.96" cy="843.16" r="1.55" fill="#000"/>
<circle cx="369.61" cy="824.18" r="1.55" fill="#f21d0e"/>
<circle cx="368.64" cy="872.91" r="1.55" fill="#f21d0e"/>
<circle cx="368.91" cy="840.42" r="1.55" fill="#000"/>
<circle cx="369.15" cy="853.93" r="1.55" fill="#f21d0e"/>
<circle cx="365.63" cy="849.82" r="1.55" fill="#000"/>
<circle cx="368.11" cy="847.47" r="1.55" fill="#000"/>
<circle cx="365.64" cy="852.75" r="1.55" fill="#000"/>
<circle cx="369.55" cy="832.79" r="1.55" fill="#f21d0e"/>
<circle cx="386.84" cy="823.2" r="1.55" fill="#f21d0e"/>
<circle cx="388.95" cy="849.23" r="1.55" fill="#000"/>
<circle cx="387.64" cy="828.48" r="1.55" fill="#000"/>
<circle cx="387.4" cy="854.51" r="1.55" fill="#f21d0e"/>
<circle cx="387.9" cy="852.16" r="1.55" fill="#000"/>
<circle cx="386.25" cy="808.33" r="1.55" fill="#000"/>
<circle cx="386.84" cy="841.99" r="1.55" fill="#000"/>
<circle cx="385.82" cy="846.1" r="1.55" fill="#000"/>
<circle cx="386.4" cy="856.47" r="1.55" fill="#f21d0e"/>
<circle cx="387.23" cy="826.33" r="1.55" fill="#f21d0e"/>
<circle cx="389.18" cy="862.34" r="1.55" fill="#000"/>
<circle cx="388.23" cy="851.19" r="1.55" fill="#f21d0e"/>
<circle cx="384.1" cy="832.59" r="1.55" fill="#000"/>
<circle cx="386.66" cy="838.86" r="1.55" fill="#000"/>
<circle cx="407.52" cy="844.73" r="1.55" fill="#000"/>
<circle cx="403.96" cy="861.36" r="1.55" fill="#000"/>
<circle cx="406.42" cy="827.12" r="1.55" fill="#f21d0e"/>
<circle cx="406.13" cy="834.36" r="1.55" fill="#f21d0e"/>
<circle cx="406.12" cy="829.46" r="1.55" fill="#000"/>
<circle cx="403.58" cy="838.66" r="1.55" fill="#000"/>
<circle cx="406.75" cy="811.46" r="1.55" fill="#f21d0e"/>
<circle cx="408.3" cy="855.88" r="1.55" fill="#f21d0e"/>
<circle cx="404.71" cy="823.2" r="1.55" fill="#000"/>
<circle cx="404.79" cy="833.38" r="1.55" fill="#000"/>
<circle cx="408.25" cy="858.04" r="1.55" fill="#000"/>
<circle cx="406.27" cy="820.07" r="1.55" fill="#000"/>
<circle cx="404.44" cy="838.86" r="1.55" fill="#f21d0e"/>
<circle cx="402.86" cy="817.33" r="1.55" fill="#f21d0e"/>
<circle cx="426.29" cy="835.92" r="1.55" fill="#000"/>
<circle cx="426.09" cy="846.29" r="1.55" fill="#000"/>
<circle cx="424.71" cy="810.48" r="1.55" fill="#f21d0e"/>
<circle cx="425.53" cy="832.99" r="1.55" fill="#000"/>
<circle cx="424.95" cy="829.85" r="1.55" fill="#000"/>
<circle cx="422.63" cy="838.27" r="1.55" fill="#f21d0e"/>
<circle cx="424.71" cy="844.53" r="1.55" fill="#f21d0e"/>
<circle cx="427.51" cy="826.92" r="1.55" fill="#f21d0e"/>
<circle cx="427.67" cy="840.03" r="1.55" fill="#000"/>
<circle cx="426.7" cy="874.08" r="1.55" fill="#000"/>
<circle cx="422.9" cy="813.61" r="1.55" fill="#000"/>
<circle cx="427.77" cy="843.16" r="1.55" fill="#000"/>
<circle cx="427.57" cy="852.75" r="1.55" fill="#f21d0e"/>
<circle cx="445.83" cy="818.9" r="1.55" fill="#f21d0e"/>
<circle cx="444.74" cy="845.51" r="1.55" fill="#000"/>
<circle cx="443.22" cy="818.9" r="1.55" fill="#000"/>
<circle cx="441.25" cy="837.49" r="1.55" fill="#000"/>
<circle cx="441.31" cy="843.55" r="1.55" fill="#f21d0e"/>
<circle cx="444.62" cy="850.79" r="1.55" fill="#f21d0e"/>
<circle cx="442.25" cy="838.66" r="1.55" fill="#f21d0e"/>
<circle cx="443.99" cy="858.04" r="1.55" fill="#f21d0e"/>
<circle cx="442.39" cy="832.2" r="1.55" fill="#000"/>
<circle cx="441.78" cy="825.94" r="1.55" fill="#000"/>
<circle cx="442.57" cy="852.75" r="1.55" fill="#000"/>
<circle cx="445.15" cy="790.32" r="1.55" fill="#000"/>
<circle cx="443.72" cy="822.03" r="1.55" fill="#000"/>
<circle cx="443.16" cy="803.44" r="1.55" fill="#000"/>
<circle cx="443.72" cy="833.38" r="1.55" fill="#f21d0e"/>
<circle cx="465.62" cy="817.72" r="1.55" fill="#000"/>
<circle cx="463.39" cy="802.65" r="1.55" fill="#000"/>
<circle cx="465.57" cy="825.94" r="1.55" fill="#000"/>
<circle cx="463.27" cy="822.81" r="1.55" fill="#000"/>
<circle cx="462.92" cy="831.03" r="1.55" fill="#000"/>
<circle cx="460.12" cy="841.6" r="1.55" fill="#f21d0e"/>
<circle cx="464.79" cy="857.06" r="1.55" fill="#f21d0e"/>
<circle cx="465.59" cy="832.2" r="1.55" fill="#f21d0e"/>
<circle cx="460.81" cy="813.22" r="1.55" fill="#000"/>
<circle cx="465.59" cy="838.27" r="1.55" fill="#000"/>
<circle cx="461.19" cy="838.66" r="1.55" fill="#f21d0e"/>
<circle cx="461.68" cy="859.21" r="1.55" fill="#f21d0e"/>
<circle cx="460.83" cy="835.14" r="1.55" fill="#000"/>
<circle cx="465.64" cy="846.29" r="1.55" fill="#000"/>
<polyline points="363.53,847.83 365.41,847.72 367.29,847.52 369.17,847.23 371.05,846.86 372.93,846.41 374.81,845.88 376.69,845.28 378.57,844.62 380.45,843.91 382.33,843.15 384.21,842.35 386.09,841.52 387.97,840.66 389.85,839.79 391.73,838.92 393.61,838.06 395.49,837.2 397.37,836.38 399.25,835.58 401.13,834.83 403.01,834.13 404.89,833.48 406.77,832.9 408.65,832.39 410.53,831.95 412.41,831.59 414.29,831.32 416.17,831.14 418.05,831.04 419.93,831.04 421.81,831.12 423.69,831.3 425.57,831.56 427.45,831.9 429.33,832.33 431.21,832.84 433.09,833.41 434.97,834.05 436.85,834.75 438.73,835.49 440.61,836.28 442.49,837.11 444.37,837.96 446.25,838.82 448.13,839.69 450.01,840.56 451.89,841.42 453.78,842.25 455.66,843.06 457.54,843.83 459.42,844.55 461.3,845.21 463.18,845.81 465.06,846.35 466.94,846.81 468.82,847.19 470.7,847.49 472.58,847.7 474.46,847.82 476.34,847.86" fill="none" stroke="#000" stroke-width="3" stroke-linejoin="round" stroke-linecap="round"/>
<polyline points="363.53,835.72 365.41,836.65 367.29,837.59 369.17,838.51 371.05,839.42 372.93,840.3 374.81,841.14 376.69,841.94 378.57,842.69 380.45,843.37 382.33,843.98 384.21,844.52 386.09,844.97 387.97,845.34 389.85,845.62 391.73,845.8 393.61,845.89 395.49,845.89 397.37,845.78 399.25,845.58 401.13,845.29 403.01,844.91 404.89,844.44 406.77,843.89 408.65,843.27 410.53,842.57 412.41,841.82 414.29,841.01 416.17,840.16 418.05,839.28 419.93,838.37 421.81,837.44 423.69,836.51 425.57,835.58 427.45,834.67 429.33,833.77 431.21,832.92 433.09,832.1 434.97,831.34 436.85,830.64 438.73,830 440.61,829.44 442.49,828.96 444.37,828.56 446.25,828.26 448.13,828.04 450.01,827.92 451.89,827.9 453.78,827.97 455.66,828.14 457.54,828.41 459.42,828.76 461.3,829.2 463.18,829.73 465.06,830.33 466.94,831 468.82,831.74 470.7,832.53 472.58,833.36 474.46,834.24 476.34,835.14" fill="none" stroke="#f21d0e" stroke-width="1.1" stroke-linejoin="round" stroke-linecap="round"/>
<path d="M365.8 877.4L369.8 877.4L367.8 874Z" fill="#333"/>
<path d="M380.05 877.4L384.05 877.4L382.05 874Z" fill="#f21d0e"/>
<path d="M394.3 877.4L398.3 877.4L396.3 874Z" fill="#f21d0e"/>
<path d="M399.05 877.4L403.05 877.4L401.05 874Z" fill="#333"/>
<path d="M413.3 877.4L417.3 877.4L415.3 874Z" fill="#f21d0e"/>
<path d="M432.3 877.4L436.3 877.4L434.3 874Z" fill="#333"/>
</g>
<line x1="355.1" x2="357.6" y1="876.04" y2="876.04" stroke="#444" stroke-width="0.9"/>
<text x="351.2" y="880.44" font-size="10" text-anchor="end" fill="#2b2b2b">30</text>
<line x1="355.1" x2="357.6" y1="856.47" y2="856.47" stroke="#444" stroke-width="0.9"/>
<text x="351.2" y="860.87" font-size="10" text-anchor="end" fill="#2b2b2b">40</text>
<line x1="355.1" x2="357.6" y1="836.9" y2="836.9" stroke="#444" stroke-width="0.9"/>
<text x="351.2" y="841.3" font-size="10" text-anchor="end" fill="#2b2b2b">50</text>
<line x1="355.1" x2="357.6" y1="817.33" y2="817.33" stroke="#444" stroke-width="0.9"/>
<text x="351.2" y="821.73" font-size="10" text-anchor="end" fill="#2b2b2b">60</text>
<line x1="355.1" x2="357.6" y1="797.76" y2="797.76" stroke="#444" stroke-width="0.9"/>
<text x="351.2" y="802.16" font-size="10" text-anchor="end" fill="#2b2b2b">70</text>
<rect x="502" y="764" width="124.7" height="21.3" fill="#d9d9d9"/>
<text x="564.35" y="781" font-size="13.6" text-anchor="middle" fill="#1a1a1a">PIK3IP1</text>
<text x="611.3" y="780.8" font-size="10.3" fill="#1a1a1a"><tspan font-style="italic">#</tspan></text>
<rect x="502" y="785.3" width="124.7" height="92.3" fill="#ebebeb"/>
<clipPath id="fc3"><rect x="502" y="785.3" width="124.7" height="92.3"/></clipPath>
<g clip-path="url(#fc3)">
<line x1="521.7" x2="521.7" y1="785.3" y2="877.6" stroke="#fff" stroke-width="0.55"/>
<line x1="540.7" x2="540.7" y1="785.3" y2="877.6" stroke="#fff" stroke-width="0.55"/>
<line x1="559.7" x2="559.7" y1="785.3" y2="877.6" stroke="#fff" stroke-width="0.55"/>
<line x1="578.7" x2="578.7" y1="785.3" y2="877.6" stroke="#fff" stroke-width="0.55"/>
<line x1="597.7" x2="597.7" y1="785.3" y2="877.6" stroke="#fff" stroke-width="0.55"/>
<line x1="616.7" x2="616.7" y1="785.3" y2="877.6" stroke="#fff" stroke-width="0.55"/>
<line x1="502" x2="626.7" y1="868.85" y2="868.85" stroke="#fff" stroke-width="0.55"/>
<line x1="502" x2="626.7" y1="846.15" y2="846.15" stroke="#fff" stroke-width="0.55"/>
<line x1="502" x2="626.7" y1="823.45" y2="823.45" stroke="#fff" stroke-width="0.55"/>
<line x1="502" x2="626.7" y1="800.75" y2="800.75" stroke="#fff" stroke-width="0.55"/>
<line x1="512.2" x2="512.2" y1="785.3" y2="877.6" stroke="#fff" stroke-width="0.95"/>
<line x1="531.2" x2="531.2" y1="785.3" y2="877.6" stroke="#fff" stroke-width="0.95"/>
<line x1="550.2" x2="550.2" y1="785.3" y2="877.6" stroke="#fff" stroke-width="0.95"/>
<line x1="569.2" x2="569.2" y1="785.3" y2="877.6" stroke="#fff" stroke-width="0.95"/>
<line x1="588.2" x2="588.2" y1="785.3" y2="877.6" stroke="#fff" stroke-width="0.95"/>
<line x1="607.2" x2="607.2" y1="785.3" y2="877.6" stroke="#fff" stroke-width="0.95"/>
<line x1="502" x2="626.7" y1="857.5" y2="857.5" stroke="#fff" stroke-width="0.95"/>
<line x1="502" x2="626.7" y1="834.8" y2="834.8" stroke="#fff" stroke-width="0.95"/>
<line x1="502" x2="626.7" y1="812.1" y2="812.1" stroke="#fff" stroke-width="0.95"/>
<line x1="502" x2="626.7" y1="789.4" y2="789.4" stroke="#fff" stroke-width="0.95"/>
<circle cx="514.95" cy="803.93" r="1.55" fill="#f21d0e"/>
<circle cx="513.63" cy="834.8" r="1.55" fill="#f21d0e"/>
<circle cx="511.87" cy="793.94" r="1.55" fill="#f21d0e"/>
<circle cx="511.03" cy="789.4" r="1.55" fill="#f21d0e"/>
<circle cx="514.92" cy="851.83" r="1.55" fill="#000"/>
<circle cx="509.71" cy="840.02" r="1.55" fill="#f21d0e"/>
<circle cx="513.76" cy="822.09" r="1.55" fill="#f21d0e"/>
<circle cx="514.26" cy="816.87" r="1.55" fill="#000"/>
<circle cx="510.15" cy="842.29" r="1.55" fill="#000"/>
<circle cx="511.16" cy="811.42" r="1.55" fill="#f21d0e"/>
<circle cx="511.03" cy="825.95" r="1.55" fill="#000"/>
<circle cx="512.45" cy="855.91" r="1.55" fill="#f21d0e"/>
<circle cx="511.4" cy="798.71" r="1.55" fill="#f21d0e"/>
<circle cx="514.56" cy="832.76" r="1.55" fill="#000"/>
<circle cx="514.75" cy="837.98" r="1.55" fill="#000"/>
<circle cx="511.1" cy="853.87" r="1.55" fill="#f21d0e"/>
<circle cx="514.57" cy="848.65" r="1.55" fill="#000"/>
<circle cx="509.62" cy="845.47" r="1.55" fill="#000"/>
<circle cx="509.78" cy="808.24" r="1.55" fill="#f21d0e"/>
<circle cx="530.15" cy="865.45" r="1.55" fill="#000"/>
<circle cx="529.39" cy="834.8" r="1.55" fill="#f21d0e"/>
<circle cx="531.83" cy="863.4" r="1.55" fill="#000"/>
<circle cx="532.9" cy="857.05" r="1.55" fill="#000"/>
<circle cx="531.05" cy="855.91" r="1.55" fill="#f21d0e"/>
<circle cx="529.76" cy="840.25" r="1.55" fill="#000"/>
<circle cx="531.25" cy="845.47" r="1.55" fill="#000"/>
<circle cx="529.55" cy="814.82" r="1.55" fill="#f21d0e"/>
<circle cx="532.98" cy="847.51" r="1.55" fill="#f21d0e"/>
<circle cx="528.71" cy="860.22" r="1.55" fill="#000"/>
<circle cx="529.02" cy="868.17" r="1.55" fill="#000"/>
<circle cx="530.08" cy="852.96" r="1.55" fill="#000"/>
<circle cx="531.45" cy="842.29" r="1.55" fill="#f21d0e"/>
<circle cx="529.58" cy="823.22" r="1.55" fill="#f21d0e"/>
<circle cx="529.44" cy="829.58" r="1.55" fill="#f21d0e"/>
<circle cx="549.25" cy="828.44" r="1.55" fill="#000"/>
<circle cx="552.52" cy="846.38" r="1.55" fill="#000"/>
<circle cx="552.63" cy="867.94" r="1.55" fill="#f21d0e"/>
<circle cx="547.4" cy="862.95" r="1.55" fill="#f21d0e"/>
<circle cx="552.43" cy="858.63" r="1.55" fill="#f21d0e"/>
<circle cx="551.42" cy="842.29" r="1.55" fill="#000"/>
<circle cx="549.83" cy="865.9" r="1.55" fill="#f21d0e"/>
<circle cx="551.92" cy="852.73" r="1.55" fill="#000"/>
<circle cx="547.74" cy="863.4" r="1.55" fill="#000"/>
<circle cx="547.69" cy="837.98" r="1.55" fill="#000"/>
<circle cx="549.17" cy="860" r="1.55" fill="#000"/>
<circle cx="549.66" cy="850.69" r="1.55" fill="#000"/>
<circle cx="568.02" cy="864.31" r="1.55" fill="#000"/>
<circle cx="567.96" cy="861.13" r="1.55" fill="#000"/>
<circle cx="568.22" cy="857.05" r="1.55" fill="#000"/>
<circle cx="571.64" cy="867.26" r="1.55" fill="#000"/>
<circle cx="570.99" cy="866.35" r="1.55" fill="#000"/>
<circle cx="570.05" cy="872.48" r="1.55" fill="#f21d0e"/>
<circle cx="566.3" cy="868.17" r="1.55" fill="#000"/>
<circle cx="567.77" cy="870.44" r="1.55" fill="#f21d0e"/>
<circle cx="569.46" cy="867.26" r="1.55" fill="#f21d0e"/>
<circle cx="587.58" cy="857.73" r="1.55" fill="#f21d0e"/>
<circle cx="585.32" cy="851.83" r="1.55" fill="#000"/>
<circle cx="587.98" cy="854.78" r="1.55" fill="#000"/>
<circle cx="585.61" cy="861.13" r="1.55" fill="#f21d0e"/>
<circle cx="589.91" cy="867.49" r="1.55" fill="#000"/>
<circle cx="590.27" cy="861.13" r="1.55" fill="#000"/>
<circle cx="588.38" cy="857.95" r="1.55" fill="#000"/>
<circle cx="590.6" cy="865.45" r="1.55" fill="#000"/>
<circle cx="586.48" cy="866.35" r="1.55" fill="#f21d0e"/>
<circle cx="587.87" cy="874.98" r="1.55" fill="#f21d0e"/>
<circle cx="586.25" cy="853.87" r="1.55" fill="#f21d0e"/>
<circle cx="585.49" cy="870.44" r="1.55" fill="#f21d0e"/>
<circle cx="590.15" cy="872.48" r="1.55" fill="#f21d0e"/>
<circle cx="605.04" cy="867.49" r="1.55" fill="#000"/>
<circle cx="607.22" cy="863.17" r="1.55" fill="#000"/>
<circle cx="604.67" cy="847.51" r="1.55" fill="#f21d0e"/>
<circle cx="608.99" cy="833.66" r="1.55" fill="#f21d0e"/>
<circle cx="607.18" cy="865.45" r="1.55" fill="#000"/>
<circle cx="608.42" cy="857.95" r="1.55" fill="#000"/>
<circle cx="605.73" cy="854.78" r="1.55" fill="#000"/>
<circle cx="608.12" cy="836.84" r="1.55" fill="#f21d0e"/>
<circle cx="606.92" cy="815.73" r="1.55" fill="#f21d0e"/>
<circle cx="608.09" cy="829.58" r="1.55" fill="#f21d0e"/>
<circle cx="606.66" cy="849.78" r="1.55" fill="#f21d0e"/>
<circle cx="610.14" cy="861.13" r="1.55" fill="#000"/>
<circle cx="609.28" cy="852.73" r="1.55" fill="#000"/>
<polyline points="507.93,828.48 509.81,827.8 511.69,827.35 513.57,827.11 515.45,827.11 517.33,827.32 519.21,827.76 521.09,828.42 522.97,829.29 524.85,830.36 526.73,831.62 528.61,833.05 530.49,834.65 532.37,836.39 534.25,838.26 536.13,840.23 538.01,842.29 539.89,844.41 541.77,846.57 543.65,848.74 545.53,850.91 547.41,853.05 549.29,855.13 551.17,857.14 553.05,859.05 554.93,860.84 556.81,862.5 558.69,864 560.57,865.33 562.45,866.48 564.33,867.43 566.21,868.17 568.09,868.69 569.97,869 571.85,869.07 573.73,868.93 575.61,868.56 577.49,867.97 579.37,867.17 581.25,866.16 583.13,864.96 585.01,863.58 586.89,862.03 588.77,860.33 590.65,858.5 592.53,856.56 594.41,854.52 596.29,852.42 598.18,850.27 600.06,848.1 601.94,845.93 603.82,843.78 605.7,841.68 607.58,839.64 609.46,837.7 611.34,835.87 613.22,834.17 615.1,832.61 616.98,831.23 618.86,830.02 620.74,829.01" fill="none" stroke="#000" stroke-width="3" stroke-linejoin="round" stroke-linecap="round"/>
<polyline points="507.93,852.89 509.81,852.49 511.69,852.15 513.57,851.86 515.45,851.64 517.33,851.48 519.21,851.39 521.09,851.37 522.97,851.42 524.85,851.53 526.73,851.71 528.61,851.96 530.49,852.26 532.37,852.63 534.25,853.05 536.13,853.52 538.01,854.04 539.89,854.59 541.77,855.18 543.65,855.8 545.53,856.43 547.41,857.08 549.29,857.74 551.17,858.4 553.05,859.05 554.93,859.68 556.81,860.3 558.69,860.89 560.57,861.44 562.45,861.95 564.33,862.42 566.21,862.84 568.09,863.2 569.97,863.51 571.85,863.75 573.73,863.93 575.61,864.04 577.49,864.08 579.37,864.06 581.25,863.96 583.13,863.81 585.01,863.58 586.89,863.29 588.77,862.95 590.65,862.54 592.53,862.09 594.41,861.59 596.29,861.04 598.18,860.46 600.06,859.86 601.94,859.22 603.82,858.58 605.7,857.92 607.58,857.26 609.46,856.61 611.34,855.97 613.22,855.35 615.1,854.75 616.98,854.18 618.86,853.66 620.74,853.17" fill="none" stroke="#f21d0e" stroke-width="3" stroke-linejoin="round" stroke-linecap="round"/>
<path d="M510.2 877.4L514.2 877.4L512.2 874Z" fill="#333"/>
<path d="M524.45 877.4L528.45 877.4L526.45 874Z" fill="#f21d0e"/>
<path d="M538.7 877.4L542.7 877.4L540.7 874Z" fill="#f21d0e"/>
<path d="M543.45 877.4L547.45 877.4L545.45 874Z" fill="#333"/>
<path d="M557.7 877.4L561.7 877.4L559.7 874Z" fill="#f21d0e"/>
<path d="M576.7 877.4L580.7 877.4L578.7 874Z" fill="#333"/>
</g>
<line x1="499.5" x2="502" y1="857.5" y2="857.5" stroke="#444" stroke-width="0.9"/>
<text x="495.6" y="861.9" font-size="10" text-anchor="end" fill="#2b2b2b">10</text>
<line x1="499.5" x2="502" y1="834.8" y2="834.8" stroke="#444" stroke-width="0.9"/>
<text x="495.6" y="839.2" font-size="10" text-anchor="end" fill="#2b2b2b">20</text>
<line x1="499.5" x2="502" y1="812.1" y2="812.1" stroke="#444" stroke-width="0.9"/>
<text x="495.6" y="816.5" font-size="10" text-anchor="end" fill="#2b2b2b">30</text>
<line x1="499.5" x2="502" y1="789.4" y2="789.4" stroke="#444" stroke-width="0.9"/>
<text x="495.6" y="793.8" font-size="10" text-anchor="end" fill="#2b2b2b">40</text>
<rect x="63.4" y="882.3" width="124.7" height="21.3" fill="#d9d9d9"/>
<text x="125.75" y="899.3" font-size="13.6" text-anchor="middle" fill="#1a1a1a">RBM48</text>
<text x="172.7" y="899.1" font-size="10.3" fill="#1a1a1a">+</text>
<rect x="63.4" y="903.6" width="124.7" height="92.3" fill="#ebebeb"/>
<clipPath id="fc4"><rect x="63.4" y="903.6" width="124.7" height="92.3"/></clipPath>
<g clip-path="url(#fc4)">
<line x1="83.1" x2="83.1" y1="903.6" y2="995.9" stroke="#fff" stroke-width="0.55"/>
<line x1="102.1" x2="102.1" y1="903.6" y2="995.9" stroke="#fff" stroke-width="0.55"/>
<line x1="121.1" x2="121.1" y1="903.6" y2="995.9" stroke="#fff" stroke-width="0.55"/>
<line x1="140.1" x2="140.1" y1="903.6" y2="995.9" stroke="#fff" stroke-width="0.55"/>
<line x1="159.1" x2="159.1" y1="903.6" y2="995.9" stroke="#fff" stroke-width="0.55"/>
<line x1="178.1" x2="178.1" y1="903.6" y2="995.9" stroke="#fff" stroke-width="0.55"/>
<line x1="63.4" x2="188.1" y1="987.86" y2="987.86" stroke="#fff" stroke-width="0.55"/>
<line x1="63.4" x2="188.1" y1="968.82" y2="968.82" stroke="#fff" stroke-width="0.55"/>
<line x1="63.4" x2="188.1" y1="949.78" y2="949.78" stroke="#fff" stroke-width="0.55"/>
<line x1="63.4" x2="188.1" y1="930.74" y2="930.74" stroke="#fff" stroke-width="0.55"/>
<line x1="63.4" x2="188.1" y1="911.7" y2="911.7" stroke="#fff" stroke-width="0.55"/>
<line x1="73.6" x2="73.6" y1="903.6" y2="995.9" stroke="#fff" stroke-width="0.95"/>
<line x1="92.6" x2="92.6" y1="903.6" y2="995.9" stroke="#fff" stroke-width="0.95"/>
<line x1="111.6" x2="111.6" y1="903.6" y2="995.9" stroke="#fff" stroke-width="0.95"/>
<line x1="130.6" x2="130.6" y1="903.6" y2="995.9" stroke="#fff" stroke-width="0.95"/>
<line x1="149.6" x2="149.6" y1="903.6" y2="995.9" stroke="#fff" stroke-width="0.95"/>
<line x1="168.6" x2="168.6" y1="903.6" y2="995.9" stroke="#fff" stroke-width="0.95"/>
<line x1="63.4" x2="188.1" y1="978.34" y2="978.34" stroke="#fff" stroke-width="0.95"/>
<line x1="63.4" x2="188.1" y1="959.3" y2="959.3" stroke="#fff" stroke-width="0.95"/>
<line x1="63.4" x2="188.1" y1="940.26" y2="940.26" stroke="#fff" stroke-width="0.95"/>
<line x1="63.4" x2="188.1" y1="921.22" y2="921.22" stroke="#fff" stroke-width="0.95"/>
<circle cx="74.57" cy="959.3" r="1.55" fill="#000"/>
<circle cx="71.42" cy="934.55" r="1.55" fill="#f21d0e"/>
<circle cx="73.81" cy="977.86" r="1.55" fill="#000"/>
<circle cx="73.29" cy="942.16" r="1.55" fill="#f21d0e"/>
<circle cx="73.08" cy="965.96" r="1.55" fill="#000"/>
<circle cx="76.58" cy="948.83" r="1.55" fill="#f21d0e"/>
<circle cx="71.16" cy="963.11" r="1.55" fill="#000"/>
<circle cx="70.72" cy="945.97" r="1.55" fill="#f21d0e"/>
<circle cx="76.24" cy="938.36" r="1.55" fill="#f21d0e"/>
<circle cx="73.02" cy="959.3" r="1.55" fill="#f21d0e"/>
<circle cx="71.79" cy="954.54" r="1.55" fill="#000"/>
<circle cx="72.58" cy="969.77" r="1.55" fill="#000"/>
<circle cx="72.79" cy="950.73" r="1.55" fill="#000"/>
<circle cx="76.33" cy="972.63" r="1.55" fill="#000"/>
<circle cx="71.86" cy="937.4" r="1.55" fill="#000"/>
<circle cx="94.62" cy="963.11" r="1.55" fill="#f21d0e"/>
<circle cx="95.53" cy="959.3" r="1.55" fill="#000"/>
<circle cx="89.78" cy="980.24" r="1.55" fill="#000"/>
<circle cx="94.01" cy="963.11" r="1.55" fill="#000"/>
<circle cx="94.81" cy="949.78" r="1.55" fill="#000"/>
<circle cx="93.51" cy="947.88" r="1.55" fill="#000"/>
<circle cx="90.91" cy="943.12" r="1.55" fill="#f21d0e"/>
<circle cx="94.38" cy="937.4" r="1.55" fill="#f21d0e"/>
<circle cx="93.98" cy="931.69" r="1.55" fill="#000"/>
<circle cx="90.76" cy="934.55" r="1.55" fill="#f21d0e"/>
<circle cx="93.45" cy="939.31" r="1.55" fill="#f21d0e"/>
<circle cx="90.92" cy="969.77" r="1.55" fill="#000"/>
<circle cx="89.85" cy="953.59" r="1.55" fill="#000"/>
<circle cx="109.16" cy="944.07" r="1.55" fill="#f21d0e"/>
<circle cx="109.76" cy="971.68" r="1.55" fill="#f21d0e"/>
<circle cx="114.13" cy="978.34" r="1.55" fill="#f21d0e"/>
<circle cx="112.21" cy="937.4" r="1.55" fill="#000"/>
<circle cx="112.77" cy="939.31" r="1.55" fill="#000"/>
<circle cx="109.17" cy="921.22" r="1.55" fill="#000"/>
<circle cx="111" cy="959.3" r="1.55" fill="#000"/>
<circle cx="114.06" cy="940.26" r="1.55" fill="#000"/>
<circle cx="112.5" cy="974.53" r="1.55" fill="#f21d0e"/>
<circle cx="114.55" cy="954.54" r="1.55" fill="#000"/>
<circle cx="109.78" cy="951.68" r="1.55" fill="#000"/>
<circle cx="111.33" cy="961.2" r="1.55" fill="#000"/>
<circle cx="113.4" cy="989.76" r="1.55" fill="#f21d0e"/>
<circle cx="111.27" cy="944.07" r="1.55" fill="#000"/>
<circle cx="113.33" cy="948.83" r="1.55" fill="#000"/>
<circle cx="130.45" cy="952.64" r="1.55" fill="#000"/>
<circle cx="130.59" cy="907.89" r="1.55" fill="#000"/>
<circle cx="132.33" cy="953.59" r="1.55" fill="#f21d0e"/>
<circle cx="129.27" cy="959.3" r="1.55" fill="#000"/>
<circle cx="129.83" cy="949.78" r="1.55" fill="#000"/>
<circle cx="131.28" cy="972.63" r="1.55" fill="#000"/>
<circle cx="131.42" cy="941.21" r="1.55" fill="#f21d0e"/>
<circle cx="127.83" cy="969.77" r="1.55" fill="#f21d0e"/>
<circle cx="128.27" cy="959.3" r="1.55" fill="#f21d0e"/>
<circle cx="128.43" cy="954.54" r="1.55" fill="#000"/>
<circle cx="131.95" cy="945.02" r="1.55" fill="#000"/>
<circle cx="131.76" cy="950.73" r="1.55" fill="#f21d0e"/>
<circle cx="149.28" cy="960.25" r="1.55" fill="#f21d0e"/>
<circle cx="152.56" cy="965.96" r="1.55" fill="#000"/>
<circle cx="147.39" cy="946.92" r="1.55" fill="#000"/>
<circle cx="150" cy="948.83" r="1.55" fill="#000"/>
<circle cx="150.28" cy="975.48" r="1.55" fill="#000"/>
<circle cx="152.14" cy="966.92" r="1.55" fill="#f21d0e"/>
<circle cx="151.92" cy="943.12" r="1.55" fill="#000"/>
<circle cx="151.33" cy="964.06" r="1.55" fill="#000"/>
<circle cx="152.28" cy="956.44" r="1.55" fill="#f21d0e"/>
<circle cx="151.8" cy="972.63" r="1.55" fill="#000"/>
<circle cx="150.74" cy="959.3" r="1.55" fill="#000"/>
<circle cx="149.93" cy="933.6" r="1.55" fill="#000"/>
<circle cx="149.95" cy="974.53" r="1.55" fill="#f21d0e"/>
<circle cx="149.68" cy="990.72" r="1.55" fill="#f21d0e"/>
<circle cx="167.56" cy="954.54" r="1.55" fill="#000"/>
<circle cx="167.83" cy="954.54" r="1.55" fill="#000"/>
<circle cx="168.74" cy="972.63" r="1.55" fill="#f21d0e"/>
<circle cx="167.68" cy="961.2" r="1.55" fill="#000"/>
<circle cx="166.75" cy="956.44" r="1.55" fill="#f21d0e"/>
<circle cx="167.36" cy="970.72" r="1.55" fill="#000"/>
<circle cx="167.88" cy="972.63" r="1.55" fill="#000"/>
<circle cx="170.24" cy="975.48" r="1.55" fill="#f21d0e"/>
<circle cx="165.85" cy="965.96" r="1.55" fill="#000"/>
<circle cx="169.61" cy="990.72" r="1.55" fill="#000"/>
<circle cx="170" cy="961.2" r="1.55" fill="#f21d0e"/>
<polyline points="69.32,955.02 71.21,954.37 73.09,953.77 74.97,953.25 76.85,952.79 78.73,952.4 80.61,952.1 82.49,951.87 84.37,951.74 86.25,951.68 88.13,951.72 90.01,951.84 91.89,952.05 93.77,952.34 95.65,952.71 97.53,953.15 99.41,953.67 101.29,954.25 103.17,954.89 105.05,955.59 106.93,956.32 108.81,957.1 110.69,957.9 112.57,958.73 114.45,959.56 116.33,960.4 118.21,961.23 120.09,962.05 121.97,962.84 123.85,963.6 125.73,964.32 127.61,964.98 129.49,965.6 131.37,966.15 133.25,966.63 135.13,967.04 137.01,967.37 138.89,967.62 140.77,967.78 142.65,967.86 144.53,967.85 146.41,967.76 148.29,967.58 150.17,967.31 152.05,966.97 153.93,966.55 155.81,966.05 157.69,965.49 159.57,964.87 161.46,964.19 163.34,963.47 165.22,962.7 167.1,961.9 168.98,961.09 170.86,960.25 172.74,959.41 174.62,958.58 176.5,957.76 178.38,956.96 180.26,956.19 182.14,955.46" fill="none" stroke="#000" stroke-width="3" stroke-linejoin="round" stroke-linecap="round"/>
<polyline points="69.32,965.88 71.21,965.39 73.09,964.81 74.97,964.15 76.85,963.42 78.73,962.62 80.61,961.77 82.49,960.88 84.37,959.94 86.25,958.98 88.13,958 90.01,957.01 91.89,956.03 93.77,955.06 95.65,954.12 97.53,953.21 99.41,952.35 101.29,951.54 103.17,950.8 105.05,950.12 106.93,949.53 108.81,949.01 110.69,948.59 112.57,948.27 114.45,948.04 116.33,947.91 118.21,947.88 120.09,947.95 121.97,948.13 123.85,948.4 125.73,948.78 127.61,949.24 129.49,949.79 131.37,950.43 133.25,951.13 135.13,951.91 137.01,952.74 138.89,953.63 140.77,954.55 142.65,955.51 144.53,956.48 146.41,957.47 148.29,958.45 150.17,959.43 152.05,960.38 153.93,961.3 155.81,962.17 157.69,963 159.57,963.77 161.46,964.46 163.34,965.09 165.22,965.62 167.1,966.08 168.98,966.43 170.86,966.69 172.74,966.86 174.62,966.92 176.5,966.87 178.38,966.73 180.26,966.48 182.14,966.14" fill="none" stroke="#f21d0e" stroke-width="3" stroke-linejoin="round" stroke-linecap="round"/>
<path d="M71.6 995.7L75.6 995.7L73.6 992.3Z" fill="#333"/>
<path d="M85.85 995.7L89.85 995.7L87.85 992.3Z" fill="#f21d0e"/>
<path d="M100.1 995.7L104.1 995.7L102.1 992.3Z" fill="#f21d0e"/>
<path d="M104.85 995.7L108.85 995.7L106.85 992.3Z" fill="#333"/>
<path d="M119.1 995.7L123.1 995.7L121.1 992.3Z" fill="#f21d0e"/>
<path d="M138.1 995.7L142.1 995.7L140.1 992.3Z" fill="#333"/>
</g>
<line x1="60.9" x2="63.4" y1="978.34" y2="978.34" stroke="#444" stroke-width="0.9"/>
<text x="57" y="982.74" font-size="10" text-anchor="end" fill="#2b2b2b">6</text>
<line x1="60.9" x2="63.4" y1="959.3" y2="959.3" stroke="#444" stroke-width="0.9"/>
<text x="57" y="963.7" font-size="10" text-anchor="end" fill="#2b2b2b">8</text>
<line x1="60.9" x2="63.4" y1="940.26" y2="940.26" stroke="#444" stroke-width="0.9"/>
<text x="57" y="944.66" font-size="10" text-anchor="end" fill="#2b2b2b">10</text>
<line x1="60.9" x2="63.4" y1="921.22" y2="921.22" stroke="#444" stroke-width="0.9"/>
<text x="57" y="925.62" font-size="10" text-anchor="end" fill="#2b2b2b">12</text>
<line x1="73.6" x2="73.6" y1="995.9" y2="998.4" stroke="#444" stroke-width="0.9"/>
<text transform="translate(69.5,1007.4) rotate(45)" font-size="8.5" fill="#222">07:00</text>
<line x1="92.6" x2="92.6" y1="995.9" y2="998.4" stroke="#444" stroke-width="0.9"/>
<text transform="translate(88.5,1007.4) rotate(45)" font-size="8.5" fill="#222">11:00</text>
<line x1="111.6" x2="111.6" y1="995.9" y2="998.4" stroke="#444" stroke-width="0.9"/>
<text transform="translate(107.5,1007.4) rotate(45)" font-size="8.5" fill="#222">15:00</text>
<line x1="130.6" x2="130.6" y1="995.9" y2="998.4" stroke="#444" stroke-width="0.9"/>
<text transform="translate(126.5,1007.4) rotate(45)" font-size="8.5" fill="#222">19:00</text>
<line x1="149.6" x2="149.6" y1="995.9" y2="998.4" stroke="#444" stroke-width="0.9"/>
<text transform="translate(145.5,1007.4) rotate(45)" font-size="8.5" fill="#222">23:00</text>
<line x1="168.6" x2="168.6" y1="995.9" y2="998.4" stroke="#444" stroke-width="0.9"/>
<text transform="translate(164.5,1007.4) rotate(45)" font-size="8.5" fill="#222">03:00</text>
<rect x="207.6" y="882.3" width="124.7" height="21.3" fill="#d9d9d9"/>
<text x="269.95" y="899.3" font-size="13.6" text-anchor="middle" fill="#1a1a1a">SCARNA9</text>
<text x="316.9" y="899.1" font-size="10.3" fill="#1a1a1a">+</text>
<rect x="207.6" y="903.6" width="124.7" height="92.3" fill="#ebebeb"/>
<clipPath id="fc5"><rect x="207.6" y="903.6" width="124.7" height="92.3"/></clipPath>
<g clip-path="url(#fc5)">
<line x1="227.3" x2="227.3" y1="903.6" y2="995.9" stroke="#fff" stroke-width="0.55"/>
<line x1="246.3" x2="246.3" y1="903.6" y2="995.9" stroke="#fff" stroke-width="0.55"/>
<line x1="265.3" x2="265.3" y1="903.6" y2="995.9" stroke="#fff" stroke-width="0.55"/>
<line x1="284.3" x2="284.3" y1="903.6" y2="995.9" stroke="#fff" stroke-width="0.55"/>
<line x1="303.3" x2="303.3" y1="903.6" y2="995.9" stroke="#fff" stroke-width="0.55"/>
<line x1="322.3" x2="322.3" y1="903.6" y2="995.9" stroke="#fff" stroke-width="0.55"/>
<line x1="207.6" x2="332.3" y1="980.63" y2="980.63" stroke="#fff" stroke-width="0.55"/>
<line x1="207.6" x2="332.3" y1="961.21" y2="961.21" stroke="#fff" stroke-width="0.55"/>
<line x1="207.6" x2="332.3" y1="941.79" y2="941.79" stroke="#fff" stroke-width="0.55"/>
<line x1="207.6" x2="332.3" y1="922.37" y2="922.37" stroke="#fff" stroke-width="0.55"/>
<line x1="217.8" x2="217.8" y1="903.6" y2="995.9" stroke="#fff" stroke-width="0.95"/>
<line x1="236.8" x2="236.8" y1="903.6" y2="995.9" stroke="#fff" stroke-width="0.95"/>
<line x1="255.8" x2="255.8" y1="903.6" y2="995.9" stroke="#fff" stroke-width="0.95"/>
<line x1="274.8" x2="274.8" y1="903.6" y2="995.9" stroke="#fff" stroke-width="0.95"/>
<line x1="293.8" x2="293.8" y1="903.6" y2="995.9" stroke="#fff" stroke-width="0.95"/>
<line x1="312.8" x2="312.8" y1="903.6" y2="995.9" stroke="#fff" stroke-width="0.95"/>
<line x1="207.6" x2="332.3" y1="990.34" y2="990.34" stroke="#fff" stroke-width="0.95"/>
<line x1="207.6" x2="332.3" y1="970.92" y2="970.92" stroke="#fff" stroke-width="0.95"/>
<line x1="207.6" x2="332.3" y1="951.5" y2="951.5" stroke="#fff" stroke-width="0.95"/>
<line x1="207.6" x2="332.3" y1="932.08" y2="932.08" stroke="#fff" stroke-width="0.95"/>
<line x1="207.6" x2="332.3" y1="912.66" y2="912.66" stroke="#fff" stroke-width="0.95"/>
<circle cx="219.06" cy="967.04" r="1.55" fill="#f21d0e"/>
<circle cx="218.53" cy="967.04" r="1.55" fill="#000"/>
<circle cx="216.65" cy="991.31" r="1.55" fill="#000"/>
<circle cx="220.74" cy="959.27" r="1.55" fill="#000"/>
<circle cx="219.38" cy="934.99" r="1.55" fill="#f21d0e"/>
<circle cx="217.2" cy="968.01" r="1.55" fill="#000"/>
<circle cx="220.4" cy="949.56" r="1.55" fill="#000"/>
<circle cx="215.31" cy="928.2" r="1.55" fill="#f21d0e"/>
<circle cx="217.73" cy="974.8" r="1.55" fill="#000"/>
<circle cx="217.42" cy="968.98" r="1.55" fill="#000"/>
<circle cx="216.28" cy="970.92" r="1.55" fill="#f21d0e"/>
<circle cx="217.08" cy="958.3" r="1.55" fill="#000"/>
<circle cx="219.14" cy="942.76" r="1.55" fill="#f21d0e"/>
<circle cx="220.26" cy="951.5" r="1.55" fill="#f21d0e"/>
<circle cx="219.98" cy="969.95" r="1.55" fill="#000"/>
<circle cx="220.76" cy="959.27" r="1.55" fill="#f21d0e"/>
<circle cx="238.43" cy="941.79" r="1.55" fill="#f21d0e"/>
<circle cx="235.56" cy="945.67" r="1.55" fill="#f21d0e"/>
<circle cx="234.9" cy="982.57" r="1.55" fill="#000"/>
<circle cx="236.52" cy="947.62" r="1.55" fill="#000"/>
<circle cx="236.31" cy="957.33" r="1.55" fill="#f21d0e"/>
<circle cx="235.53" cy="967.04" r="1.55" fill="#000"/>
<circle cx="235.38" cy="952.47" r="1.55" fill="#f21d0e"/>
<circle cx="236.4" cy="959.27" r="1.55" fill="#000"/>
<circle cx="237.94" cy="926.25" r="1.55" fill="#000"/>
<circle cx="234.78" cy="934.02" r="1.55" fill="#f21d0e"/>
<circle cx="236.04" cy="934.02" r="1.55" fill="#000"/>
<circle cx="235.24" cy="907.8" r="1.55" fill="#000"/>
<circle cx="238.17" cy="939.85" r="1.55" fill="#f21d0e"/>
<circle cx="254.13" cy="942.76" r="1.55" fill="#000"/>
<circle cx="253.67" cy="968.98" r="1.55" fill="#f21d0e"/>
<circle cx="255.45" cy="936.93" r="1.55" fill="#f21d0e"/>
<circle cx="256.75" cy="955.38" r="1.55" fill="#f21d0e"/>
<circle cx="253.77" cy="965.09" r="1.55" fill="#000"/>
<circle cx="256.31" cy="963.15" r="1.55" fill="#f21d0e"/>
<circle cx="256.06" cy="947.62" r="1.55" fill="#f21d0e"/>
<circle cx="257.59" cy="957.33" r="1.55" fill="#000"/>
<circle cx="253.67" cy="989.37" r="1.55" fill="#f21d0e"/>
<circle cx="253.64" cy="961.21" r="1.55" fill="#000"/>
<circle cx="255.91" cy="945.67" r="1.55" fill="#000"/>
<circle cx="257.31" cy="926.25" r="1.55" fill="#000"/>
<circle cx="256.32" cy="961.21" r="1.55" fill="#f21d0e"/>
<circle cx="257.26" cy="952.47" r="1.55" fill="#000"/>
<circle cx="254.38" cy="948.59" r="1.55" fill="#000"/>
<circle cx="274.31" cy="950.53" r="1.55" fill="#000"/>
<circle cx="271.92" cy="960.24" r="1.55" fill="#f21d0e"/>
<circle cx="273.6" cy="966.07" r="1.55" fill="#000"/>
<circle cx="273.24" cy="942.76" r="1.55" fill="#000"/>
<circle cx="272.05" cy="955.38" r="1.55" fill="#f21d0e"/>
<circle cx="274.95" cy="968.01" r="1.55" fill="#f21d0e"/>
<circle cx="277.45" cy="971.89" r="1.55" fill="#f21d0e"/>
<circle cx="272.27" cy="934.99" r="1.55" fill="#f21d0e"/>
<circle cx="275.96" cy="933.05" r="1.55" fill="#000"/>
<circle cx="275.48" cy="974.8" r="1.55" fill="#f21d0e"/>
<circle cx="273.51" cy="956.36" r="1.55" fill="#000"/>
<circle cx="275.66" cy="960.24" r="1.55" fill="#000"/>
<circle cx="276.44" cy="927.23" r="1.55" fill="#000"/>
<circle cx="294.53" cy="947.62" r="1.55" fill="#f21d0e"/>
<circle cx="296.36" cy="975.77" r="1.55" fill="#f21d0e"/>
<circle cx="290.93" cy="950.53" r="1.55" fill="#f21d0e"/>
<circle cx="294.27" cy="919.46" r="1.55" fill="#000"/>
<circle cx="296.27" cy="983.54" r="1.55" fill="#f21d0e"/>
<circle cx="292.07" cy="952.47" r="1.55" fill="#000"/>
<circle cx="292.66" cy="932.08" r="1.55" fill="#000"/>
<circle cx="296.56" cy="947.62" r="1.55" fill="#000"/>
<circle cx="296.48" cy="972.86" r="1.55" fill="#000"/>
<circle cx="291.51" cy="961.21" r="1.55" fill="#f21d0e"/>
<circle cx="291.08" cy="981.6" r="1.55" fill="#000"/>
<circle cx="293.55" cy="959.27" r="1.55" fill="#f21d0e"/>
<circle cx="296.45" cy="977.72" r="1.55" fill="#000"/>
<circle cx="293.21" cy="955.38" r="1.55" fill="#000"/>
<circle cx="313.81" cy="940.82" r="1.55" fill="#f21d0e"/>
<circle cx="310.07" cy="968.98" r="1.55" fill="#000"/>
<circle cx="315.33" cy="934.99" r="1.55" fill="#f21d0e"/>
<circle cx="312.84" cy="950.53" r="1.55" fill="#000"/>
<circle cx="311.77" cy="932.08" r="1.55" fill="#f21d0e"/>
<circle cx="312.03" cy="948.59" r="1.55" fill="#000"/>
<circle cx="311.47" cy="942.76" r="1.55" fill="#000"/>
<circle cx="314.38" cy="961.21" r="1.55" fill="#000"/>
<circle cx="312.42" cy="965.09" r="1.55" fill="#000"/>
<circle cx="312.3" cy="957.33" r="1.55" fill="#f21d0e"/>
<circle cx="312.46" cy="961.21" r="1.55" fill="#f21d0e"/>
<circle cx="313.92" cy="977.72" r="1.55" fill="#f21d0e"/>
<circle cx="313.31" cy="953.44" r="1.55" fill="#000"/>
<circle cx="311.21" cy="952.47" r="1.55" fill="#f21d0e"/>
<polyline points="213.52,948.54 215.41,948.16 217.29,947.86 219.17,947.64 221.05,947.49 222.93,947.43 224.81,947.44 226.69,947.54 228.57,947.72 230.45,947.97 232.33,948.3 234.21,948.7 236.09,949.17 237.97,949.7 239.85,950.29 241.73,950.93 243.61,951.62 245.49,952.34 247.37,953.08 249.25,953.85 251.13,954.63 253.01,955.42 254.89,956.2 256.77,956.96 258.65,957.71 260.53,958.43 262.41,959.11 264.29,959.74 266.17,960.33 268.05,960.86 269.93,961.32 271.81,961.72 273.69,962.04 275.57,962.29 277.45,962.46 279.33,962.55 281.21,962.56 283.09,962.49 284.97,962.34 286.85,962.11 288.73,961.8 290.61,961.42 292.49,960.97 294.37,960.46 296.25,959.89 298.13,959.26 300.01,958.59 301.89,957.89 303.77,957.15 305.66,956.38 307.54,955.61 309.42,954.82 311.3,954.04 313.18,953.27 315.06,952.51 316.94,951.79 318.82,951.09 320.7,950.44 322.58,949.84 324.46,949.3 326.34,948.81" fill="none" stroke="#000" stroke-width="1.05" stroke-linejoin="round" stroke-linecap="round"/>
<polyline points="213.52,960.99 215.41,960.67 217.29,960.27 219.17,959.82 221.05,959.31 222.93,958.75 224.81,958.14 226.69,957.5 228.57,956.83 230.45,956.13 232.33,955.41 234.21,954.69 236.09,953.97 237.97,953.25 239.85,952.55 241.73,951.87 243.61,951.22 245.49,950.6 247.37,950.03 249.25,949.51 251.13,949.04 253.01,948.63 254.89,948.29 256.77,948.01 258.65,947.81 260.53,947.68 262.41,947.62 264.29,947.64 266.17,947.73 268.05,947.89 269.93,948.13 271.81,948.44 273.69,948.81 275.57,949.25 277.45,949.74 279.33,950.28 281.21,950.88 283.09,951.51 284.97,952.17 286.85,952.86 288.73,953.57 290.61,954.29 292.49,955.02 294.37,955.74 296.25,956.45 298.13,957.13 300.01,957.79 301.89,958.42 303.77,959.01 305.66,959.55 307.54,960.03 309.42,960.46 311.3,960.82 313.18,961.12 315.06,961.35 316.94,961.5 318.82,961.59 320.7,961.59 322.58,961.52 324.46,961.38 326.34,961.17" fill="none" stroke="#f21d0e" stroke-width="1.05" stroke-linejoin="round" stroke-linecap="round"/>
<path d="M215.8 995.7L219.8 995.7L217.8 992.3Z" fill="#333"/>
<path d="M230.05 995.7L234.05 995.7L232.05 992.3Z" fill="#f21d0e"/>
<path d="M244.3 995.7L248.3 995.7L246.3 992.3Z" fill="#f21d0e"/>
<path d="M249.05 995.7L253.05 995.7L251.05 992.3Z" fill="#333"/>
<path d="M263.3 995.7L267.3 995.7L265.3 992.3Z" fill="#f21d0e"/>
<path d="M282.3 995.7L286.3 995.7L284.3 992.3Z" fill="#333"/>
</g>
<line x1="205.1" x2="207.6" y1="990.34" y2="990.34" stroke="#444" stroke-width="0.9"/>
<text x="201.2" y="994.74" font-size="10" text-anchor="end" fill="#2b2b2b">1</text>
<line x1="205.1" x2="207.6" y1="970.92" y2="970.92" stroke="#444" stroke-width="0.9"/>
<text x="201.2" y="975.32" font-size="10" text-anchor="end" fill="#2b2b2b">2</text>
<line x1="205.1" x2="207.6" y1="951.5" y2="951.5" stroke="#444" stroke-width="0.9"/>
<text x="201.2" y="955.9" font-size="10" text-anchor="end" fill="#2b2b2b">3</text>
<line x1="205.1" x2="207.6" y1="932.08" y2="932.08" stroke="#444" stroke-width="0.9"/>
<text x="201.2" y="936.48" font-size="10" text-anchor="end" fill="#2b2b2b">4</text>
<line x1="205.1" x2="207.6" y1="912.66" y2="912.66" stroke="#444" stroke-width="0.9"/>
<text x="201.2" y="917.06" font-size="10" text-anchor="end" fill="#2b2b2b">5</text>
<line x1="217.8" x2="217.8" y1="995.9" y2="998.4" stroke="#444" stroke-width="0.9"/>
<text transform="translate(213.7,1007.4) rotate(45)" font-size="8.5" fill="#222">07:00</text>
<line x1="236.8" x2="236.8" y1="995.9" y2="998.4" stroke="#444" stroke-width="0.9"/>
<text transform="translate(232.7,1007.4) rotate(45)" font-size="8.5" fill="#222">11:00</text>
<line x1="255.8" x2="255.8" y1="995.9" y2="998.4" stroke="#444" stroke-width="0.9"/>
<text transform="translate(251.7,1007.4) rotate(45)" font-size="8.5" fill="#222">15:00</text>
<line x1="274.8" x2="274.8" y1="995.9" y2="998.4" stroke="#444" stroke-width="0.9"/>
<text transform="translate(270.7,1007.4) rotate(45)" font-size="8.5" fill="#222">19:00</text>
<line x1="293.8" x2="293.8" y1="995.9" y2="998.4" stroke="#444" stroke-width="0.9"/>
<text transform="translate(289.7,1007.4) rotate(45)" font-size="8.5" fill="#222">23:00</text>
<line x1="312.8" x2="312.8" y1="995.9" y2="998.4" stroke="#444" stroke-width="0.9"/>
<text transform="translate(308.7,1007.4) rotate(45)" font-size="8.5" fill="#222">03:00</text>
<rect x="357.6" y="882.3" width="124.7" height="21.3" fill="#d9d9d9"/>
<text x="419.95" y="899.3" font-size="13.6" text-anchor="middle" fill="#1a1a1a">TEX2</text>
<text x="466.9" y="899.1" font-size="10.3" fill="#1a1a1a"><tspan font-style="italic">#</tspan></text>
<rect x="357.6" y="903.6" width="124.7" height="92.3" fill="#ebebeb"/>
<clipPath id="fc6"><rect x="357.6" y="903.6" width="124.7" height="92.3"/></clipPath>
<g clip-path="url(#fc6)">
<line x1="377.3" x2="377.3" y1="903.6" y2="995.9" stroke="#fff" stroke-width="0.55"/>
<line x1="396.3" x2="396.3" y1="903.6" y2="995.9" stroke="#fff" stroke-width="0.55"/>
<line x1="415.3" x2="415.3" y1="903.6" y2="995.9" stroke="#fff" stroke-width="0.55"/>
<line x1="434.3" x2="434.3" y1="903.6" y2="995.9" stroke="#fff" stroke-width="0.55"/>
<line x1="453.3" x2="453.3" y1="903.6" y2="995.9" stroke="#fff" stroke-width="0.55"/>
<line x1="472.3" x2="472.3" y1="903.6" y2="995.9" stroke="#fff" stroke-width="0.55"/>
<line x1="357.6" x2="482.3" y1="976.42" y2="976.42" stroke="#fff" stroke-width="0.55"/>
<line x1="357.6" x2="482.3" y1="953.34" y2="953.34" stroke="#fff" stroke-width="0.55"/>
<line x1="357.6" x2="482.3" y1="930.26" y2="930.26" stroke="#fff" stroke-width="0.55"/>
<line x1="357.6" x2="482.3" y1="907.18" y2="907.18" stroke="#fff" stroke-width="0.55"/>
<line x1="367.8" x2="367.8" y1="903.6" y2="995.9" stroke="#fff" stroke-width="0.95"/>
<line x1="386.8" x2="386.8" y1="903.6" y2="995.9" stroke="#fff" stroke-width="0.95"/>
<line x1="405.8" x2="405.8" y1="903.6" y2="995.9" stroke="#fff" stroke-width="0.95"/>
<line x1="424.8" x2="424.8" y1="903.6" y2="995.9" stroke="#fff" stroke-width="0.95"/>
<line x1="443.8" x2="443.8" y1="903.6" y2="995.9" stroke="#fff" stroke-width="0.95"/>
<line x1="462.8" x2="462.8" y1="903.6" y2="995.9" stroke="#fff" stroke-width="0.95"/>
<line x1="357.6" x2="482.3" y1="987.96" y2="987.96" stroke="#fff" stroke-width="0.95"/>
<line x1="357.6" x2="482.3" y1="964.88" y2="964.88" stroke="#fff" stroke-width="0.95"/>
<line x1="357.6" x2="482.3" y1="941.8" y2="941.8" stroke="#fff" stroke-width="0.95"/>
<line x1="357.6" x2="482.3" y1="918.72" y2="918.72" stroke="#fff" stroke-width="0.95"/>
<circle cx="369.65" cy="949.88" r="1.55" fill="#000"/>
<circle cx="370.54" cy="977.57" r="1.55" fill="#f21d0e"/>
<circle cx="369.93" cy="974.11" r="1.55" fill="#f21d0e"/>
<circle cx="368.7" cy="983.34" r="1.55" fill="#f21d0e"/>
<circle cx="370.19" cy="953.34" r="1.55" fill="#000"/>
<circle cx="365.2" cy="986.81" r="1.55" fill="#f21d0e"/>
<circle cx="366.43" cy="944.11" r="1.55" fill="#000"/>
<circle cx="370.18" cy="960.26" r="1.55" fill="#000"/>
<circle cx="365.72" cy="979.88" r="1.55" fill="#f21d0e"/>
<circle cx="370.76" cy="947.57" r="1.55" fill="#000"/>
<circle cx="369.36" cy="989.11" r="1.55" fill="#f21d0e"/>
<circle cx="367.37" cy="970.65" r="1.55" fill="#f21d0e"/>
<circle cx="368.48" cy="964.88" r="1.55" fill="#f21d0e"/>
<circle cx="365.66" cy="956.8" r="1.55" fill="#000"/>
<circle cx="388" cy="969.5" r="1.55" fill="#f21d0e"/>
<circle cx="389.41" cy="975.27" r="1.55" fill="#000"/>
<circle cx="386.98" cy="947.57" r="1.55" fill="#f21d0e"/>
<circle cx="387.02" cy="979.88" r="1.55" fill="#f21d0e"/>
<circle cx="387.59" cy="953.34" r="1.55" fill="#f21d0e"/>
<circle cx="387.53" cy="983.34" r="1.55" fill="#f21d0e"/>
<circle cx="388.01" cy="955.65" r="1.55" fill="#000"/>
<circle cx="385.33" cy="948.72" r="1.55" fill="#000"/>
<circle cx="387.78" cy="966.03" r="1.55" fill="#f21d0e"/>
<circle cx="386.76" cy="975.27" r="1.55" fill="#f21d0e"/>
<circle cx="386.04" cy="962.57" r="1.55" fill="#000"/>
<circle cx="385.06" cy="969.5" r="1.55" fill="#000"/>
<circle cx="384.74" cy="953.34" r="1.55" fill="#000"/>
<circle cx="388.53" cy="987.96" r="1.55" fill="#f21d0e"/>
<circle cx="385.3" cy="941.8" r="1.55" fill="#000"/>
<circle cx="406.13" cy="931.41" r="1.55" fill="#000"/>
<circle cx="406.16" cy="949.88" r="1.55" fill="#f21d0e"/>
<circle cx="403.17" cy="944.11" r="1.55" fill="#000"/>
<circle cx="405.89" cy="933.72" r="1.55" fill="#000"/>
<circle cx="408.22" cy="969.5" r="1.55" fill="#000"/>
<circle cx="406.55" cy="967.19" r="1.55" fill="#f21d0e"/>
<circle cx="406.06" cy="946.42" r="1.55" fill="#f21d0e"/>
<circle cx="406.58" cy="946.42" r="1.55" fill="#000"/>
<circle cx="407.43" cy="952.19" r="1.55" fill="#000"/>
<circle cx="404.71" cy="931.41" r="1.55" fill="#f21d0e"/>
<circle cx="403.81" cy="960.26" r="1.55" fill="#f21d0e"/>
<circle cx="402.86" cy="979.88" r="1.55" fill="#f21d0e"/>
<circle cx="423.42" cy="991.42" r="1.55" fill="#000"/>
<circle cx="423.25" cy="931.41" r="1.55" fill="#f21d0e"/>
<circle cx="425.57" cy="924.49" r="1.55" fill="#f21d0e"/>
<circle cx="427.52" cy="949.88" r="1.55" fill="#f21d0e"/>
<circle cx="423.15" cy="953.34" r="1.55" fill="#000"/>
<circle cx="421.97" cy="941.8" r="1.55" fill="#000"/>
<circle cx="427.75" cy="960.26" r="1.55" fill="#f21d0e"/>
<circle cx="425.39" cy="967.19" r="1.55" fill="#000"/>
<circle cx="423.38" cy="952.19" r="1.55" fill="#f21d0e"/>
<circle cx="424.68" cy="930.26" r="1.55" fill="#000"/>
<circle cx="422.85" cy="974.11" r="1.55" fill="#000"/>
<circle cx="423.09" cy="916.41" r="1.55" fill="#000"/>
<circle cx="422.18" cy="957.96" r="1.55" fill="#000"/>
<circle cx="441.78" cy="917.57" r="1.55" fill="#000"/>
<circle cx="443.95" cy="945.26" r="1.55" fill="#000"/>
<circle cx="440.98" cy="911.8" r="1.55" fill="#f21d0e"/>
<circle cx="442.73" cy="951.03" r="1.55" fill="#000"/>
<circle cx="444.65" cy="917.57" r="1.55" fill="#f21d0e"/>
<circle cx="446.63" cy="942.95" r="1.55" fill="#000"/>
<circle cx="443.29" cy="933.72" r="1.55" fill="#f21d0e"/>
<circle cx="442.73" cy="960.26" r="1.55" fill="#000"/>
<circle cx="443.43" cy="937.18" r="1.55" fill="#f21d0e"/>
<circle cx="444.25" cy="929.11" r="1.55" fill="#f21d0e"/>
<circle cx="445.68" cy="914.1" r="1.55" fill="#f21d0e"/>
<circle cx="446.44" cy="954.49" r="1.55" fill="#000"/>
<circle cx="446.33" cy="939.49" r="1.55" fill="#f21d0e"/>
<circle cx="444.03" cy="923.34" r="1.55" fill="#f21d0e"/>
<circle cx="440.81" cy="929.11" r="1.55" fill="#000"/>
<circle cx="443.28" cy="939.49" r="1.55" fill="#000"/>
<circle cx="463.53" cy="959.11" r="1.55" fill="#000"/>
<circle cx="462.02" cy="932.57" r="1.55" fill="#000"/>
<circle cx="463.72" cy="947.57" r="1.55" fill="#f21d0e"/>
<circle cx="464.68" cy="922.18" r="1.55" fill="#f21d0e"/>
<circle cx="465.45" cy="953.34" r="1.55" fill="#000"/>
<circle cx="464.62" cy="924.49" r="1.55" fill="#000"/>
<circle cx="464.83" cy="947.57" r="1.55" fill="#000"/>
<circle cx="462.09" cy="942.95" r="1.55" fill="#000"/>
<circle cx="460.12" cy="964.88" r="1.55" fill="#f21d0e"/>
<circle cx="464.42" cy="930.26" r="1.55" fill="#f21d0e"/>
<circle cx="465.77" cy="953.34" r="1.55" fill="#f21d0e"/>
<circle cx="462.58" cy="907.76" r="1.55" fill="#f21d0e"/>
<circle cx="465.2" cy="933.72" r="1.55" fill="#f21d0e"/>
<circle cx="463.19" cy="916.87" r="1.55" fill="#000"/>
<polyline points="363.53,963.12 365.41,965.25 367.29,967.23 369.17,969.05 371.05,970.68 372.93,972.1 374.81,973.31 376.69,974.28 378.57,975.01 380.45,975.49 382.33,975.71 384.21,975.67 386.09,975.38 387.97,974.83 389.85,974.03 391.73,972.99 393.61,971.72 395.49,970.24 397.37,968.55 399.25,966.68 401.13,964.66 403.01,962.49 404.89,960.2 406.77,957.83 408.65,955.38 410.53,952.9 412.41,950.4 414.29,947.91 416.17,945.47 418.05,943.09 419.93,940.8 421.81,938.63 423.69,936.59 425.57,934.72 427.45,933.03 429.33,931.54 431.21,930.26 433.09,929.22 434.97,928.41 436.85,927.85 438.73,927.55 440.61,927.5 442.49,927.72 444.37,928.19 446.25,928.91 448.13,929.87 450.01,931.07 451.89,932.49 453.78,934.11 455.66,935.93 457.54,937.9 459.42,940.03 461.3,942.28 463.18,944.63 465.06,947.06 466.94,949.53 468.82,952.03 470.7,954.52 472.58,956.98 474.46,959.39 476.34,961.71" fill="none" stroke="#000" stroke-width="3" stroke-linejoin="round" stroke-linecap="round"/>
<polyline points="363.53,949.52 365.41,950.38 367.29,951.22 369.17,952.05 371.05,952.85 372.93,953.6 374.81,954.32 376.69,954.97 378.57,955.57 380.45,956.1 382.33,956.56 384.21,956.94 386.09,957.24 387.97,957.45 389.85,957.57 391.73,957.61 393.61,957.56 395.49,957.41 397.37,957.19 399.25,956.87 401.13,956.48 403.01,956.01 404.89,955.46 406.77,954.85 408.65,954.18 410.53,953.46 412.41,952.7 414.29,951.89 416.17,951.06 418.05,950.21 419.93,949.36 421.81,948.5 423.69,947.64 425.57,946.81 427.45,946 429.33,945.23 431.21,944.51 433.09,943.83 434.97,943.21 436.85,942.66 438.73,942.18 440.61,941.77 442.49,941.45 444.37,941.21 446.25,941.06 448.13,940.99 450.01,941.02 451.89,941.13 453.78,941.33 455.66,941.62 457.54,941.99 459.42,942.44 461.3,942.96 463.18,943.55 465.06,944.2 466.94,944.91 468.82,945.66 470.7,946.45 472.58,947.27 474.46,948.12 476.34,948.97" fill="none" stroke="#f21d0e" stroke-width="1.1" stroke-linejoin="round" stroke-linecap="round"/>
<path d="M365.8 995.7L369.8 995.7L367.8 992.3Z" fill="#333"/>
<path d="M380.05 995.7L384.05 995.7L382.05 992.3Z" fill="#f21d0e"/>
<path d="M394.3 995.7L398.3 995.7L396.3 992.3Z" fill="#f21d0e"/>
<path d="M399.05 995.7L403.05 995.7L401.05 992.3Z" fill="#333"/>
<path d="M413.3 995.7L417.3 995.7L415.3 992.3Z" fill="#f21d0e"/>
<path d="M432.3 995.7L436.3 995.7L434.3 992.3Z" fill="#333"/>
</g>
<line x1="355.1" x2="357.6" y1="987.96" y2="987.96" stroke="#444" stroke-width="0.9"/>
<text x="351.2" y="992.36" font-size="10" text-anchor="end" fill="#2b2b2b">60</text>
<line x1="355.1" x2="357.6" y1="964.88" y2="964.88" stroke="#444" stroke-width="0.9"/>
<text x="351.2" y="969.28" font-size="10" text-anchor="end" fill="#2b2b2b">80</text>
<line x1="355.1" x2="357.6" y1="941.8" y2="941.8" stroke="#444" stroke-width="0.9"/>
<text x="351.2" y="946.2" font-size="10" text-anchor="end" fill="#2b2b2b">100</text>
<line x1="355.1" x2="357.6" y1="918.72" y2="918.72" stroke="#444" stroke-width="0.9"/>
<text x="351.2" y="923.12" font-size="10" text-anchor="end" fill="#2b2b2b">120</text>
<line x1="367.8" x2="367.8" y1="995.9" y2="998.4" stroke="#444" stroke-width="0.9"/>
<text transform="translate(363.7,1007.4) rotate(45)" font-size="8.5" fill="#222">07:00</text>
<line x1="386.8" x2="386.8" y1="995.9" y2="998.4" stroke="#444" stroke-width="0.9"/>
<text transform="translate(382.7,1007.4) rotate(45)" font-size="8.5" fill="#222">11:00</text>
<line x1="405.8" x2="405.8" y1="995.9" y2="998.4" stroke="#444" stroke-width="0.9"/>
<text transform="translate(401.7,1007.4) rotate(45)" font-size="8.5" fill="#222">15:00</text>
<line x1="424.8" x2="424.8" y1="995.9" y2="998.4" stroke="#444" stroke-width="0.9"/>
<text transform="translate(420.7,1007.4) rotate(45)" font-size="8.5" fill="#222">19:00</text>
<line x1="443.8" x2="443.8" y1="995.9" y2="998.4" stroke="#444" stroke-width="0.9"/>
<text transform="translate(439.7,1007.4) rotate(45)" font-size="8.5" fill="#222">23:00</text>
<line x1="462.8" x2="462.8" y1="995.9" y2="998.4" stroke="#444" stroke-width="0.9"/>
<text transform="translate(458.7,1007.4) rotate(45)" font-size="8.5" fill="#222">03:00</text>
<rect x="502" y="882.3" width="124.7" height="21.3" fill="#d9d9d9"/>
<text x="564.35" y="899.3" font-size="13.6" text-anchor="middle" fill="#1a1a1a">ZBTB7B</text>
<text x="611.3" y="899.1" font-size="10.3" fill="#1a1a1a">+</text>
<rect x="502" y="903.6" width="124.7" height="92.3" fill="#ebebeb"/>
<clipPath id="fc7"><rect x="502" y="903.6" width="124.7" height="92.3"/></clipPath>
<g clip-path="url(#fc7)">
<line x1="521.7" x2="521.7" y1="903.6" y2="995.9" stroke="#fff" stroke-width="0.55"/>
<line x1="540.7" x2="540.7" y1="903.6" y2="995.9" stroke="#fff" stroke-width="0.55"/>
<line x1="559.7" x2="559.7" y1="903.6" y2="995.9" stroke="#fff" stroke-width="0.55"/>
<line x1="578.7" x2="578.7" y1="903.6" y2="995.9" stroke="#fff" stroke-width="0.55"/>
<line x1="597.7" x2="597.7" y1="903.6" y2="995.9" stroke="#fff" stroke-width="0.55"/>
<line x1="616.7" x2="616.7" y1="903.6" y2="995.9" stroke="#fff" stroke-width="0.55"/>
<line x1="502" x2="626.7" y1="975.7" y2="975.7" stroke="#fff" stroke-width="0.55"/>
<line x1="502" x2="626.7" y1="946.3" y2="946.3" stroke="#fff" stroke-width="0.55"/>
<line x1="502" x2="626.7" y1="916.9" y2="916.9" stroke="#fff" stroke-width="0.55"/>
<line x1="512.2" x2="512.2" y1="903.6" y2="995.9" stroke="#fff" stroke-width="0.95"/>
<line x1="531.2" x2="531.2" y1="903.6" y2="995.9" stroke="#fff" stroke-width="0.95"/>
<line x1="550.2" x2="550.2" y1="903.6" y2="995.9" stroke="#fff" stroke-width="0.95"/>
<line x1="569.2" x2="569.2" y1="903.6" y2="995.9" stroke="#fff" stroke-width="0.95"/>
<line x1="588.2" x2="588.2" y1="903.6" y2="995.9" stroke="#fff" stroke-width="0.95"/>
<line x1="607.2" x2="607.2" y1="903.6" y2="995.9" stroke="#fff" stroke-width="0.95"/>
<line x1="502" x2="626.7" y1="990.4" y2="990.4" stroke="#fff" stroke-width="0.95"/>
<line x1="502" x2="626.7" y1="961" y2="961" stroke="#fff" stroke-width="0.95"/>
<line x1="502" x2="626.7" y1="931.6" y2="931.6" stroke="#fff" stroke-width="0.95"/>
<circle cx="514.99" cy="971.88" r="1.55" fill="#000"/>
<circle cx="511.84" cy="983.64" r="1.55" fill="#f21d0e"/>
<circle cx="509.21" cy="968.64" r="1.55" fill="#f21d0e"/>
<circle cx="512.46" cy="991.28" r="1.55" fill="#f21d0e"/>
<circle cx="511.83" cy="969.82" r="1.55" fill="#000"/>
<circle cx="510.62" cy="989.52" r="1.55" fill="#f21d0e"/>
<circle cx="510.15" cy="973.94" r="1.55" fill="#000"/>
<circle cx="512.09" cy="980.7" r="1.55" fill="#000"/>
<circle cx="512.95" cy="973.94" r="1.55" fill="#f21d0e"/>
<circle cx="512.13" cy="978.35" r="1.55" fill="#f21d0e"/>
<circle cx="512.19" cy="967.17" r="1.55" fill="#000"/>
<circle cx="509.94" cy="975.99" r="1.55" fill="#000"/>
<circle cx="531.32" cy="979.23" r="1.55" fill="#000"/>
<circle cx="531.38" cy="965.7" r="1.55" fill="#000"/>
<circle cx="529.28" cy="983.34" r="1.55" fill="#f21d0e"/>
<circle cx="528.76" cy="962.18" r="1.55" fill="#f21d0e"/>
<circle cx="529.31" cy="968.06" r="1.55" fill="#000"/>
<circle cx="532.38" cy="963.94" r="1.55" fill="#000"/>
<circle cx="533.07" cy="971.29" r="1.55" fill="#000"/>
<circle cx="532.14" cy="972.47" r="1.55" fill="#f21d0e"/>
<circle cx="530.76" cy="961.29" r="1.55" fill="#000"/>
<circle cx="528.37" cy="975.7" r="1.55" fill="#000"/>
<circle cx="528.23" cy="967.76" r="1.55" fill="#f21d0e"/>
<circle cx="532.13" cy="948.36" r="1.55" fill="#000"/>
<circle cx="550.53" cy="958.65" r="1.55" fill="#f21d0e"/>
<circle cx="549.78" cy="974.23" r="1.55" fill="#000"/>
<circle cx="550.49" cy="960.71" r="1.55" fill="#000"/>
<circle cx="551.67" cy="969.82" r="1.55" fill="#000"/>
<circle cx="551.88" cy="966.29" r="1.55" fill="#000"/>
<circle cx="548.1" cy="986.87" r="1.55" fill="#f21d0e"/>
<circle cx="552.96" cy="947.48" r="1.55" fill="#000"/>
<circle cx="552.32" cy="940.42" r="1.55" fill="#f21d0e"/>
<circle cx="552.12" cy="951.89" r="1.55" fill="#000"/>
<circle cx="549.92" cy="949.53" r="1.55" fill="#f21d0e"/>
<circle cx="552.91" cy="956.3" r="1.55" fill="#000"/>
<circle cx="552.07" cy="984.52" r="1.55" fill="#f21d0e"/>
<circle cx="548.63" cy="990.4" r="1.55" fill="#000"/>
<circle cx="551.32" cy="936.6" r="1.55" fill="#f21d0e"/>
<circle cx="566.62" cy="934.83" r="1.55" fill="#f21d0e"/>
<circle cx="566.46" cy="907.79" r="1.55" fill="#f21d0e"/>
<circle cx="569.3" cy="967.76" r="1.55" fill="#f21d0e"/>
<circle cx="567.14" cy="962.18" r="1.55" fill="#f21d0e"/>
<circle cx="570.63" cy="957.47" r="1.55" fill="#000"/>
<circle cx="569.86" cy="959.82" r="1.55" fill="#000"/>
<circle cx="569.2" cy="916.9" r="1.55" fill="#000"/>
<circle cx="570.23" cy="942.77" r="1.55" fill="#000"/>
<circle cx="567.1" cy="938.36" r="1.55" fill="#000"/>
<circle cx="568.95" cy="951.89" r="1.55" fill="#000"/>
<circle cx="566.48" cy="926.6" r="1.55" fill="#f21d0e"/>
<circle cx="569.48" cy="983.64" r="1.55" fill="#000"/>
<circle cx="570.96" cy="947.48" r="1.55" fill="#f21d0e"/>
<circle cx="589.74" cy="967.47" r="1.55" fill="#000"/>
<circle cx="590.52" cy="916.9" r="1.55" fill="#f21d0e"/>
<circle cx="590.29" cy="955.12" r="1.55" fill="#000"/>
<circle cx="586.35" cy="932.78" r="1.55" fill="#000"/>
<circle cx="588.49" cy="969.82" r="1.55" fill="#000"/>
<circle cx="587.1" cy="947.48" r="1.55" fill="#f21d0e"/>
<circle cx="590.45" cy="954.24" r="1.55" fill="#f21d0e"/>
<circle cx="586.97" cy="921.6" r="1.55" fill="#f21d0e"/>
<circle cx="586.21" cy="926.01" r="1.55" fill="#f21d0e"/>
<circle cx="587.64" cy="958.65" r="1.55" fill="#000"/>
<circle cx="585.72" cy="949.53" r="1.55" fill="#000"/>
<circle cx="586.54" cy="936.01" r="1.55" fill="#f21d0e"/>
<circle cx="589.42" cy="931.6" r="1.55" fill="#f21d0e"/>
<circle cx="587.16" cy="936.01" r="1.55" fill="#000"/>
<circle cx="586.31" cy="942.77" r="1.55" fill="#000"/>
<circle cx="607.24" cy="940.71" r="1.55" fill="#000"/>
<circle cx="609.74" cy="945.12" r="1.55" fill="#f21d0e"/>
<circle cx="604.9" cy="955.12" r="1.55" fill="#f21d0e"/>
<circle cx="606.91" cy="951.89" r="1.55" fill="#000"/>
<circle cx="610" cy="957.47" r="1.55" fill="#000"/>
<circle cx="604.61" cy="949.53" r="1.55" fill="#f21d0e"/>
<circle cx="608.56" cy="964.23" r="1.55" fill="#f21d0e"/>
<circle cx="609.6" cy="938.36" r="1.55" fill="#000"/>
<circle cx="607.85" cy="977.76" r="1.55" fill="#000"/>
<circle cx="604.54" cy="937.19" r="1.55" fill="#f21d0e"/>
<circle cx="608.86" cy="974.23" r="1.55" fill="#000"/>
<circle cx="605.78" cy="964.23" r="1.55" fill="#000"/>
<circle cx="607.31" cy="971.88" r="1.55" fill="#f21d0e"/>
<circle cx="609.1" cy="962.18" r="1.55" fill="#000"/>
<circle cx="606.08" cy="984.81" r="1.55" fill="#f21d0e"/>
<polyline points="507.93,974.69 509.81,976.24 511.69,977.59 513.57,978.73 515.45,979.64 517.33,980.33 519.21,980.78 521.09,980.98 522.97,980.94 524.85,980.65 526.73,980.12 528.61,979.35 530.49,978.35 532.37,977.14 534.25,975.72 536.13,974.12 538.01,972.34 539.89,970.4 541.77,968.34 543.65,966.16 545.53,963.9 547.41,961.57 549.29,959.21 551.17,956.83 553.05,954.47 554.93,952.15 556.81,949.89 558.69,947.72 560.57,945.65 562.45,943.73 564.33,941.95 566.21,940.35 568.09,938.94 569.97,937.73 571.85,936.74 573.73,935.98 575.61,935.46 577.49,935.18 579.37,935.14 581.25,935.35 583.13,935.81 585.01,936.5 586.89,937.43 588.77,938.57 590.65,939.93 592.53,941.48 594.41,943.2 596.29,945.09 598.18,947.12 600.06,949.26 601.94,951.5 603.82,953.81 605.7,956.16 607.58,958.54 609.46,960.9 611.34,963.24 613.22,965.53 615.1,967.73 616.98,969.83 618.86,971.8 620.74,973.63" fill="none" stroke="#000" stroke-width="3" stroke-linejoin="round" stroke-linecap="round"/>
<polyline points="507.93,965.46 509.81,966.41 511.69,967.31 513.57,968.15 515.45,968.92 517.33,969.62 519.21,970.23 521.09,970.75 522.97,971.18 524.85,971.51 526.73,971.74 528.61,971.86 530.49,971.87 532.37,971.78 534.25,971.58 536.13,971.27 538.01,970.87 539.89,970.36 541.77,969.77 543.65,969.1 545.53,968.34 547.41,967.52 549.29,966.63 551.17,965.7 553.05,964.72 554.93,963.71 556.81,962.69 558.69,961.65 560.57,960.62 562.45,959.6 564.33,958.61 566.21,957.65 568.09,956.73 569.97,955.87 571.85,955.08 573.73,954.36 575.61,953.72 577.49,953.17 579.37,952.71 581.25,952.35 583.13,952.09 585.01,951.93 586.89,951.89 588.77,951.95 590.65,952.11 592.53,952.39 594.41,952.76 596.29,953.23 598.18,953.8 600.06,954.45 601.94,955.18 603.82,955.98 605.7,956.85 607.58,957.77 609.46,958.73 611.34,959.73 613.22,960.75 615.1,961.78 616.98,962.82 618.86,963.84 620.74,964.85" fill="none" stroke="#f21d0e" stroke-width="3" stroke-linejoin="round" stroke-linecap="round"/>
<path d="M510.2 995.7L514.2 995.7L512.2 992.3Z" fill="#333"/>
<path d="M524.45 995.7L528.45 995.7L526.45 992.3Z" fill="#f21d0e"/>
<path d="M538.7 995.7L542.7 995.7L540.7 992.3Z" fill="#f21d0e"/>
<path d="M543.45 995.7L547.45 995.7L545.45 992.3Z" fill="#333"/>
<path d="M557.7 995.7L561.7 995.7L559.7 992.3Z" fill="#f21d0e"/>
<path d="M576.7 995.7L580.7 995.7L578.7 992.3Z" fill="#333"/>
</g>
<line x1="499.5" x2="502" y1="990.4" y2="990.4" stroke="#444" stroke-width="0.9"/>
<text x="495.6" y="994.8" font-size="10" text-anchor="end" fill="#2b2b2b">10</text>
<line x1="499.5" x2="502" y1="961" y2="961" stroke="#444" stroke-width="0.9"/>
<text x="495.6" y="965.4" font-size="10" text-anchor="end" fill="#2b2b2b">20</text>
<line x1="499.5" x2="502" y1="931.6" y2="931.6" stroke="#444" stroke-width="0.9"/>
<text x="495.6" y="936" font-size="10" text-anchor="end" fill="#2b2b2b">30</text>
<line x1="512.2" x2="512.2" y1="995.9" y2="998.4" stroke="#444" stroke-width="0.9"/>
<text transform="translate(508.1,1007.4) rotate(45)" font-size="8.5" fill="#222">07:00</text>
<line x1="531.2" x2="531.2" y1="995.9" y2="998.4" stroke="#444" stroke-width="0.9"/>
<text transform="translate(527.1,1007.4) rotate(45)" font-size="8.5" fill="#222">11:00</text>
<line x1="550.2" x2="550.2" y1="995.9" y2="998.4" stroke="#444" stroke-width="0.9"/>
<text transform="translate(546.1,1007.4) rotate(45)" font-size="8.5" fill="#222">15:00</text>
<line x1="569.2" x2="569.2" y1="995.9" y2="998.4" stroke="#444" stroke-width="0.9"/>
<text transform="translate(565.1,1007.4) rotate(45)" font-size="8.5" fill="#222">19:00</text>
<line x1="588.2" x2="588.2" y1="995.9" y2="998.4" stroke="#444" stroke-width="0.9"/>
<text transform="translate(584.1,1007.4) rotate(45)" font-size="8.5" fill="#222">23:00</text>
<line x1="607.2" x2="607.2" y1="995.9" y2="998.4" stroke="#444" stroke-width="0.9"/>
<text transform="translate(603.1,1007.4) rotate(45)" font-size="8.5" fill="#222">03:00</text>
<text transform="translate(34.1,889.4) rotate(-90)" font-size="10.3" text-anchor="middle" fill="#1a1a1a">Expression (counts per million)</text>
<text x="358" y="1037.7" font-size="8.6" text-anchor="middle" fill="#1a1a1a">Time of the day</text>
<text x="250.6" y="1054.7" font-size="10.2" fill="#1a1a1a">Significance</text>
<rect x="313.2" y="1046.3" width="10.5" height="10" fill="#f2f2f2"/>
<line x1="313.7" x2="323.2" y1="1051.3" y2="1051.3" stroke="#000" stroke-width="0.7" stroke-dasharray="3,1.2,1,1.2"/>
<text x="330" y="1054.7" font-size="10.2" fill="#1a1a1a">ns</text>
<rect x="362" y="1046.3" width="10.5" height="10" fill="#f2f2f2"/>
<line x1="362.5" x2="372" y1="1051.3" y2="1051.3" stroke="#000" stroke-width="1"/>
<text x="380.3" y="1053.5" font-size="7" fill="#1a1a1a">*</text>
<rect x="389.3" y="1046.3" width="10.5" height="10" fill="#f2f2f2"/>
<line x1="389.8" x2="399.3" y1="1051.3" y2="1051.3" stroke="#000" stroke-width="2"/>
<text x="407.6" y="1053.5" font-size="7" fill="#1a1a1a">**</text>
<rect x="421.4" y="1046.3" width="10.5" height="10" fill="#f2f2f2"/>
<line x1="421.9" x2="431.4" y1="1051.3" y2="1051.3" stroke="#000" stroke-width="3.4"/>
<text x="439.7" y="1053.5" font-size="7" fill="#1a1a1a">***</text>
</svg></body></html>
